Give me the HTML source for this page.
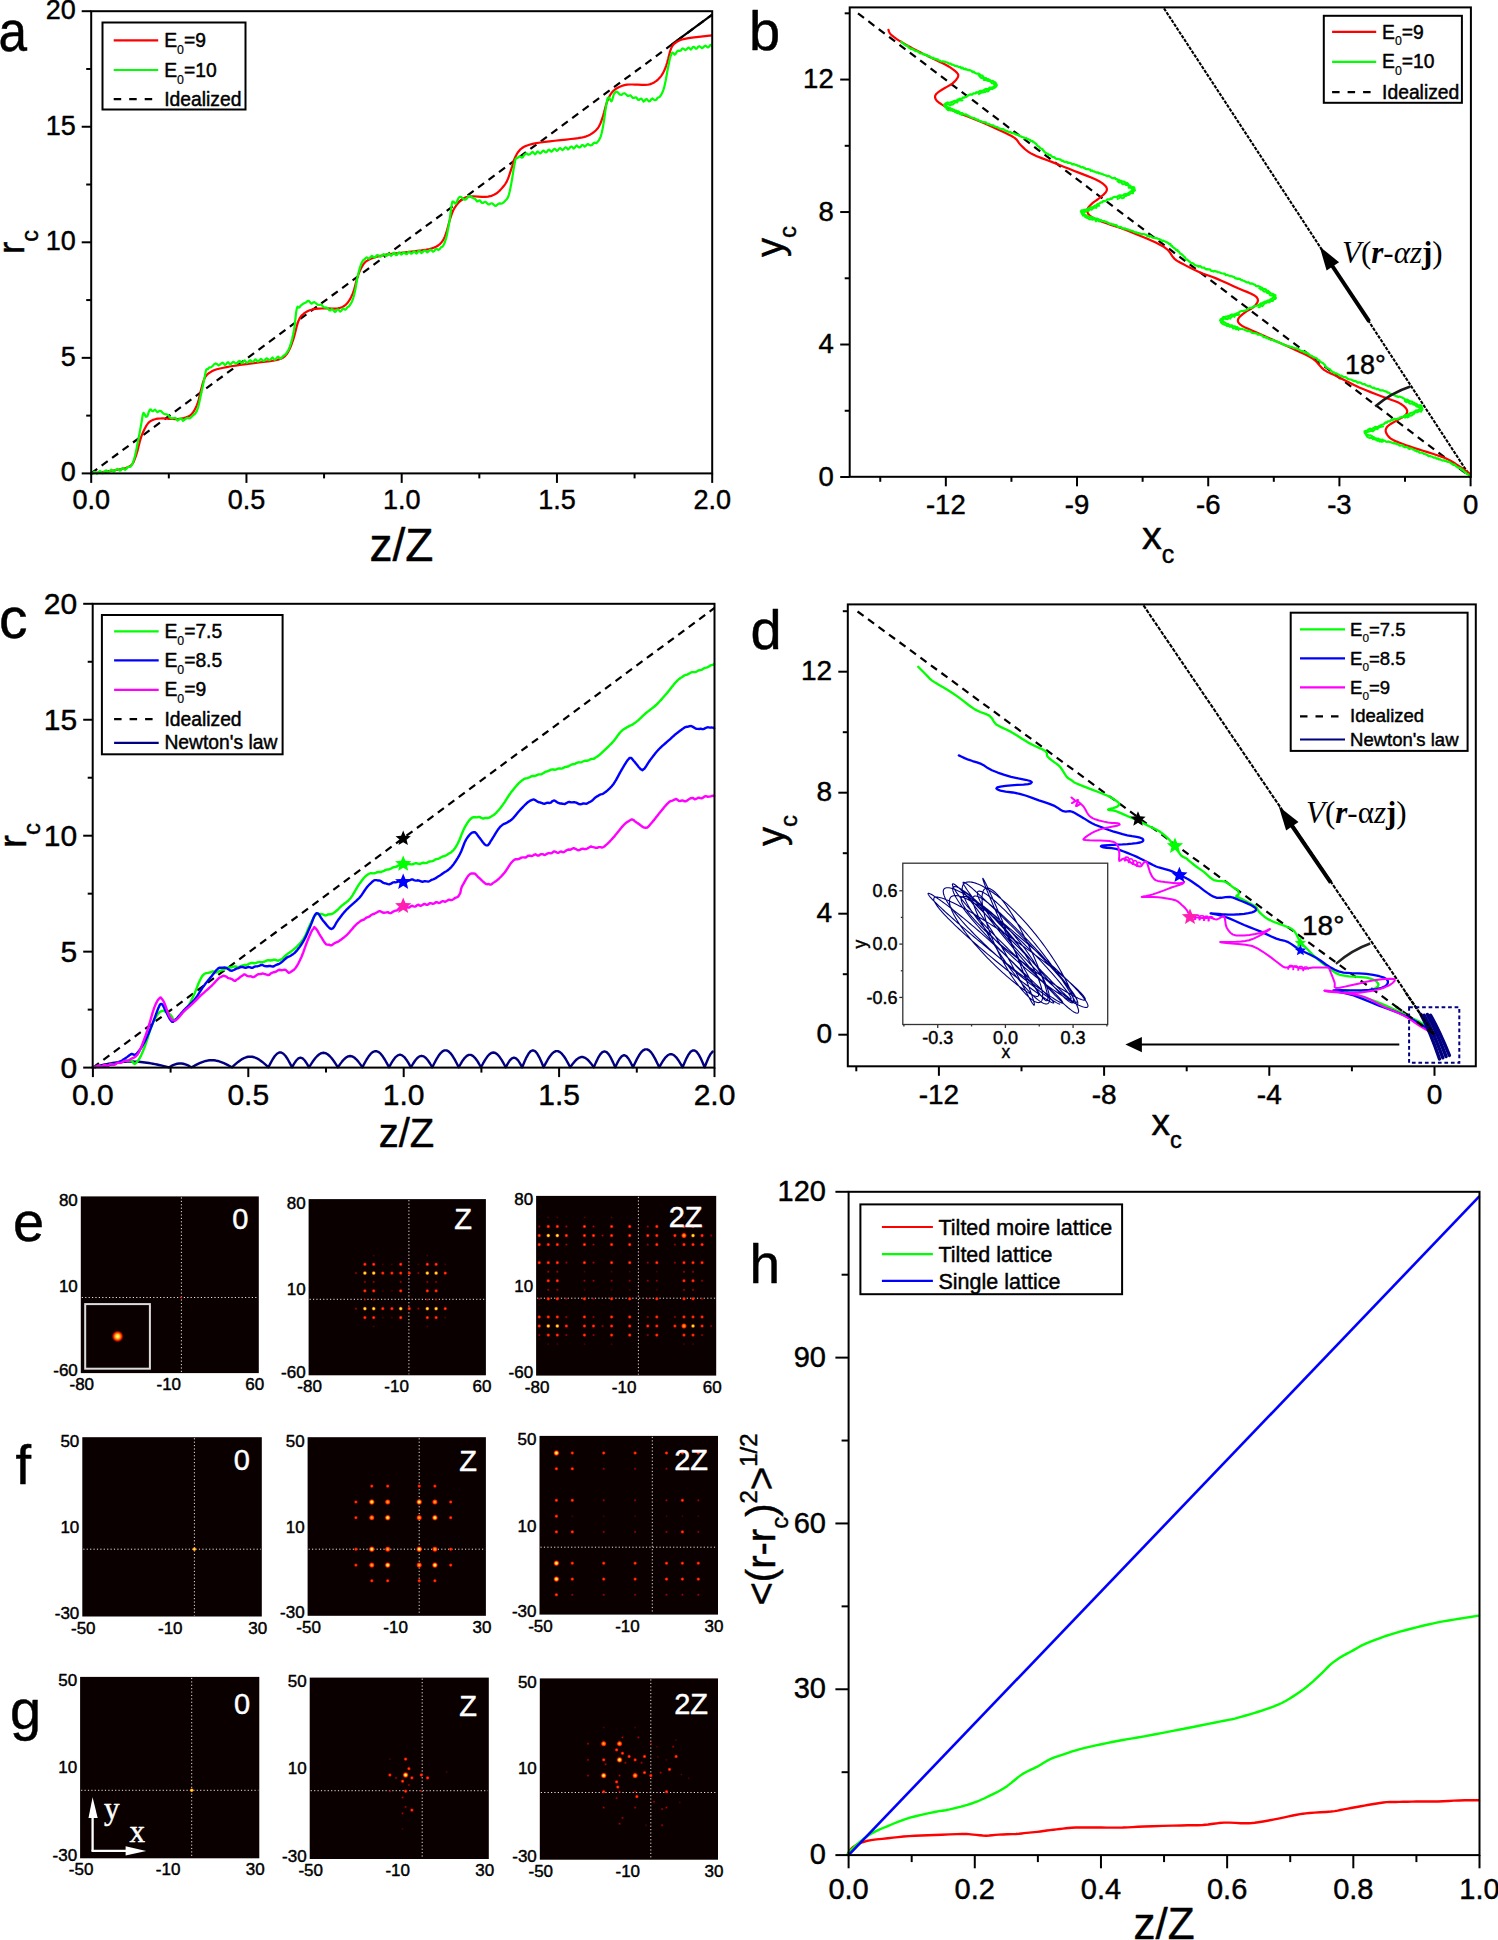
<!DOCTYPE html><html><head><meta charset="utf-8"><style>html,body{margin:0;padding:0;background:#fff;width:1498px;height:1940px;overflow:hidden}</style></head><body><svg width="1498" height="1940" viewBox="0 0 1498 1940" style="display:block">
<style>text{stroke:#000;stroke-width:0.45px;stroke-linejoin:round}text.w{stroke:#fff}tspan.s{stroke-width:0.2px}text.n{stroke:none}</style>
<rect width="1498" height="1940" fill="#fff"/>
<line x1="91.2" y1="473.4" x2="712.2" y2="14.67" stroke="#000" stroke-width="2.2" stroke-dasharray="7.5,5.5"/>
<line x1="671.84" y1="44.48" x2="712.2" y2="14.67" stroke="#000" stroke-width="2.2" />
<polyline points="91.07,473.33 94.77,472.91 100.08,472.32 105.97,471.59 111.37,470.77 116.33,469.97 121.32,469.14 125.87,468.05 129.53,466.5 131.98,464.48 133.54,462.09 134.69,459.23 135.94,455.81 137.33,451.45 138.61,446.33 139.9,441.14 141.28,436.58 142.81,432.73 144.42,429.24 146.06,426.21 147.69,423.76 149.24,422.02 150.76,420.89 152.35,420.13 154.1,419.49 155.99,418.95 157.98,418.65 160.16,418.49 162.65,418.42 165.6,418.51 168.93,418.78 172.32,419.02 175.47,419.06 178.39,418.86 181.21,418.51 183.83,418.01 186.15,417.35 188.08,416.61 189.69,415.77 191.14,414.66 192.56,413.08 194.02,410.91 195.44,408.27 196.75,405.36 197.91,402.39 198.83,399.34 199.58,396.12 200.28,392.83 201.11,389.57 202,386.22 202.91,382.76 203.99,379.51 205.38,376.75 207.12,374.62 209.12,372.95 211.39,371.57 213.93,370.34 216.84,369.29 220.07,368.47 223.45,367.79 226.75,367.14 229.76,366.54 232.63,366.04 235.77,365.55 239.57,365 244.41,364.35 249.99,363.64 255.7,362.92 260.94,362.22 265.71,361.63 270.29,361.1 274.46,360.49 278.03,359.66 280.82,358.72 282.98,357.69 284.8,356.32 286.58,354.32 288.36,351.57 289.99,348.24 291.51,344.48 292.99,340.43 294.4,335.72 295.73,330.41 297.02,325.3 298.33,321.2 299.59,318.43 300.8,316.52 302.11,315.09 303.68,313.72 305.49,312.35 307.48,311.18 309.71,310.21 312.22,309.44 315.13,308.93 318.37,308.64 321.74,308.49 325.04,308.38 328.35,308.4 331.72,308.58 334.96,308.65 337.86,308.38 340.35,307.76 342.54,306.91 344.52,305.72 346.41,304.1 348.21,301.98 349.88,299.43 351.42,296.54 352.82,293.42 354.04,289.88 355.09,285.94 356.08,282 357.09,278.46 358.11,275.41 359.1,272.65 360.15,270.12 361.37,267.78 362.57,265.63 363.77,263.7 365.37,261.94 367.78,260.3 370.85,258.8 374.44,257.45 378.98,256.19 384.87,254.96 393.19,253.71 403.39,252.49 413.45,251.35 421.37,250.34 426.36,249.58 429.59,249 431.91,248.4 434.19,247.56 436.51,246.48 438.46,245.25 440.15,243.84 441.67,242.22 442.96,240.46 444,238.55 444.95,236.34 445.94,233.68 447.01,230.29 448.08,226.33 449.15,222.31 450.21,218.72 451.21,215.7 452.15,212.98 453.19,210.45 454.49,208.03 456.11,205.62 457.96,203.29 459.95,201.2 461.97,199.49 463.88,198.22 465.77,197.31 467.9,196.69 470.51,196.28 473.95,196.24 477.99,196.54 482.03,196.87 485.47,196.92 488.11,196.65 490.28,196.2 492.18,195.58 494.02,194.79 495.77,193.84 497.36,192.73 498.87,191.42 500.43,189.87 502.08,188.07 503.77,186.03 505.39,183.77 506.84,181.32 508.06,178.64 509.11,175.72 510.09,172.66 511.11,169.57 512.13,166.34 513.11,162.96 514.17,159.68 515.38,156.75 516.74,154.21 518.19,151.94 519.84,149.94 521.79,148.21 524.02,146.8 526.47,145.69 529.26,144.78 532.48,143.93 536.2,143.17 540.36,142.53 544.85,141.95 549.57,141.37 554.81,140.75 560.52,140.15 566.1,139.57 570.94,139.02 574.85,138.55 578.15,138.15 581.06,137.7 583.76,137.09 586.25,136.33 588.43,135.45 590.42,134.43 592.31,133.25 594.11,131.93 595.78,130.47 597.32,128.8 598.72,126.84 599.94,124.57 600.99,122.03 601.97,119.23 602.99,116.15 604.01,112.61 604.99,108.68 606.05,104.74 607.26,101.2 608.62,98.1 610.07,95.25 611.72,92.71 613.68,90.51 616.05,88.69 618.75,87.21 621.59,86.05 624.36,85.17 626.98,84.66 629.57,84.5 632.22,84.52 635.04,84.53 638.2,84.62 641.59,84.84 644.91,84.96 647.86,84.74 650.35,84.15 652.54,83.3 654.52,82.21 656.41,80.9 658.21,79.36 659.88,77.59 661.42,75.6 662.82,73.42 664.04,71.07 665.09,68.54 666.08,65.78 667.09,62.74 668.11,59.1 669.1,54.99 670.15,51.02 671.37,47.78 672.72,45.5 674.17,43.84 675.82,42.54 677.78,41.37 679.85,40.33 682.05,39.54 684.79,38.86 688.46,38.16 693.99,37.37 700.88,36.57 707.44,35.87 711.97,35.38" fill="none" stroke="#ff0000" stroke-width="2.2" stroke-linejoin="round" stroke-linecap="round" />
<polyline points="91.07,473.33 92.31,473.92 93.55,472.26 94.79,471.78 95.86,472.82 96.93,473.58 98.01,472.98 99.08,471.83 100.15,470.98 101.33,471.98 102.51,473.35 103.69,472.51 104.86,471.11 106.04,470.36 107.11,471.43 108.17,472.18 109.24,471.83 110.3,470.39 111.37,469.64 112.56,470.72 113.75,471.66 114.95,470.77 116.14,469.53 117.32,468.86 118.5,469.7 119.67,470.55 120.85,470.33 121.91,468.59 122.97,468.09 124.03,469.05 125.09,469.78 126.21,469.05 127.34,467.32 128.46,466.87 129.55,466.9 130.65,466.68 131.93,464.83 132.38,463.85 132.82,462.88 133.31,461.48 133.8,460.09 134.1,459.08 134.39,458.07 134.68,457.06 134.97,456.05 135.19,455.06 135.41,454.06 135.63,453.06 135.85,452.07 136.07,451.07 136.28,450.01 136.49,448.96 136.69,447.9 136.9,446.84 137.11,445.79 137.3,444.8 137.5,443.81 137.69,442.83 137.88,441.84 138.08,440.85 138.3,439.71 138.53,438.57 138.75,437.42 138.98,436.28 139.19,435.15 139.4,434.03 139.6,432.9 139.81,431.77 140.01,430.71 140.2,429.65 140.39,428.59 140.58,427.53 140.81,426.28 141.05,425.02 141.28,423.76 141.48,422.6 141.67,421.45 141.87,420.29 142.03,419.22 142.19,418.15 142.35,417.08 142.59,415.81 142.83,414.55 143.42,412.82 144.14,413.37 144.95,415.01 145.8,416.76 146.62,416.66 147.4,416.11 147.78,414.96 148.16,413.81 148.56,412.61 148.95,411.42 149.83,409.68 150.82,409.47 151.9,410.9 153.01,411.17 154.1,410.22 155.15,409.69 156.17,410.88 157.23,412.14 158.38,411.64 159.64,410.75 160.98,411.01 162.36,412.56 163.72,413.8 165.03,414.19 166.32,414.32 167.65,414.77 169.06,416.22 170.54,417.94 172.06,418.34 173.69,418 175.47,417.83 176.49,419.19 177.51,420.58 178.63,419.98 179.74,418.88 180.86,418.4 181.98,419.38 183,420.83 184.02,420.19 185.77,418.65 187.36,417.84 188.87,418.31 190.43,418.05 192.08,416.54 192.92,415.28 193.77,414.76 194.58,414.27 195.39,413.39 196.11,412.17 196.84,410.94 197.25,409.75 197.67,408.56 198.08,407.37 198.35,406.26 198.63,405.15 198.9,404.04 199.17,402.93 199.42,401.75 199.67,400.57 199.92,399.4 200.17,398.22 200.4,397.13 200.64,396.03 200.88,394.94 201.11,393.85 201.34,392.84 201.56,391.84 201.79,390.84 202.01,389.83 202.22,388.85 202.43,387.87 202.64,386.88 202.85,385.9 203.1,384.67 203.36,383.44 203.62,382.2 203.85,381.1 204.08,379.99 204.32,378.89 204.51,377.9 204.71,376.9 204.9,375.91 205.14,374.56 205.38,373.21 205.63,372.08 205.87,370.95 206.45,369.27 207.15,369.14 207.92,369.19 208.76,367.83 209.66,367.42 210.55,367.45 211.46,366.89 212.54,366.14 213.93,364.36 215.57,363.44 217.4,364.33 218.52,365.44 219.64,364.88 221.06,363.54 222.48,362.58 223.67,363.56 224.86,365.07 226.05,364.47 227.09,362.97 228.14,362.14 229.18,363.47 230.22,364.53 231.37,363.62 232.51,362.31 233.65,361.79 234.8,362.78 235.99,363.76 237.19,363.08 238.38,361.53 239.57,360.91 240.6,361.91 241.63,363.24 242.66,362.54 243.69,361.24 244.71,360.31 245.82,361.81 246.93,362.78 248.04,362.34 249.15,360.76 250.26,360.2 251.36,361.11 252.47,361.9 253.58,361.7 254.69,359.85 255.8,359.36 256.83,360.6 257.86,361.59 258.88,360.98 259.91,359.69 260.94,358.97 262.15,359.88 263.35,360.87 264.56,360.59 265.76,358.83 266.93,358.41 268.09,359.23 269.26,360.19 270.42,359.78 271.47,358.35 272.52,357.47 273.56,358.79 274.61,359.84 275.75,359.15 276.89,357.6 278.03,356.63 279.22,357.77 280.41,358.67 281.97,357.45 283.17,356.06 284.44,355.05 285.16,354.63 285.88,353.87 286.56,352.94 287.25,352.02 287.9,350.87 288.55,349.72 288.96,348.76 289.37,347.8 289.79,346.84 290.18,345.65 290.57,344.46 290.96,343.27 291.24,342.22 291.52,341.18 291.8,340.14 292.08,339.09 292.34,337.95 292.6,336.8 292.86,335.66 293.12,334.52 293.36,333.32 293.59,332.13 293.83,330.94 294.06,329.74 294.22,328.65 294.37,327.55 294.53,326.45 294.68,325.35 294.84,324.25 294.95,323.23 295.06,322.21 295.16,321.19 295.27,320.17 295.38,319.15 295.49,318.12 295.61,316.99 295.74,315.86 295.87,314.73 295.99,313.6 296.12,312.47 296.3,311.44 296.48,310.42 296.66,309.4 296.84,308.38 297.24,307.46 297.65,306.53 298.49,307.68 299.42,307.5 300.47,305.8 301.61,305.01 302.83,303.93 304.21,303.24 305.81,302.58 307.77,300.84 308.9,300.96 310.02,302.18 311.16,303.57 312.3,303.35 313.33,302.23 314.36,302.1 316.06,303.47 317.56,304.67 319.07,305.02 320.77,304.51 321.76,304.81 322.76,306.25 323.83,307.32 324.91,307.69 326.02,307.4 327.13,307.9 328.22,308.88 329.32,310.18 330.38,310.49 331.45,309.2 332.52,309.25 333.59,310.46 334.66,311.83 335.73,311.56 336.79,309.79 337.86,309.44 338.97,310.18 340.08,311.57 341.21,310.79 342.34,309.36 343.42,308.46 344.5,309.38 345.45,309.75 346.41,308.65 347.22,307.44 348.02,306.85 348.72,306.46 349.42,305.71 350.03,304.84 350.64,303.97 351.2,302.97 351.75,301.97 352.23,300.86 352.7,299.75 353.1,298.52 353.49,297.29 353.85,295.9 354.21,294.5 354.46,293.43 354.71,292.36 354.96,291.28 355.22,289.97 355.47,288.67 355.73,287.36 355.92,286.24 356.11,285.11 356.3,283.99 356.49,282.87 356.69,281.73 356.89,280.59 357.09,279.45 357.29,278.31 357.51,277.28 357.72,276.25 357.94,275.22 358.16,274.19 358.49,272.94 358.81,271.7 359.13,270.46 359.48,269.27 359.82,268.09 360.17,266.91 360.53,265.87 360.9,264.83 361.27,263.8 361.85,262.58 362.44,261.37 363.42,259.91 364.31,259.71 365.59,258.18 366.68,257.35 367.78,258.04 368.78,258.69 369.77,258.23 370.77,256.68 371.97,255.9 373.18,256.76 374.38,257.54 375.52,257.16 376.67,255.31 377.81,255.08 378.96,255.74 380.14,256.78 381.32,256.12 382.51,254.73 383.69,254.13 384.87,254.99 385.9,256.03 386.93,255.6 387.95,254.11 388.98,253.33 390.01,254.58 391.03,255.77 392.06,254.98 393.09,253.29 394.09,252.75 395.09,254.11 396.1,255.21 397.1,254.82 398.1,253.2 399.11,252.36 400.11,253.45 401.11,254.61 402.12,254.03 403.12,252.73 404.12,252.27 405.13,253.42 406.13,254.21 407.13,253.99 408.14,252.14 409.14,251.66 410.14,252.94 411.15,253.74 412.15,253.21 413.15,252.02 414.18,251.21 415.21,252.33 416.23,253.53 417.26,253.03 418.29,251.14 419.31,250.76 420.34,251.9 421.37,253.01 422.55,252.29 423.72,250.91 424.9,250.52 426.08,251.29 427.26,252.4 428.39,251.61 429.53,250.12 430.66,249.74 431.79,250.5 432.99,251.73 434.19,251.11 435.39,249.23 436.42,248.94 437.44,249.33 438.46,250.01 439.66,249.06 440.87,247.47 441.67,246.89 442.47,246.68 443.07,245.78 443.67,244.9 444.27,243.56 444.87,242.22 445.18,241.25 445.49,240.28 445.8,239.31 446.12,238.34 446.39,237.13 446.66,235.93 446.94,234.72 447.21,233.51 447.41,232.46 447.61,231.4 447.8,230.35 448,229.29 448.2,228.24 448.39,227.19 448.58,226.14 448.77,225.09 448.96,224.04 449.15,222.99 449.32,221.84 449.5,220.69 449.67,219.55 449.85,218.4 450.02,217.25 450.15,216.2 450.29,215.16 450.42,214.11 450.55,213.06 450.68,212.02 450.81,210.97 450.97,209.85 451.12,208.73 451.27,207.61 451.42,206.49 451.57,205.36 451.83,204.12 452.09,202.87 452.35,201.62 453.13,201.57 453.89,201.82 454.68,203.31 455.56,203.73 456.55,202.32 457.09,201.14 457.63,199.95 458.18,198.79 458.74,197.63 459.83,196.92 460.85,196.74 461.83,197.6 462.88,198.53 464.1,199.61 465.55,199.57 467.17,198.08 468.02,196.88 468.86,195.93 470.51,196.45 472.07,197.6 473.58,198.35 474.38,198.5 475.17,198.95 476.05,199.93 476.92,201.33 477.89,201.48 478.86,200.52 479.89,200.38 480.93,201.88 482.03,202.84 483.13,203 484.3,201.97 485.47,201.85 486.78,202.96 488.09,204.37 489.52,204.34 490.95,203.44 492.34,203.46 493.73,204.68 494.94,205.79 496.15,205.81 498.08,203.98 499.69,203.37 501.14,203.62 502.56,203.18 504.02,202.15 505.44,200.52 506.75,199.29 507.33,198.32 507.91,197.35 508.38,196.09 508.86,194.82 509.12,193.82 509.38,192.81 509.64,191.81 509.88,190.66 510.12,189.51 510.36,188.36 510.61,187.08 510.86,185.81 511.11,184.53 511.32,183.37 511.52,182.21 511.73,181.06 511.94,179.9 512.11,178.83 512.27,177.77 512.44,176.71 512.61,175.64 512.78,174.58 512.94,173.55 513.1,172.52 513.27,171.49 513.43,170.46 513.59,169.43 513.77,168.4 513.95,167.36 514.13,166.33 514.32,165.3 514.58,163.86 514.85,162.43 515.05,161.39 515.25,160.36 515.72,158.89 516.45,158.17 517.59,157.88 518.99,156.71 520.46,156.56 521.79,157.69 522.74,157.31 523.46,156.11 524.42,154.75 526.07,153.3 527.27,153.99 528.47,154.68 529.94,154.18 531.41,152.71 532.57,151.97 533.73,152.92 534.88,154.33 535.88,153.66 536.89,151.94 537.89,151.38 538.89,152.49 540.07,153.48 541.26,152.7 542.44,151.02 543.63,150.52 544.71,151.75 545.79,152.41 546.88,151.97 547.96,150.29 549.04,149.71 550.17,150.64 551.31,151.7 552.44,150.99 553.58,149.37 554.71,148.8 555.82,149.79 556.93,150.89 558.04,150.09 559.15,148.52 560.26,148.12 561.36,149.07 562.47,150.17 563.58,149.27 564.69,147.88 565.8,147.28 566.93,148.07 568.07,149.48 569.2,148.53 570.34,146.91 571.47,146.49 572.56,147.31 573.64,148.49 574.72,147.77 575.8,146.11 576.88,145.5 578.07,146.74 579.25,147.45 580.44,147.08 581.62,145.36 582.62,145 583.61,145.66 584.61,146.59 585.61,146.02 586.75,144.71 587.89,144.02 589.04,144.82 590.5,145.48 591.97,145 593.2,143.5 594.44,142.67 595.4,142.89 596.36,143.1 597.72,141.75 598.78,140.35 599.28,139.47 599.79,138.59 600.26,137.47 600.74,136.36 601.13,135.05 601.52,133.74 601.76,132.7 602,131.66 602.24,130.61 602.49,129.35 602.74,128.1 602.99,126.84 603.16,125.84 603.32,124.85 603.49,123.86 603.65,122.86 603.82,121.87 603.99,120.69 604.15,119.5 604.32,118.32 604.49,117.14 604.66,115.95 604.82,114.79 604.98,113.63 605.15,112.46 605.31,111.3 605.47,110.14 605.65,108.97 605.83,107.8 606.02,106.64 606.2,105.47 606.39,104.36 606.59,103.24 606.78,102.13 607.02,100.86 607.26,99.59 607.75,97.86 608.33,97.91 609.06,97.39 609.87,99.06 610.71,100.73 611.54,101.25 612.29,99.74 612.65,98.43 613.01,97.12 613.4,95.77 613.79,94.41 614.27,93.53 614.74,92.99 615.9,91.54 617.21,91.83 618.62,93.36 620.09,94.72 621.56,94.83 623.09,93.53 624.72,93.22 626.5,94.73 627.49,95.88 628.48,95.97 629.56,95.53 630.64,95.32 631.75,96.79 632.86,97.95 633.95,98 635.04,97.48 636.06,97.31 637.08,98.5 638.06,99.8 639.05,99.99 640.1,98.99 641.15,98.52 642.37,99.85 643.59,101.57 644.62,100.78 645.64,99.42 646.67,98.87 647.85,100.29 649.02,101.4 650.2,100.96 651.34,99.23 652.49,98.5 653.63,99.55 655.02,100.23 656.41,99.76 657.37,98 658.32,97.51 659.68,96.94 660.74,95.45 661.25,94.59 661.75,93.72 662.23,92.75 662.7,91.79 663.1,90.72 663.49,89.64 663.85,88.39 664.21,87.13 664.46,86.12 664.71,85.11 664.96,84.1 665.22,82.82 665.49,81.54 665.76,80.25 665.96,79.13 666.16,78.01 666.36,76.88 666.56,75.76 666.76,74.61 666.96,73.46 667.16,72.31 667.36,71.16 667.56,70.12 667.76,69.08 667.96,68.05 668.16,67.01 668.42,65.75 668.68,64.49 668.94,63.23 669.19,62.02 669.45,60.81 669.7,59.6 669.96,58.55 670.23,57.51 670.49,56.47 670.93,55.33 671.37,54.19 672.36,52.57 673.44,53.17 674.55,54.71 675.64,53.8 676.46,52.35 677.11,51.47 678.09,50.7 679.91,50.79 680.89,50.56 681.87,49.03 682.85,48.41 684.1,49.11 685.35,50.19 686.59,49.41 687.63,48.16 688.66,47.55 689.7,48.28 690.73,49.63 691.77,48.7 692.8,47.1 693.84,46.85 694.87,47.68 696,48.83 697.13,48.32 698.26,46.46 699.4,46.23 700.64,47.05 701.87,48.18 703.11,47.56 704.35,46.18 705.48,45.62 706.6,46.47 707.72,47.46 708.84,47 709.88,45.49 710.93,44.78 711.97,46.07" fill="none" stroke="#00ff00" stroke-width="2.2" stroke-linejoin="round" stroke-linecap="round" />
<rect x="91.2" y="11.2" width="621" height="462.2" fill="none" stroke="#000" stroke-width="2" />
<line x1="91.2" y1="473.4" x2="91.2" y2="482.9" stroke="#000" stroke-width="2" />
<line x1="246.45" y1="473.4" x2="246.45" y2="482.9" stroke="#000" stroke-width="2" />
<line x1="401.7" y1="473.4" x2="401.7" y2="482.9" stroke="#000" stroke-width="2" />
<line x1="556.95" y1="473.4" x2="556.95" y2="482.9" stroke="#000" stroke-width="2" />
<line x1="712.2" y1="473.4" x2="712.2" y2="482.9" stroke="#000" stroke-width="2" />
<line x1="168.82" y1="473.4" x2="168.82" y2="478.4" stroke="#000" stroke-width="2" />
<line x1="324.07" y1="473.4" x2="324.07" y2="478.4" stroke="#000" stroke-width="2" />
<line x1="479.32" y1="473.4" x2="479.32" y2="478.4" stroke="#000" stroke-width="2" />
<line x1="634.58" y1="473.4" x2="634.58" y2="478.4" stroke="#000" stroke-width="2" />
<line x1="81.7" y1="473.4" x2="91.2" y2="473.4" stroke="#000" stroke-width="2" />
<line x1="81.7" y1="357.85" x2="91.2" y2="357.85" stroke="#000" stroke-width="2" />
<line x1="81.7" y1="242.3" x2="91.2" y2="242.3" stroke="#000" stroke-width="2" />
<line x1="81.7" y1="126.75" x2="91.2" y2="126.75" stroke="#000" stroke-width="2" />
<line x1="81.7" y1="11.2" x2="91.2" y2="11.2" stroke="#000" stroke-width="2" />
<line x1="86.2" y1="415.62" x2="91.2" y2="415.62" stroke="#000" stroke-width="2" />
<line x1="86.2" y1="300.07" x2="91.2" y2="300.07" stroke="#000" stroke-width="2" />
<line x1="86.2" y1="184.52" x2="91.2" y2="184.52" stroke="#000" stroke-width="2" />
<line x1="86.2" y1="68.97" x2="91.2" y2="68.97" stroke="#000" stroke-width="2" />
<text x="91.2" y="509" font-size="27" font-family="Liberation Sans" text-anchor="middle" fill="#000" >0.0</text>
<text x="246.45" y="509" font-size="27" font-family="Liberation Sans" text-anchor="middle" fill="#000" >0.5</text>
<text x="401.7" y="509" font-size="27" font-family="Liberation Sans" text-anchor="middle" fill="#000" >1.0</text>
<text x="556.95" y="509" font-size="27" font-family="Liberation Sans" text-anchor="middle" fill="#000" >1.5</text>
<text x="712.2" y="509" font-size="27" font-family="Liberation Sans" text-anchor="middle" fill="#000" >2.0</text>
<text x="75.7" y="481.3" font-size="27" font-family="Liberation Sans" text-anchor="end" fill="#000" >0</text>
<text x="75.7" y="365.75" font-size="27" font-family="Liberation Sans" text-anchor="end" fill="#000" >5</text>
<text x="75.7" y="250.2" font-size="27" font-family="Liberation Sans" text-anchor="end" fill="#000" >10</text>
<text x="75.7" y="134.65" font-size="27" font-family="Liberation Sans" text-anchor="end" fill="#000" >15</text>
<text x="75.7" y="19.1" font-size="27" font-family="Liberation Sans" text-anchor="end" fill="#000" >20</text>
<text transform="translate(-1.5,50.5) scale(0.9,1)" font-size="57" font-family="Liberation Sans">a</text>
<text x="401.5" y="560.8" font-size="46" font-family="Liberation Sans" text-anchor="middle" fill="#000" >z/Z</text>
<text transform="translate(24,254) rotate(-90)" font-size="37" font-family="Liberation Sans">r<tspan font-size="23.5" dy="14">c</tspan></text>
<rect x="102.5" y="22.5" width="143" height="87" fill="#fff" stroke="#000" stroke-width="2" />
<line x1="113.7" y1="40.4" x2="158.2" y2="40.4" stroke="#ff0000" stroke-width="2.2" />
<text x="164.2" y="47" font-size="19.3" font-family="Liberation Sans">E<tspan class="s" font-size="12.35" dy="6.95">0</tspan><tspan dy="-6.95">=9</tspan></text>
<line x1="113.7" y1="70" x2="158.2" y2="70" stroke="#00ff00" stroke-width="2.2" />
<text x="164.2" y="76.6" font-size="19.3" font-family="Liberation Sans">E<tspan class="s" font-size="12.35" dy="6.95">0</tspan><tspan dy="-6.95">=10</tspan></text>
<line x1="113.7" y1="99.1" x2="158.2" y2="99.1" stroke="#000" stroke-width="2.2" stroke-dasharray="7.5,8"/>
<text x="164.2" y="105.8" font-size="19.3" font-family="Liberation Sans">Idealized</text>
<line x1="858" y1="13.4" x2="1470.6" y2="477" stroke="#000" stroke-width="2.2" stroke-dasharray="7.5,5.5"/>
<line x1="1164" y1="8.4" x2="1470.6" y2="477" stroke="#000" stroke-width="2.1" stroke-dasharray="3.4,1.2"/>
<polyline points="888.46,29.91 888.7,30.63 889,31.65 889.56,32.87 890.6,34.19 892.13,35.59 894.07,37.13 896.41,38.8 899.15,40.6 902.28,42.53 905.82,44.6 909.76,46.81 914.1,49.15 919.19,51.77 924.92,54.62 930.58,57.41 935.47,59.83 939.38,61.73 942.68,63.3 945.59,64.74 948.29,66.24 950.9,67.89 953.3,69.58 955.33,71.2 956.84,72.65 957.78,73.82 958.24,74.79 958.26,75.75 957.91,76.92 957.15,78.38 955.97,79.99 954.43,81.68 952.56,83.33 950.17,84.96 947.29,86.61 944.38,88.22 941.88,89.74 939.8,91.15 937.94,92.48 936.45,93.78 935.47,95.09 935.06,96.42 935.14,97.76 935.65,99.09 936.54,100.43 937.83,101.74 939.54,103.03 941.62,104.36 944.02,105.77 946.65,107.25 949.56,108.77 952.91,110.4 956.84,112.18 961.58,114.14 966.99,116.25 972.66,118.46 978.21,120.73 983.7,123.11 989.29,125.6 994.68,128.06 999.57,130.34 1003.96,132.36 1007.99,134.21 1011.54,136 1014.53,137.82 1016.63,139.67 1018,141.49 1019.24,143.35 1020.94,145.3 1023.06,147.36 1025.35,149.51 1028.1,151.68 1031.62,153.85 1036.21,155.98 1041.64,158.12 1047.4,160.26 1052.99,162.39 1058.33,164.53 1063.68,166.67 1069.02,168.8 1074.36,170.94 1079.98,173.13 1085.78,175.35 1091.21,177.5 1095.73,179.49 1099.16,181.27 1101.8,182.89 1103.81,184.42 1105.34,185.9 1106.39,187.28 1106.88,188.57 1106.87,189.85 1106.41,191.24 1105.38,192.77 1103.81,194.38 1101.93,196.02 1100,197.65 1097.91,199.25 1095.59,200.85 1093.34,202.46 1091.45,204.06 1089.88,205.66 1088.51,207.26 1087.55,208.87 1087.18,210.47 1087.4,212.07 1088.11,213.68 1089.43,215.28 1091.45,216.88 1094.29,218.46 1097.86,220.02 1101.97,221.61 1106.41,223.29 1110.97,224.89 1115.81,226.45 1121.3,228.3 1127.78,230.77 1136.22,234.19 1146.15,238.31 1155.75,242.58 1163.22,246.44 1167.74,249.87 1170.39,253.13 1172.21,256.07 1174.23,258.55 1176.44,260.34 1178.37,261.58 1180.43,262.69 1183.05,264.06 1186.39,265.86 1190.21,267.85 1194.3,269.87 1198.47,271.77 1202.62,273.43 1206.87,274.94 1211.33,276.52 1216.09,278.38 1221.45,280.71 1227.25,283.34 1232.98,285.97 1238.13,288.3 1242.7,290.21 1246.94,291.88 1250.62,293.41 1253.55,294.91 1255.63,296.33 1256.99,297.66 1257.73,298.99 1257.95,300.41 1257.57,302.01 1256.58,303.72 1255.16,305.42 1253.55,307.02 1251.6,308.45 1249.28,309.78 1246.89,311.1 1244.73,312.53 1242.72,314.13 1240.74,315.84 1239.11,317.54 1238.13,319.14 1237.85,320.6 1238.13,321.96 1238.95,323.3 1240.33,324.65 1242.2,325.92 1244.6,327.13 1247.61,328.47 1251.34,330.16 1256.08,332.33 1261.67,334.84 1267.61,337.49 1273.38,340.07 1278.99,342.57 1284.67,345.1 1290.21,347.58 1295.41,349.98 1300.28,352.21 1304.91,354.32 1309.19,356.46 1313.03,358.8 1316.2,361.5 1318.81,364.44 1321.29,367.32 1324.05,369.81 1326.99,371.67 1329.97,373.12 1333.29,374.56 1337.27,376.42 1342.15,378.92 1347.73,381.79 1353.58,384.74 1359.3,387.44 1364.91,389.85 1370.59,392.12 1376.13,394.25 1381.33,396.25 1386.28,398.06 1391.04,399.69 1395.35,401.26 1398.95,402.86 1401.78,404.54 1403.98,406.23 1405.59,407.89 1406.66,409.47 1407.19,410.92 1407.15,412.29 1406.59,413.63 1405.56,414.98 1403.9,416.35 1401.64,417.73 1399.13,419.11 1396.75,420.48 1394.39,421.86 1391.93,423.24 1389.68,424.62 1387.94,425.99 1386.77,427.34 1386.01,428.68 1385.67,430.05 1385.73,431.5 1386.27,433.13 1387.25,434.87 1388.57,436.59 1390.14,438.11 1391.88,439.34 1393.86,440.38 1396.18,441.39 1398.95,442.52 1402.29,443.82 1406.11,445.2 1410.21,446.62 1414.38,448.02 1418.63,449.37 1423.05,450.71 1427.54,452.08 1432,453.53 1436.36,454.95 1440.68,456.35 1445.06,458 1449.63,460.14 1454.89,463.29 1460.64,467.16 1465.84,470.83 1469.45,473.36" fill="none" stroke="#ff0000" stroke-width="2.2" stroke-linejoin="round" stroke-linecap="round" />
<polyline points="901.28,41.67 902.18,42.65 903.19,43.46 904.09,44.33 905.21,44.88 906.09,45.78 907.56,45.59 908.2,46.61 908.81,47.66 909.91,48.02 910.8,48.84 912.26,48.68 913.09,49.6 914.23,49.97 915.03,50.69 915.97,51.15 917.17,51.02 918.02,51.66 918.94,52.15 919.75,53.24 920.9,53.52 922.23,53.34 923.05,54.42 924.4,54.18 925.15,55.03 926.29,54.88 927.28,55.11 927.89,56.37 929.09,56.04 930.04,56.41 930.85,57.61 932,57.91 933.33,57.72 934.18,58.82 935.46,58.8 936.47,59.33 937.72,59.23 938.51,60.38 939.67,60.51 940.64,61.19 941.74,61.49 943.02,61.24 944.07,61.68 945.21,61.85 946.28,62.2 947.38,62.48 948.36,63.09 949.32,63.77 950.6,63.51 951.43,64.58 952.62,64.6 953.7,64.93 954.59,65.83 955.78,65.85 956.9,66.05 957.97,66.6 959.02,67.22 960.38,66.93 961.18,68.27 962.65,67.66 963.37,68.75 964.31,69.17 965.57,68.63 966.27,69.76 967.4,69.65 968.29,70.19 969.59,69.98 970.66,70.4 971.7,70.91 972.51,72.09 973.88,71.69 974.77,72.69 975.81,73.3 976.92,73.74 978.27,73.56 979.29,74.09 980.22,74.77 981.09,75.51 982.51,75.6 983.12,76.88 983.9,77.55 984.69,78.25 986.1,78.06 986.54,79.5 988.11,79.1 989.2,79.82 990.38,80.47 991.56,81.17 992.86,80.92 993.71,81.86 995.26,82.3 995.87,83.28 995.47,84.5 994.65,85.77 993.42,86.92 991.79,87.71 990.59,87.52 989.51,87.56 988.63,88.8 987.51,89.29 985.81,88.77 984.6,89.71 983.54,90.24 982.49,90.81 981.24,90.83 980.19,90.93 979.36,91.65 978.4,92.02 977.57,92.74 976.25,92.2 975.57,93.47 974.4,93.35 973.27,93.35 972.29,94.54 970.82,94.38 969.48,94.62 968.49,95.41 967.3,95.7 966.47,96.85 965.27,96.97 964.33,97.72 962.96,97.47 962.16,98.48 961.05,98.77 959.78,98.66 958.8,99.23 957.7,99.52 956.85,100.48 955.61,100.82 954.29,100.95 953.14,101.59 952.18,102.06 951.14,102.2 950.2,102.74 949.13,102.76 947.81,102.46 946.7,102.83 945.66,103.53 944.02,104.7 944.58,105.57 945.63,105.76 946.52,106.41 947.28,107.28 948.22,107.71 949.38,107.54 950.29,108.4 951.37,108.82 952.48,109.17 953.7,109.69 954.86,110.33 956.25,110.48 957.16,111.3 958.41,111.35 959.39,112.03 960.32,112.78 961.28,113.1 962.37,113.1 963,114.16 964.05,114.26 965,114.59 966.17,114.4 966.86,115.33 967.91,115.42 968.66,116.24 969.67,116.42 970.68,117.24 971.9,117.53 972.99,118.14 974.33,118.14 975.16,118.81 976.07,119.27 976.98,119.73 978.12,119.61 978.87,120.48 979.84,120.88 980.88,121.06 981.74,121.73 982.73,122.08 983.87,122.01 984.87,122.41 986.02,122.42 986.75,123.5 987.71,123.99 988.9,123.91 989.85,124.54 990.88,124.98 991.91,125.4 993.18,125.25 993.97,126.28 995.12,126.5 996.16,127.02 997.33,127.2 998.32,127.84 999.33,128.42 1000.47,128.71 1001.52,129.23 1002.89,128.96 1003.92,129.53 1004.89,130.26 1005.88,130.9 1007.14,130.89 1008.02,131.8 1009.12,132.18 1010.44,132.01 1011.39,132.88 1012.6,133.05 1013.79,133.3 1014.87,133.81 1015.92,134.43 1016.93,134.64 1017.89,135.01 1018.91,135.2 1019.7,136 1020.69,136.27 1021.56,136.87 1022.66,137.27 1023.88,137.34 1024.7,138.45 1026.15,137.95 1027.07,138.79 1028.05,139.1 1028.91,139.65 1029.97,139.79 1030.55,140.93 1031.69,140.9 1032.75,141.13 1033.27,142.21 1034.43,142.27 1035.02,143.23 1036.02,143.78 1036.71,144.71 1037.3,145.74 1038.14,146.33 1039.2,146.73 1039.66,147.77 1040.59,148.32 1041.59,148.78 1042.56,149.27 1043.05,150.3 1043.88,150.92 1044.41,151.91 1045.53,152.85 1046.91,153.47 1047.94,153.85 1048.46,154.95 1049.86,154.74 1050.91,155.44 1051.82,156.5 1052.94,157.17 1054.29,157.15 1055.23,158.12 1056.27,158.85 1057.63,158.79 1058.69,159.22 1059.85,159.38 1060.91,159.83 1061.75,160.91 1063.05,160.67 1063.81,161.58 1064.79,161.85 1065.85,161.83 1066.93,161.79 1067.64,162.85 1068.77,162.66 1069.91,162.95 1071.07,163.22 1071.95,164.29 1073.24,164.15 1074.44,164.31 1075.41,164.87 1076.57,164.87 1077.43,165.75 1078.53,165.93 1079.63,166.13 1080.47,167 1081.47,167.4 1082.78,166.92 1083.61,167.81 1084.72,167.9 1085.54,168.96 1086.66,169.17 1087.91,168.98 1088.96,169.38 1090.06,169.63 1090.72,170.83 1091.94,170.45 1092.79,171.11 1093.8,171.31 1094.71,171.82 1095.69,172.12 1096.64,172.6 1097.86,172.29 1098.63,173.3 1099.79,173.16 1100.71,173.74 1101.78,173.88 1102.79,174.18 1103.69,174.75 1104.69,175.01 1105.71,175.23 1106.55,175.96 1107.58,176.13 1108.76,175.88 1109.66,176.43 1110.57,176.97 1111.45,177.81 1112.51,178.14 1113.69,178.15 1114.93,177.96 1115.71,179.11 1116.89,179.11 1117.88,179.62 1118.95,180.18 1120.1,180.51 1121.27,180.77 1122.23,181.63 1123.55,181.51 1124.61,182.01 1125.44,182.97 1126.84,182.83 1128.32,184.06 1128.71,185.37 1130.15,185.48 1131.26,186.86 1132.79,187.1 1133.97,187.27 1134.42,188.09 1133.2,189 1132.37,189.59 1132.17,190.94 1130.94,191.4 1129.9,192.07 1128.86,192.75 1127.86,193.54 1126.78,194.18 1125.48,194.19 1124.15,194.3 1123.09,195.44 1121.64,195.62 1120.07,195.34 1119.05,195.67 1118.07,196.11 1117.25,197.08 1115.85,196.74 1114.6,196.86 1113.43,197.22 1112.57,197.86 1111.84,198.87 1110.59,198.37 1109.85,199.34 1108.71,199.25 1107.62,199.29 1106.73,199.89 1105.97,200.84 1104.68,201.16 1103.2,201.01 1102.29,202.28 1100.93,202.35 1099.87,203.08 1098.85,203.86 1097.5,203.98 1096.68,205.13 1095.53,205.64 1094.34,205.94 1093.44,206.79 1092.39,207.36 1091.18,207.32 1090.15,207.63 1089.16,207.95 1088.06,209.21 1086.55,209.41 1085.24,209.9 1083.81,209.96 1082.8,210.41 1081.52,210.32 1080.9,211.58 1081.53,212.2 1082.52,213.79 1083.88,213.82 1084.71,214.85 1085.97,215.27 1087,216.23 1088.36,216.34 1089.54,216.88 1091,216.94 1092.24,217.67 1093.45,217.7 1094.4,218.56 1095.59,218.66 1096.82,218.62 1097.89,219.09 1098.94,219.59 1099.92,220.33 1101.07,220.08 1101.83,220.97 1102.8,221.24 1103.96,220.98 1104.7,221.92 1105.86,221.65 1106.82,222.03 1107.61,222.85 1108.71,222.83 1109.44,223.83 1110.55,223.76 1111.57,223.93 1112.37,224.77 1113.71,224.34 1114.53,225.44 1115.84,225.11 1116.87,225.58 1117.65,226.79 1118.81,226.88 1120.04,226.77 1121.06,226.99 1121.74,228.21 1122.82,228.22 1123.75,228.71 1124.97,228.33 1125.78,229.17 1126.85,229.22 1127.87,229.42 1128.81,229.83 1129.71,230.43 1130.77,230.46 1131.74,230.8 1132.81,230.85 1133.56,231.88 1134.61,232 1135.54,232.47 1136.64,232.38 1137.49,233.11 1138.57,233.05 1139.53,233.42 1140.51,233.69 1141.44,234.16 1142.53,234.09 1143.6,234.07 1144.6,234.29 1145.52,234.76 1146.56,234.88 1147.32,236.1 1148.49,235.99 1149.43,236.6 1150.72,236.12 1151.6,236.94 1152.5,237.7 1153.63,237.74 1154.73,237.86 1155.75,238.22 1156.96,238.22 1158.01,238.66 1159.07,239.05 1160.06,239.65 1161.12,240.05 1162.01,240.94 1163.36,240.58 1164.31,241.14 1165.27,241.63 1166.3,241.97 1167.21,242.55 1168.23,242.97 1169.14,243.89 1170.46,244.17 1170.94,245.66 1172.12,245.87 1172.53,247.04 1173.52,247.52 1174.46,248.3 1175.53,248.93 1176.11,250.11 1177.53,250.16 1177.94,251.34 1179.03,251.77 1179.56,252.81 1180.32,253.66 1181.56,254.04 1182.34,254.89 1183.28,255.57 1183.94,256.53 1184.88,257.21 1185.45,258.26 1185.85,259.53 1187.15,259.7 1188.05,260.34 1188.81,261.15 1189.79,261.66 1190.42,262.59 1191.31,263.09 1192.5,263.07 1193.33,263.64 1194.33,264.61 1195.41,265.41 1196.76,265.66 1197.82,265.8 1198.58,266.72 1199.92,266.08 1200.87,266.49 1201.7,267.62 1202.92,267.61 1204.15,267.62 1205.06,268.52 1205.92,269.31 1207.09,269.14 1208.15,269.29 1209.25,269.34 1210.26,269.64 1211.11,270.84 1212.35,270.73 1213.32,271.52 1214.71,270.91 1215.76,271.43 1216.97,271.56 1218.02,272.25 1219.27,272.23 1220.37,272.76 1221.48,273.25 1222.64,273.49 1223.86,273.57 1224.99,273.9 1225.83,275.23 1227.22,274.74 1228.24,275.46 1229.41,275.73 1230.5,276.24 1231.78,276.15 1232.84,276.76 1233.87,276.88 1234.68,277.66 1235.5,278.38 1236.58,278.38 1237.45,278.97 1238.64,278.64 1239.83,278.83 1240.75,279.77 1241.88,280.11 1242.96,280.59 1244.14,280.79 1245.06,281.42 1246.03,281.9 1246.97,282.46 1248.21,282.22 1249.16,282.74 1250.14,283.57 1251.52,283.4 1252.69,283.73 1253.75,284.38 1254.88,284.58 1255.63,285.71 1256.64,286.19 1257.9,286.11 1258.9,286.33 1259.84,286.69 1260.68,287.26 1261.67,287.51 1262.54,288.35 1263.5,288.98 1264.69,289.15 1265.96,289.63 1266.77,290.89 1268.01,290.88 1268.75,291.61 1270.02,292.72 1271.24,293.68 1272.84,294.04 1274.23,294.82 1275.43,295.19 1275.31,295.93 1274.76,296.91 1273,297.71 1272.13,298.52 1271.05,299.01 1270.04,299.76 1269,300.47 1267.6,300.65 1266.46,301.36 1264.95,301.6 1263.65,302.38 1262.68,302.78 1261.88,303.59 1260.69,303.4 1259.9,304.21 1259.05,304.83 1258.13,305.26 1256.71,305.71 1255.3,306.16 1253.75,306.29 1252.53,307.24 1251.25,308.02 1249.58,307.86 1248.29,308.62 1247.13,309.71 1245.8,310.22 1244.44,310.68 1243.06,310.98 1241.56,310.99 1240.16,311.45 1238.94,312.34 1238.07,313.12 1236.97,313.31 1235.97,313.78 1234.96,314.14 1234.06,314.81 1232.85,314.54 1231.75,314.62 1230.6,315.08 1229.61,316.1 1228.29,316 1227.22,316.73 1225.99,316.53 1225.03,317.16 1223.8,317 1222.78,317.52 1221.91,318.85 1220.67,319.25 1220.13,320.59 1222.17,321.38 1223.42,321.88 1224.66,322.41 1225.75,323.28 1226.91,323.98 1228.24,324.12 1229.19,325.1 1230.62,325.25 1232.09,325.28 1232.76,326.37 1233.88,326.33 1234.97,326.31 1235.73,327.66 1237.19,327.08 1238.1,328.03 1239.09,328.24 1239.92,328.96 1241.04,328.76 1242.05,328.88 1243.1,329.25 1244.2,329.49 1245.16,330.18 1246.29,330.28 1247.33,331.04 1248.65,330.86 1249.77,331.32 1250.96,331.56 1251.68,332.66 1252.71,332.83 1253.68,333.17 1254.73,333.26 1255.79,333.36 1256.93,333.49 1257.7,334.6 1258.87,334.65 1260.09,334.58 1261.08,335.12 1262.22,335.5 1263.07,336.59 1264.11,337.23 1265.51,336.97 1266.37,338.03 1267.51,337.94 1268.31,338.7 1269.18,339.27 1270.23,339.42 1271.1,339.99 1272.22,339.94 1273.3,339.94 1274.04,340.82 1274.94,341.26 1276.04,341.22 1276.89,341.79 1277.85,342.09 1278.9,342.12 1279.74,342.75 1280.66,343.15 1281.57,343.59 1282.43,344.16 1283.48,344.17 1284.24,345.1 1285.26,345.25 1286.18,345.68 1287.22,345.76 1288.19,346.06 1289.2,346.24 1290.22,346.89 1291.48,346.81 1292.51,347.43 1293.59,347.89 1294.76,348.11 1295.86,348.24 1296.95,348.41 1297.96,348.8 1298.86,349.46 1299.78,350.07 1300.81,350.72 1301.93,351.15 1303.21,351.22 1304.04,352.32 1305.34,352.13 1306.12,353.04 1307.42,352.87 1308.09,354.02 1309.03,354.42 1309.79,355.18 1310.73,355.6 1311.74,355.87 1312.78,356.68 1313.97,357.25 1315.17,357.8 1316.46,358.16 1317.3,359.16 1318.09,360.22 1319.47,360.42 1319.89,361.81 1321.12,362.21 1322.1,362.84 1323.25,363.27 1323.83,364.34 1324.81,364.85 1325.31,365.95 1325.97,366.84 1326.98,367.73 1328.22,368.36 1329.22,368.95 1330.24,369.48 1330.85,370.75 1331.95,371.41 1332.89,372.15 1334.1,372.41 1334.87,373.5 1336.3,373.34 1337.36,373.93 1338.49,374.4 1339.43,375.26 1340.39,375.98 1341.77,375.67 1342.64,376.58 1343.66,377.15 1344.95,377.04 1346.01,377.25 1346.8,378.15 1347.7,378.8 1348.67,379.23 1349.73,379.45 1350.84,379.51 1351.89,379.91 1352.89,380.4 1353.8,381.18 1355.08,380.95 1356.13,381.32 1357.05,382.04 1357.92,382.77 1359.2,382.31 1360.25,382.51 1361.21,382.95 1362.04,383.77 1363.02,384.16 1364.16,384.08 1365.11,384.41 1365.92,385.16 1366.86,385.54 1367.8,385.91 1368.74,386.28 1369.94,385.91 1370.74,386.68 1371.57,387.37 1372.6,387.86 1373.9,387.56 1374.78,388.48 1375.93,388.63 1376.9,389.29 1378.22,388.93 1379.12,389.78 1380.16,390.3 1381.38,390.31 1382.61,390.29 1383.67,390.77 1384.77,391.11 1385.88,391.42 1386.92,391.87 1387.81,392.73 1389.05,392.58 1389.87,393.64 1390.93,394 1392.02,394.5 1393.15,394.9 1394.31,395.23 1395.35,395.86 1396.33,396.28 1397.47,396.32 1398.34,397.05 1399.68,396.55 1400.64,396.92 1401.61,397.26 1402.52,397.78 1403.41,398.32 1404.33,398.79 1405.18,399.39 1406.11,399.83 1407.33,399.53 1408.39,400.35 1409.52,400.97 1410.78,401.29 1411.95,401.48 1412.81,402.41 1413.97,402.64 1415.17,403.55 1416.58,403.96 1417.49,404.91 1418.62,405.37 1420.85,405.26 1421.61,406.61 1421.85,407.19 1421.36,408.43 1420.52,409.16 1419.41,409.35 1418.27,410.04 1416.89,410.23 1415.5,410.65 1414.43,411.79 1413.5,412.32 1412.43,412.56 1411.37,412.8 1410.22,413.18 1409.19,413.87 1408.2,414.63 1407,415.07 1405.62,415.02 1404.58,415.83 1403.62,416.76 1402.33,416.82 1401.26,417.45 1399.96,417.4 1399.04,418.41 1397.83,418.6 1396.72,419.15 1395.44,419.11 1394.11,418.94 1393.15,419.76 1392.08,420.28 1390.78,420.06 1390.09,421.29 1388.99,421.38 1387.81,421.27 1386.97,422.62 1385.42,422.4 1384.65,423.33 1383.86,424.19 1382.74,424.51 1381.63,424.85 1380.42,425.52 1379.12,425.98 1378.07,426.9 1376.79,427.17 1375.3,426.82 1374.39,427.73 1373.28,428.06 1372.31,428.82 1371.15,428.98 1369.91,428.63 1369.03,429.27 1368.1,429.81 1367.33,430.62 1366.02,430.94 1364.56,431.32 1364.67,432.65 1365.78,433.86 1366.68,434.7 1367.86,434.97 1369.06,435.5 1370.51,435.44 1371.79,435.95 1372.76,437.23 1373.91,437.2 1374.75,438.02 1375.78,438.31 1376.93,438.77 1378.29,438.57 1379.27,439.58 1380.37,439.64 1381.35,440.1 1382.62,439.63 1383.44,440.61 1384.75,440.59 1385.78,441.52 1386.97,441.9 1388.4,441.43 1389.42,441.96 1390.55,442.11 1391.57,442.63 1392.7,442.74 1393.67,443.45 1394.81,443.16 1395.76,443.5 1396.64,444.08 1397.73,443.97 1398.61,444.58 1399.41,445.4 1400.41,445.71 1401.65,445.31 1402.71,445.45 1403.44,446.62 1404.4,447.08 1405.53,447.03 1406.77,446.93 1407.8,447.42 1408.61,448.51 1409.67,448.91 1411.07,448.35 1412.09,448.89 1412.97,449.52 1414,449.72 1414.79,450.59 1415.91,450.57 1416.73,451.35 1417.94,451.08 1418.77,451.83 1419.57,452.67 1420.65,452.77 1421.86,452.51 1422.83,452.91 1423.59,453.83 1424.67,453.93 1425.65,454.3 1426.67,454.81 1427.7,455.32 1428.62,456.12 1429.97,455.77 1430.91,456.51 1432.09,456.59 1432.98,457.22 1433.91,457.75 1435.11,457.46 1435.99,458.15 1436.91,458.72 1438.14,458.33 1438.84,459.42 1439.91,459.35 1440.84,459.74 1441.76,460.15 1442.65,460.63 1443.86,460.16 1444.78,460.99 1446.02,460.87 1446.98,461.59 1448.07,461.91 1449.28,461.95 1450.17,462.66 1451.09,463.23 1451.99,463.86 1452.86,464.56 1454.1,464.42 1454.95,465.13 1455.78,465.86 1456.6,466.63 1457.52,467.2 1458.42,467.78 1459.72,467.79 1460.69,468.31 1461.08,469.64 1462.51,469.52 1463.15,470.49 1463.89,471.48 1464.96,472.05 1465.98,472.67 1466.55,473.87 1467.85,474.02 1468.55,474.92 1469.45,475.56" fill="none" stroke="#00ff00" stroke-width="2.2" stroke-linejoin="round" stroke-linecap="round" />
<polyline points="978.67,75.46 979.62,76.1 980.28,77.1 981.27,78.01 982.57,78.01 983.7,78.65 983.83,79.99 985.12,80.03 986.68,79.7 987.24,80.83 988.51,81.02 989.88,81.25 990.96,82.06 991.93,83.24 993.12,83.24 993.91,84.11 996.03,83.65 996.97,85.12 996.23,86.57 994.99,87.62 993.51,88.38 992.09,89.14 991.03,88.73 989.84,89.34 988.89,90.53 987.91,91.52 986.26,90.97 985.26,92 983.91,92.09 982.84,92.54 981.64,92.61 980.66,92.99 979.82,93.65 978.8,93.92" fill="none" stroke="#00ff00" stroke-width="2" stroke-linejoin="round" stroke-linecap="round" />
<polyline points="962.56,100.38 961.44,100.53 960.07,100.02 958.95,100.54 957.76,100.91 957.37,102.56 955.88,102.01 954.73,102.96 953.68,103.77 952.77,104.58 951.53,104.09 950.75,105.17 949.49,105.02 948.21,104.18 946.9,104.34 945.83,105.1 945.62,106.56 945.11,106.72 945.19,107.14 946,107.73 946.55,108.71 947.39,109.56 948.53,110.3 949.73,109.57 950.57,110.49 951.88,110.41 952.98,110.79 954.3,111.16 955.24,112.28 956.58,112.54 957.52,113.31 958.87,113.08 959.86,113.83 960.92,114.34 961.68,115" fill="none" stroke="#00ff00" stroke-width="2" stroke-linejoin="round" stroke-linecap="round" />
<polyline points="1117.29,181.01 1118.19,181.71 1119.16,182.55 1120.59,182.07 1121.56,182.89 1122.44,184.13 1123.85,184.05 1125.31,183.52 1125.76,185.1 1127.17,184.91 1128.72,185.96 1128.65,187.85 1130.53,187.42 1131.71,188.68 1133.08,189.7 1134.26,189.35 1135.11,190.12 1133.78,191.15 1132.77,191.49 1133.13,193.28 1131.26,193.14 1130.1,193.65 1129.32,194.74 1127.94,194.99 1127,195.42 1125.87,196 1124.41,195.94 1123.78,197.88 1122.02,198.23 1120.46,196.47 1119.57,197.89 1118.75,198.37 1117.65,198.98" fill="none" stroke="#00ff00" stroke-width="2" stroke-linejoin="round" stroke-linecap="round" />
<polyline points="1099.25,205.76 1097.79,205.7 1096.75,206.64 1096.04,207.88 1094.62,207.62 1093.47,208.19 1092.64,208.63 1091.64,209.72 1090.48,209.29 1089.44,209.7 1088.46,211.11 1086.77,210.58 1085.63,211.75 1084.23,211.95 1083.09,211.61 1081.8,212.03 1081.62,213.48 1082.18,213.92 1082.93,215.69 1084.6,215.08 1085.01,216.89 1086.18,217.49 1087.45,218.02 1088.62,218.78 1089.79,219.45 1091.37,218.92 1092.55,219.85 1094.08,219.03 1095.09,219.81 1095.97,221.33 1097.28,220.18 1098.48,220.57 1099.34,221.49" fill="none" stroke="#00ff00" stroke-width="2" stroke-linejoin="round" stroke-linecap="round" />
<polyline points="1259.3,288.23 1260.14,288.78 1260.87,289.63 1262.25,289.1 1262.79,290.44 1263.68,291.47 1264.93,291.68 1266.68,291.15 1267.04,293 1268.34,292.96 1269.15,293.52 1269.94,295.19 1271.62,295.62 1273.27,295.86 1274.34,297.37 1275.68,297.25 1276.01,297.94 1275.35,299.05 1273.4,299.62 1272.93,301.02 1271.36,300.76 1270.22,301.36 1269.44,302.48 1267.82,302.02 1266.63,302.61 1265.32,303.42 1263.91,304.03 1263.43,305.18 1262.49,306.17 1260.86,304.57 1260.53,306.37 1259.69,307.13 1258.53,307.16" fill="none" stroke="#00ff00" stroke-width="2" stroke-linejoin="round" stroke-linecap="round" />
<polyline points="1239.34,314.24 1238.41,314.9 1237.21,314.69 1236.13,315.09 1235.07,315.5 1234.5,316.92 1233.31,315.72 1232.18,316.63 1231.18,317.23 1230.25,318.6 1228.68,317.88 1227.74,319.17 1226.45,318.78 1225.39,318.88 1224.13,318.47 1222.89,319.13 1222.73,321.26 1221.56,321.65 1220.91,322.38 1221.52,322.96 1222.37,323.78 1223.63,324.22 1224.7,324.91 1226.07,325.3 1227.24,326.09 1228.78,325.72 1229.72,326.73 1231.05,326.68 1232.47,327.23 1233.08,328.42 1234.28,328.34 1235.47,328.07 1236.17,329.45 1237.65,328.58 1238.5,329.93" fill="none" stroke="#00ff00" stroke-width="2" stroke-linejoin="round" stroke-linecap="round" />
<polyline points="1404.73,400.69 1405.48,401.47 1406.47,402.24 1407.8,401.09 1408.65,402.45 1409.69,403.46 1411.05,403.83 1412.6,402.94 1413.09,404.52 1414.29,404.71 1415.56,405.45 1416.6,406.5 1417.87,406.84 1419.03,407.18 1420.17,407.92 1421.13,407.34 1422.29,408.36 1422.56,409.13 1421.77,410.34 1421.23,411.71 1419.75,411.09 1418.55,411.59 1417.32,412.25 1415.6,412.08 1414.39,413.17 1413.87,414.14 1412.77,414.17 1411.94,415.29 1410.93,415.72 1409.15,415.15 1408.76,416.84 1407.47,417.42 1405.83,416.32 1404.98,417.73" fill="none" stroke="#00ff00" stroke-width="2" stroke-linejoin="round" stroke-linecap="round" />
<polyline points="1383.14,426.41 1381.98,426.63 1380.6,426.92 1379.2,427.33 1378.19,428.25 1377.19,429.28 1375.53,428.03 1374.85,429.74 1373.82,430.24 1372.97,431.32 1371.55,430.86 1370.39,431.08 1369.62,431.47 1368.39,431.57 1367.52,432.13 1366.32,432.45 1365.48,433.63 1365.71,434.25 1366.46,435.48 1367.04,436.67 1368.09,437.39 1369.38,437.88 1370.8,438.02 1372.1,437.96 1373.05,439.32 1374.43,438.8 1375.3,439.67 1376.33,439.77 1377.33,440.73 1378.63,440.63 1379.61,441.59 1380.81,441.37 1381.75,441.87 1383.02,441.53" fill="none" stroke="#00ff00" stroke-width="2" stroke-linejoin="round" stroke-linecap="round" />
<line x1="1369.2" y1="321.3" x2="1328" y2="259.5" stroke="#000" stroke-width="4" />
<path d="M1319.6,246.4 L1339.1,262.27 L1326.6,270.55 Z" fill="#000" stroke="none" stroke-width="1" />
<path d="M1375.2,406.4 Q1390.8,392.9 1410.4,386.4" fill="none" stroke="#1a1a1a" stroke-width="2.6" />
<text x="1345" y="374.2" font-size="27" font-family="Liberation Sans" text-anchor="start" fill="#000" >18°</text>
<text class="n" x="1342" y="263" font-size="31" font-family="Liberation Serif"><tspan font-style="italic">V</tspan>(<tspan font-style="italic" font-weight="bold">r</tspan>-<tspan font-style="italic">αz</tspan><tspan font-weight="bold">j</tspan>)</text>
<rect x="849.7" y="7.4" width="621.2" height="469.4" fill="none" stroke="#000" stroke-width="2" />
<line x1="945.84" y1="476.8" x2="945.84" y2="486.3" stroke="#000" stroke-width="2" />
<line x1="1077.03" y1="476.8" x2="1077.03" y2="486.3" stroke="#000" stroke-width="2" />
<line x1="1208.22" y1="476.8" x2="1208.22" y2="486.3" stroke="#000" stroke-width="2" />
<line x1="1339.41" y1="476.8" x2="1339.41" y2="486.3" stroke="#000" stroke-width="2" />
<line x1="1470.6" y1="476.8" x2="1470.6" y2="486.3" stroke="#000" stroke-width="2" />
<line x1="880.25" y1="476.8" x2="880.25" y2="481.8" stroke="#000" stroke-width="2" />
<line x1="1011.43" y1="476.8" x2="1011.43" y2="481.8" stroke="#000" stroke-width="2" />
<line x1="1142.62" y1="476.8" x2="1142.62" y2="481.8" stroke="#000" stroke-width="2" />
<line x1="1273.81" y1="476.8" x2="1273.81" y2="481.8" stroke="#000" stroke-width="2" />
<line x1="1405" y1="476.8" x2="1405" y2="481.8" stroke="#000" stroke-width="2" />
<line x1="840.2" y1="477" x2="849.7" y2="477" stroke="#000" stroke-width="2" />
<line x1="840.2" y1="344.52" x2="849.7" y2="344.52" stroke="#000" stroke-width="2" />
<line x1="840.2" y1="212.04" x2="849.7" y2="212.04" stroke="#000" stroke-width="2" />
<line x1="840.2" y1="79.56" x2="849.7" y2="79.56" stroke="#000" stroke-width="2" />
<line x1="844.7" y1="410.76" x2="849.7" y2="410.76" stroke="#000" stroke-width="2" />
<line x1="844.7" y1="278.28" x2="849.7" y2="278.28" stroke="#000" stroke-width="2" />
<line x1="844.7" y1="145.8" x2="849.7" y2="145.8" stroke="#000" stroke-width="2" />
<line x1="844.7" y1="13.32" x2="849.7" y2="13.32" stroke="#000" stroke-width="2" />
<text x="945.84" y="513.5" font-size="27.5" font-family="Liberation Sans" text-anchor="middle" fill="#000" >-12</text>
<text x="1077.03" y="513.5" font-size="27.5" font-family="Liberation Sans" text-anchor="middle" fill="#000" >-9</text>
<text x="1208.22" y="513.5" font-size="27.5" font-family="Liberation Sans" text-anchor="middle" fill="#000" >-6</text>
<text x="1339.41" y="513.5" font-size="27.5" font-family="Liberation Sans" text-anchor="middle" fill="#000" >-3</text>
<text x="1470.6" y="513.5" font-size="27.5" font-family="Liberation Sans" text-anchor="middle" fill="#000" >0</text>
<text x="833.7" y="485.6" font-size="27.5" font-family="Liberation Sans" text-anchor="end" fill="#000" >0</text>
<text x="833.7" y="353.12" font-size="27.5" font-family="Liberation Sans" text-anchor="end" fill="#000" >4</text>
<text x="833.7" y="220.64" font-size="27.5" font-family="Liberation Sans" text-anchor="end" fill="#000" >8</text>
<text x="833.7" y="88.16" font-size="27.5" font-family="Liberation Sans" text-anchor="end" fill="#000" >12</text>
<text x="749" y="50" font-size="56" font-family="Liberation Sans" text-anchor="start" fill="#000" >b</text>
<text transform="translate(783,257) rotate(-90)" font-size="38" font-family="Liberation Sans">y<tspan font-size="24" dy="13.3">c</tspan></text>
<text x="1142" y="548.9" font-size="39.5" font-family="Liberation Sans">x<tspan font-size="25" dy="14">c</tspan></text>
<rect x="1323.8" y="15.8" width="138.1" height="87" fill="#fff" stroke="#000" stroke-width="2" />
<line x1="1332.1" y1="31.9" x2="1376.2" y2="31.9" stroke="#ff0000" stroke-width="2.2" />
<text x="1382.1" y="38.5" font-size="19.3" font-family="Liberation Sans">E<tspan class="s" font-size="12.35" dy="6.95">0</tspan><tspan dy="-6.95">=9</tspan></text>
<line x1="1332.1" y1="61.8" x2="1376.2" y2="61.8" stroke="#00ff00" stroke-width="2.2" />
<text x="1382.1" y="68.4" font-size="19.3" font-family="Liberation Sans">E<tspan class="s" font-size="12.35" dy="6.95">0</tspan><tspan dy="-6.95">=10</tspan></text>
<line x1="1332.1" y1="92.1" x2="1376.2" y2="92.1" stroke="#000" stroke-width="2.2" stroke-dasharray="7.5,8"/>
<text x="1382.1" y="98.8" font-size="19.3" font-family="Liberation Sans">Idealized</text>
<line x1="92.9" y1="1067.6" x2="714.5" y2="607.97" stroke="#000" stroke-width="2.2" stroke-dasharray="7.5,5.5"/>
<polyline points="92.7,1067.3 94.71,1066.82 96.72,1066.35 98.72,1065.88 100.73,1065.42 102.74,1064.97 104.75,1064.54 106.76,1064.13 108.76,1063.74 110.77,1063.37 112.78,1063.03 114.79,1062.72 116.79,1062.44 118.8,1062.2 120.81,1061.99 122.82,1061.81 124.83,1061.68 126.83,1061.58 128.84,1061.52 130.85,1061.5 132.86,1061.52 134.87,1061.58 136.87,1061.68 138.88,1061.81 140.89,1061.99 142.9,1062.2 144.91,1062.44 146.91,1062.72 148.92,1063.03 150.93,1063.37 152.94,1063.74 154.94,1064.13 156.95,1064.54 158.96,1064.97 160.97,1065.42 162.98,1065.88 164.98,1066.35 166.99,1066.82 169,1067.3 169,1067.3 171.05,1066.2 173.09,1065.19 175.14,1064.35 177.18,1063.75 179.23,1063.44 181.27,1063.44 183.32,1063.75 185.36,1064.35 187.41,1065.19 189.45,1066.2 191.5,1067.3 191.5,1067.3 193.53,1066.19 195.55,1065.11 197.57,1064.08 199.6,1063.13 201.62,1062.28 203.65,1061.56 205.68,1060.97 207.7,1060.55 209.72,1060.29 211.75,1060.2 213.78,1060.29 215.8,1060.55 217.82,1060.97 219.85,1061.56 221.88,1062.28 223.9,1063.13 225.93,1064.08 227.95,1065.11 229.97,1066.19 232,1067.3 232,1067.3 234.02,1065.44 236.04,1063.64 238.07,1061.95 240.09,1060.42 242.11,1059.1 244.13,1058.03 246.16,1057.25 248.18,1056.76 250.2,1056.6 252.22,1056.76 254.24,1057.25 256.27,1058.03 258.29,1059.1 260.31,1060.42 262.33,1061.95 264.36,1063.64 266.38,1065.44 268.4,1067.3 268.4,1067.3 270.55,1063.1 272.69,1059.24 274.84,1056.04 276.98,1053.75 279.13,1052.55 281.27,1052.55 283.42,1053.75 285.56,1056.04 287.71,1059.24 289.85,1063.1 292,1067.3 292,1067.3 294.12,1063.63 296.25,1060.51 298.38,1058.43 300.5,1057.7 302.62,1058.43 304.75,1060.51 306.88,1063.63 309,1067.3 309,1067.3 311.06,1064.07 313.13,1061.01 315.19,1058.26 317.26,1055.96 319.32,1054.24 321.39,1053.16 323.45,1052.8 325.51,1053.16 327.58,1054.24 329.64,1055.96 331.71,1058.26 333.77,1061.01 335.84,1064.07 337.9,1067.3 337.9,1067.3 339.94,1064.38 341.98,1061.65 344.02,1059.31 346.07,1057.51 348.11,1056.39 350.15,1056 352.19,1056.39 354.23,1057.51 356.27,1059.31 358.32,1061.65 360.36,1064.38 362.4,1067.3 362.4,1067.3 364.45,1063.42 366.49,1059.77 368.54,1056.56 370.58,1053.97 372.63,1052.15 374.68,1051.22 376.72,1051.22 378.77,1052.15 380.82,1053.97 382.86,1056.56 384.91,1059.77 386.95,1063.42 389,1067.3 389,1067.3 391.19,1063.41 393.38,1059.89 395.57,1057.11 397.76,1055.32 399.95,1054.7 402.14,1055.32 404.33,1057.11 406.52,1059.89 408.71,1063.41 410.9,1067.3 410.9,1067.3 413.04,1063.75 415.18,1060.54 417.32,1058 419.46,1056.36 421.6,1055.8 423.74,1056.36 425.88,1058 428.02,1060.54 430.16,1063.75 432.3,1067.3 432.3,1067.3 434.33,1063.23 436.36,1059.4 438.39,1056.03 440.42,1053.31 442.45,1051.4 444.48,1050.42 446.52,1050.42 448.55,1051.4 450.58,1053.31 452.61,1056.03 454.64,1059.4 456.67,1063.23 458.7,1067.3 458.7,1067.3 460.73,1063.75 462.75,1060.49 464.78,1057.78 466.81,1055.84 468.84,1054.83 470.86,1054.83 472.89,1055.84 474.92,1057.78 476.95,1060.49 478.97,1063.75 481,1067.3 481,1067.3 483.06,1063.47 485.12,1059.9 487.18,1056.83 489.23,1054.48 491.29,1053 493.35,1052.5 495.41,1053 497.47,1054.48 499.52,1056.83 501.58,1059.9 503.64,1063.47 505.7,1067.3 505.7,1067.3 507.76,1063.59 509.82,1060.44 511.89,1058.34 513.95,1057.6 516.01,1058.34 518.08,1060.44 520.14,1063.59 522.2,1067.3 522.2,1067.3 524.34,1062.05 526.48,1057.31 528.62,1053.55 530.76,1051.13 532.9,1050.3 535.04,1051.13 537.18,1053.55 539.32,1057.31 541.46,1062.05 543.6,1067.3 543.6,1067.3 545.65,1063.4 547.69,1059.73 549.74,1056.49 551.78,1053.89 553.83,1052.06 555.88,1051.12 557.92,1051.12 559.97,1052.06 562.02,1053.89 564.06,1056.49 566.11,1059.73 568.15,1063.4 570.2,1067.3 570.2,1067.3 572.35,1064.37 574.49,1061.68 576.64,1059.44 578.78,1057.84 580.93,1057.01 583.07,1057.01 585.22,1057.84 587.36,1059.44 589.51,1061.68 591.65,1064.37 593.8,1067.3 593.8,1067.3 595.94,1062.39 598.08,1057.95 600.22,1054.44 602.36,1052.18 604.5,1051.4 606.64,1052.18 608.78,1054.44 610.92,1057.95 613.06,1062.39 615.2,1067.3 615.2,1067.3 617.43,1062.67 619.65,1058.74 621.88,1056.12 624.1,1055.2 626.33,1056.12 628.55,1058.74 630.77,1062.67 633,1067.3 633,1067.3 635.02,1062.97 637.03,1058.89 639.05,1055.3 641.06,1052.4 643.08,1050.38 645.09,1049.33 647.11,1049.33 649.12,1050.38 651.14,1052.4 653.15,1055.3 655.17,1058.89 657.18,1062.97 659.2,1067.3 659.2,1067.3 661.33,1063.58 663.45,1060.16 665.58,1057.32 667.71,1055.29 669.84,1054.23 671.96,1054.23 674.09,1055.29 676.22,1057.32 678.35,1060.16 680.47,1063.58 682.6,1067.3 682.6,1067.3 684.6,1062.51 686.6,1058.11 688.6,1054.45 690.6,1051.84 692.6,1050.47 694.6,1050.47 696.6,1051.84 698.6,1054.45 700.6,1058.11 702.6,1062.51 704.6,1067.3 704.6,1067.3 706.6,1062.2 708.6,1057.6 710.6,1053.95 712.6,1051.61" fill="none" stroke="#000080" stroke-width="2.4" stroke-linejoin="round" stroke-linecap="round" />
<polyline points="94.27,1066.79 95.35,1066.99 96.42,1066.58 97.5,1065.99 98.66,1065.94 99.82,1066.16 100.99,1066.35 102.15,1066.3 103.15,1065.73 104.15,1065.3 105.15,1065.12 106.15,1065.37 107.14,1065.66 108.2,1065.55 109.26,1064.93 110.31,1064.43 111.37,1064.35 112.42,1064.46 113.48,1064.45 114.54,1064.14 115.89,1063.49 117.24,1062.69 118.46,1062.36 119.68,1062.1 120.87,1062.02 122.05,1061.7 123.24,1061.17 124.44,1060.66 125.58,1060.34 126.73,1060.53 127.77,1060.81 128.81,1060.7 130.6,1060.39 131.94,1061.11 132.94,1062.32 133.83,1063.35 134.87,1063.92 136.13,1062.81 137.48,1061.39 138.16,1060.42 138.85,1059.46 139.53,1058.32 140.21,1057.18 140.87,1055.88 141.52,1054.58 141.96,1053.57 142.39,1052.57 142.82,1051.57 143.26,1050.44 143.7,1049.3 144.14,1048.17 144.5,1047.21 144.85,1046.26 145.2,1045.31 145.56,1044.36 145.94,1043.23 146.32,1042.09 146.7,1040.96 147.08,1039.83 147.41,1038.8 147.73,1037.77 148.05,1036.74 148.37,1035.71 148.69,1034.68 149.02,1033.65 149.35,1032.63 149.68,1031.61 150.01,1030.58 150.34,1029.56 150.75,1028.45 151.15,1027.34 151.56,1026.24 151.97,1025.13 152.37,1024.21 152.78,1023.28 153.19,1022.36 153.59,1021.44 154.14,1020.35 154.69,1019.27 155.24,1018.18 155.77,1017.28 156.31,1016.37 156.85,1015.46 157.61,1014.42 158.38,1013.38 159.76,1012.06 161.05,1011.36 162.33,1010.84 163.72,1010.82 165.3,1011.61 166.99,1012.53 168.65,1013.46 170.13,1014.44 171.32,1015.86 171.83,1016.72 172.33,1017.58 173.31,1019.08 174.4,1020.17 175.59,1019.55 176.81,1018.58 178.16,1017.18 178.95,1016.35 179.74,1015.51 180.72,1014.54 181.71,1013.56 182.45,1012.79 183.2,1012.01 183.95,1011.24 184.71,1010.38 185.47,1009.51 186.23,1008.65 186.92,1007.73 187.6,1006.82 188.29,1005.9 188.89,1004.89 189.49,1003.88 190.09,1002.87 190.65,1001.76 191.21,1000.66 191.76,999.55 192.27,998.44 192.79,997.32 193.3,996.21 193.77,995.16 194.23,994.12 194.7,993.08 195.11,992.11 195.51,991.15 195.92,990.18 196.45,988.79 196.97,987.4 197.46,986.09 197.96,984.79 198.47,983.59 198.97,982.39 199.48,981.29 199.99,980.19 200.49,979.17 200.98,978.16 201.5,977.27 202.03,976.38 203.25,974.91 204.65,973.75 206.19,973.13 207.86,972.84 209.66,972.48 211.59,971.88 212.63,971.49 213.66,971.56 214.77,971.98 215.87,972.49 217.04,972.17 218.21,971.64 219.47,971.08 220.73,970.62 222.07,970.19 223.41,969.8 224.33,969.35 225.25,968.79 226.17,968.19 227.53,967.7 228.89,967.46 230.22,967.51 231.56,967.33 232.9,966.83 234.23,966.46 235.57,966.34 236.9,966.73 238.24,966.86 239.57,966.66 240.91,966.11 242.24,965.53 243.58,965.15 244.91,965.04 246.25,964.94 247.59,964.56 248.92,963.87 250.26,963.27 251.59,963 252.93,963.06 254.26,963.26 255.6,963.13 256.93,962.6 258.27,962.15 259.6,962.01 260.94,962.09 262.3,962.22 263.66,961.94 265.04,961.31 266.42,960.6 267.76,960.29 269.1,960.31 270.36,960.46 271.62,960.29 272.79,959.97 273.96,959.6 275.06,959.73 276.16,960.15 277.2,960.65 278.23,960.72 280.17,959.91 281.87,958.95 282.62,958.35 283.38,957.69 284.13,956.92 284.88,956.15 285.73,955.38 286.58,954.62 287.57,953.85 288.57,953.17 289.64,952.49 290.72,951.72 291.83,950.87 292.94,950.05 294.03,949.13 295.13,948.21 295.86,947.51 296.59,946.82 297.32,946.13 298.06,945.37 298.8,944.62 299.54,943.86 300.25,943.03 300.97,942.2 301.69,941.37 302.35,940.44 303.01,939.52 303.68,938.59 304.26,937.51 304.84,936.43 305.43,935.34 305.96,934.13 306.49,932.92 307.01,931.71 307.52,930.49 308.03,929.27 308.53,928.05 309.05,926.93 309.57,925.82 310.09,924.7 310.6,923.64 311.12,922.59 311.64,921.53 312.14,920.49 312.65,919.46 313.16,918.42 313.69,917.54 314.21,916.67 314.74,915.79 315.62,914.9 316.5,913.91 317.49,913.78 318.48,913.97 319.56,914.02 320.64,914.01 321.75,914.11 322.86,914.4 323.95,914.98 325.04,915.44 326.11,915.38 327.18,914.94 328.25,914.39 329.32,914.22 330.38,914.24 331.45,914.17 332.52,913.65 333.59,912.93 334.66,912.15 335.73,911.45 336.79,910.5 337.86,909.54 338.93,908.5 340,907.46 341.07,906.47 342.14,905.47 343.21,904.61 344.27,903.76 345.34,902.96 346.41,902.13 347.48,901.22 348.55,900.31 349.26,899.54 349.97,898.76 350.68,897.99 351.4,896.95 352.11,895.91 352.82,894.87 353.35,893.95 353.89,893.03 354.42,892.1 354.96,891.18 355.49,890.24 356.03,889.3 356.56,888.36 357.09,887.42 357.81,886.32 358.52,885.21 359.23,884.1 359.93,883.14 360.62,882.18 361.32,881.22 362,880.34 362.69,879.45 363.37,878.56 364.08,877.8 364.78,877.03 365.49,876.27 366.63,875.39 367.78,874.48 369.04,873.76 370.3,873.24 371.64,873.29 372.99,873.33 374.36,873.28 375.74,872.79 377.1,872.2 378.46,871.99 379.82,871.96 381.18,871.93 382.56,871.43 383.94,870.82 385.28,870.12 386.62,869.65 387.88,869.54 389.15,869.41 390.31,868.96 391.48,868.25 392.58,867.68 393.69,867.22 394.72,867.05 395.76,866.78 396.72,866.49 397.69,865.88 399.39,865.24 400.89,864.88 402.39,865.02 404.1,865.22 406.02,865.06 407.04,864.56 408.06,863.97 409.18,863.82 410.3,864.21 411.56,864.41 412.82,864.31 414.28,863.72 415.74,863.22 416.82,863.28 417.9,863.59 418.97,863.88 420.1,863.95 421.22,863.42 422.34,862.99 423.44,862.73 424.54,863.04 425.64,863.08 426.71,862.91 427.78,862.29 428.85,861.73 429.91,861.43 430.98,861.41 432.05,861.24 433.12,860.82 434.19,860.24 435.26,859.59 436.32,859.16 437.39,858.94 438.46,858.71 439.58,858.26 440.7,857.59 441.82,856.93 442.97,856.46 444.12,856.1 445.27,855.78 446.36,855.18 447.44,854.49 448.53,853.79 449.45,853.25 450.36,852.72 451.28,852.15 452.31,851.22 453.34,850.3 454.11,849.35 454.89,848.4 455.56,847.31 456.24,846.23 456.72,845.35 457.21,844.47 457.69,843.59 458.23,842.45 458.76,841.31 459.29,840.18 459.7,839.18 460.1,838.18 460.5,837.18 460.9,836.18 461.3,835.17 461.7,834.16 462.1,833.15 462.5,832.15 463.03,830.98 463.57,829.8 464.1,828.63 464.64,827.65 465.17,826.66 465.71,825.68 466.24,824.79 466.77,823.91 467.31,823.02 468.11,821.9 468.91,820.77 469.71,819.89 470.51,819.02 472.07,817.73 473.58,817.25 475.17,817.32 476.92,817.4 477.92,817.08 478.91,816.8 479.99,817.11 481.06,817.78 482.17,818.27 483.28,818.61 484.38,818.23 485.47,817.96 486.54,817.84 487.61,817.97 488.68,817.83 489.74,817.46 490.81,816.69 491.88,816.07 492.95,815.39 494.02,814.74 495.09,813.79 496.15,812.84 496.87,812.06 497.58,811.29 498.29,810.51 499,809.64 499.72,808.77 500.43,807.9 501.14,806.97 501.85,806.05 502.56,805.13 503.26,804.13 503.96,803.12 504.65,802.12 505.34,801.03 506.02,799.94 506.7,798.85 507.41,797.74 508.12,796.63 508.82,795.51 509.59,794.44 510.35,793.38 511.11,792.31 511.74,791.51 512.37,790.71 513,789.92 513.63,789.12 514.3,788.31 514.98,787.51 515.65,786.7 516.32,785.9 517.01,785.16 517.7,784.42 518.39,783.68 519.07,782.94 519.98,782.15 520.89,781.35 521.79,780.59 522.7,780.01 523.61,779.36 524.52,778.75 525.89,778.38 527.27,778.06 528.61,777.63 529.96,777.06 531.22,776.41 532.48,776.01 533.62,775.96 534.77,775.96 535.83,775.67 536.89,775.22 537.91,774.61 538.94,774.39 539.98,774.42 541.03,774.41 542.04,773.88 543.06,773.28 544.05,772.63 545.03,772.07 546.08,771.69 547.14,771.38 548.35,771 549.57,770.33 551.02,769.7 552.48,769.39 553.56,769.49 554.64,769.73 555.72,769.6 556.84,769.18 557.96,768.59 559.09,768.51 560.19,768.54 561.29,768.64 562.39,768.42 563.46,767.84 564.53,767.24 565.6,766.91 566.67,766.69 567.74,766.52 568.8,766.09 569.87,765.45 570.94,764.77 572.01,764.4 573.08,764.18 574.15,764.13 575.21,763.78 576.32,763.1 577.42,762.57 578.52,762.3 579.64,762.36 580.77,762.33 581.89,762.04 582.97,761.48 584.05,761.02 585.13,760.68 586.1,760.78 587.07,760.75 588.03,760.54 589.25,759.96 590.47,759.24 591.52,759.01 592.57,758.92 593.56,758.8 594.54,758.35 595.56,757.58 596.58,756.98 597.65,756.24 598.72,755.51 599.79,754.58 600.85,753.65 601.92,752.63 602.99,751.62 604.06,750.6 605.13,749.57 606.2,748.57 607.26,747.56 608.33,746.53 609.4,745.5 610.11,744.78 610.83,744.06 611.54,743.34 612.25,742.57 612.96,741.8 613.68,741.03 614.35,740.16 615.03,739.3 615.71,738.43 616.37,737.49 617.03,736.55 617.68,735.62 618.38,734.69 619.08,733.76 619.78,732.84 620.6,732.01 621.41,731.17 622.22,730.34 623.21,729.6 624.19,728.97 625.18,728.4 626.28,727.84 627.39,727.11 628.5,726.42 629.63,725.83 630.76,725.41 631.89,724.95 632.94,724.28 633.99,723.53 635.04,722.81 635.98,722.1 636.92,721.34 637.86,720.58 638.75,719.76 639.63,718.94 640.52,718.12 641.38,717.29 642.24,716.46 643.11,715.63 643.98,714.83 644.85,714.04 645.73,713.25 646.62,712.54 647.51,711.82 648.4,711.13 649.29,710.47 650.18,709.78 651.07,709.09 651.96,708.4 652.85,707.73 653.74,707.04 654.63,706.26 655.52,705.48 656.41,704.7 657.3,703.8 658.19,702.91 659.08,702.01 659.97,701.04 660.86,700.07 661.75,699.09 662.42,698.33 663.09,697.56 663.76,696.8 664.42,696.04 665.09,695.26 665.76,694.49 666.43,693.72 667.09,692.95 667.76,692.13 668.43,691.31 669.1,690.49 669.76,689.67 670.43,688.8 671.1,687.94 671.77,687.07 672.44,686.2 673.1,685.38 673.77,684.56 674.44,683.73 675.11,682.91 676,681.98 676.89,681.05 677.78,680.13 678.67,679.42 679.56,678.71 680.45,678 681.34,677.55 682.23,676.99 683.12,676.34 684.01,675.68 684.9,675.22 685.79,674.96 687.13,674.55 688.46,673.92 689.75,673.25 691.03,672.44 692.28,672.13 693.54,672.17 694.86,672.13 696.17,671.79 697.16,671.2 698.15,670.54 699.15,670.23 700.09,670.1 701.04,669.97 701.99,669.6 702.93,669.03 704.02,668.34 705.11,667.86 706.2,667.6 707.29,667.3 708.3,666.86 709.3,666.18 710.31,665.61 711.31,665.11 712.24,664.96 713.17,664.72 714.1,664.1" fill="none" stroke="#00ff00" stroke-width="2.4" stroke-linejoin="round" stroke-linecap="round" />
<polyline points="94.27,1066.79 95.35,1067.14 96.42,1066.51 97.5,1066.12 98.66,1065.89 99.82,1066.18 100.99,1066.58 102.15,1066.32 103.15,1065.9 104.15,1065.38 105.15,1065.26 106.15,1065.51 107.14,1065.7 108.2,1065.6 109.26,1064.96 110.31,1064.46 111.37,1064.28 112.42,1064.34 113.47,1064.35 114.51,1064.09 115.85,1063.28 117.18,1062.55 118.39,1062.02 119.61,1061.69 120.83,1061.14 122.05,1060.52 122.93,1059.84 123.8,1059.21 124.68,1058.68 125.56,1058.12 126.44,1057.52 127.33,1056.89 128.53,1055.98 129.74,1055.03 130.7,1054.4 131.67,1053.92 132.89,1054.23 133.6,1054.38 134.15,1054.96 134.87,1054.82 135.81,1054.46 136.81,1053.64 137.9,1052.41 138.52,1051.59 139.15,1050.77 139.87,1049.71 140.6,1048.65 141.14,1047.8 141.68,1046.95 142.22,1046.1 142.78,1045.13 143.34,1044.17 143.9,1043.21 144.45,1042.17 145,1041.13 145.56,1040.09 146.09,1038.96 146.62,1037.83 147.16,1036.7 147.56,1035.77 147.96,1034.85 148.36,1033.93 148.76,1033.01 149.16,1032.04 149.56,1031.06 149.96,1030.09 150.36,1029.12 150.76,1028.12 151.16,1027.12 151.57,1026.13 151.97,1025.13 152.39,1024.02 152.8,1022.92 153.22,1021.81 153.64,1020.7 153.99,1019.75 154.33,1018.79 154.68,1017.83 155.03,1016.87 155.37,1015.91 155.78,1014.8 156.19,1013.68 156.59,1012.57 157,1011.46 157.46,1010.32 157.92,1009.17 158.38,1008.03 158.88,1006.91 159.38,1005.79 160.11,1004.36 160.78,1003.87 161.58,1003.85 162.55,1004.75 163.07,1005.69 163.58,1006.63 164.14,1007.79 164.69,1008.94 165.27,1010.09 165.85,1011.24 166.5,1012.49 167.14,1013.74 167.6,1014.69 168.06,1015.64 168.53,1016.58 169.22,1017.87 169.91,1019.15 170.55,1020 171.2,1020.85 172.24,1021.82 173.13,1021.74 174.13,1020.91 175.47,1019.79 176.36,1018.9 177.26,1018.01 177.95,1017.2 178.65,1016.39 179.34,1015.58 180.11,1014.67 180.87,1013.76 181.63,1012.85 182.43,1011.96 183.22,1011.06 184.02,1010.17 184.87,1009.32 185.73,1008.47 186.59,1007.63 187.51,1006.76 188.44,1005.89 189.36,1005.03 190.28,1004.13 191.21,1003.23 192.13,1002.33 192.99,1001.38 193.84,1000.44 194.7,999.49 195.46,998.45 196.23,997.42 196.99,996.38 197.69,995.28 198.4,994.18 199.11,993.08 199.79,991.98 200.48,990.87 201.16,989.77 201.86,988.74 202.55,987.7 203.25,986.67 203.98,985.7 204.71,984.74 205.43,983.77 206.17,982.84 206.91,981.92 207.65,980.99 208.37,980.12 209.09,979.25 209.81,978.38 210.47,977.58 211.13,976.78 211.79,975.98 212.67,974.86 213.55,973.74 214.34,972.69 215.13,971.64 215.89,970.75 216.65,969.85 217.43,969.18 218.21,968.43 219.78,967.69 221.34,967.68 222.94,967.75 224.62,967.48 226.41,967.87 227.35,968.53 228.29,969.15 229.24,969.82 230.2,970.49 232.09,970.71 233.84,969.99 235.5,969.11 236.41,968.71 237.33,968.39 238.45,968.08 239.57,967.5 241.04,966.99 242.5,966.9 243.64,967.32 244.78,967.72 245.92,967.77 247.07,967.41 248.21,967.06 249.36,967.15 250.37,967.44 251.38,967.8 252.39,967.85 253.59,967.17 254.78,966.67 255.79,966.34 256.8,966.34 257.78,966.21 258.75,965.93 259.85,965.53 260.94,964.89 262.23,964.93 263.51,965.51 264.9,966 266.28,966.22 267.67,966.19 269.05,965.99 270.34,965.97 271.62,966.32 272.79,966.52 273.96,966.22 275.06,965.58 276.16,964.93 277.2,964.53 278.23,964.24 279.2,963.82 280.17,963.27 281.02,962.58 281.87,961.97 282.62,961.3 283.38,960.63 284.13,959.92 284.88,959.21 285.73,958.51 286.58,957.75 287.57,957.12 288.57,956.66 289.64,956.28 290.72,955.72 291.83,954.89 292.94,954.21 294.03,953.37 295.13,952.48 295.86,951.67 296.59,950.85 297.32,950.04 298.06,949.07 298.8,948.1 299.54,947.14 300.25,946.08 300.97,945.02 301.69,943.97 302.35,942.89 303.01,941.81 303.68,940.73 304.26,939.62 304.84,938.51 305.43,937.4 305.96,936.24 306.49,935.08 307.01,933.92 307.52,932.73 308.03,931.55 308.53,930.36 309.05,929.19 309.57,928.01 310.09,926.84 310.49,925.84 310.89,924.85 311.29,923.86 311.69,922.86 312.09,921.79 312.49,920.71 312.89,919.63 313.29,918.56 313.82,917.34 314.36,916.13 314.89,914.92 315.69,913.93 316.5,913.27 318.05,913.41 318.81,914.29 319.57,915.29 320.1,916.18 320.62,917.08 321.15,917.98 321.74,918.8 322.32,919.61 322.91,920.43 323.58,921.25 324.26,922.07 324.94,922.89 325.69,923.83 326.43,924.76 327.18,925.7 327.93,926.47 328.67,927.24 329.42,928.07 330.43,928.71 331.45,929.01 333.16,928.09 333.91,927 334.66,925.9 335.16,924.97 335.66,924.04 336.16,923.11 336.73,922.22 337.3,921.32 337.86,920.43 338.49,919.6 339.12,918.76 339.75,917.93 340.41,917.05 341.07,916.17 341.74,915.29 342.47,914.37 343.19,913.46 343.92,912.54 344.75,911.61 345.58,910.68 346.41,909.74 347.16,909.03 347.91,908.31 348.66,907.6 349.42,906.88 350.27,906.14 351.12,905.41 351.97,904.67 352.82,903.93 353.67,903.19 354.52,902.44 355.37,901.7 356.23,900.95 356.98,900.21 357.73,899.47 358.48,898.73 359.23,897.99 360.04,896.97 360.86,895.95 361.67,894.93 362.37,893.88 363.07,892.83 363.77,891.78 364.43,890.79 365.08,889.8 365.74,888.8 366.42,887.95 367.1,887.09 367.78,886.24 368.47,885.5 369.17,884.75 369.86,884.01 370.89,883.02 371.92,882.03 372.98,881.23 374.04,880.4 375.18,880.14 376.32,880.17 377.61,880.43 378.9,880.34 379.82,880.59 380.74,881.04 381.67,881.68 382.59,882.34 383.51,882.85 384.44,883.24 385.72,883.4 387.01,883.78 388.15,884.1 389.3,884.38 390.36,883.98 391.42,883.38 392.44,882.72 393.47,882.36 394.51,882.24 395.56,882.33 396.62,882.13 397.69,881.64 398.75,881.12 399.82,881.01 400.89,881.22 401.95,881.52 403.03,881.43 404.1,880.87 405.14,880.41 406.17,880.23 407.18,880.4 408.19,880.57 409.27,880.48 410.35,880.01 411.58,879.46 412.82,879.44 413.83,880.08 414.83,880.44 415.84,880.66 416.97,880.51 418.11,880.3 419.24,880.56 420.37,881.03 421.51,881.66 422.64,881.77 423.64,881.44 424.64,881.08 425.64,881.26 426.86,881.42 428.08,881.6 429.13,881.32 430.18,880.7 431.17,880.07 432.15,879.65 433.17,879.35 434.19,878.97 435.26,878.45 436.32,877.71 437.39,876.98 438.46,876.31 439.53,875.7 440.6,875.03 441.67,874.31 442.74,873.49 443.8,872.73 444.87,872.04 445.94,871.47 447.01,870.83 448.08,870.01 449.15,869.17 450.21,868.13 451.28,867.09 452.01,866.19 452.74,865.29 453.47,864.39 454.21,863.33 454.95,862.28 455.69,861.22 456.23,860.36 456.77,859.5 457.3,858.64 457.84,857.78 458.34,856.9 458.84,856.03 459.33,855.15 459.83,854.27 460.26,853.33 460.69,852.39 461.12,851.45 461.56,850.51 461.94,849.5 462.33,848.49 462.71,847.47 463.1,846.46 463.48,845.49 463.86,844.52 464.23,843.55 464.61,842.58 465.15,841.49 465.7,840.4 466.24,839.32 466.85,838.42 467.47,837.52 468.08,836.62 468.74,835.85 469.39,835.08 470.05,834.31 471.01,833.47 471.97,832.65 473.72,832.23 475.15,832.31 476.39,833.51 477.01,834.41 477.62,835.32 478.34,836.25 479.06,837.18 479.94,838.31 480.83,839.44 481.49,840.36 482.14,841.27 482.8,842.19 483.46,842.98 484.11,843.77 484.77,844.57 485.65,845.06 486.54,845.37 487.95,845.33 489.14,843.86 489.76,842.79 490.37,841.72 491.12,840.52 491.88,839.32 492.5,838.35 493.12,837.38 493.74,836.41 494.26,835.54 494.78,834.66 495.3,833.78 495.82,832.91 496.38,832.03 496.94,831.15 497.5,830.28 498.07,829.4 498.85,828.43 499.64,827.46 500.43,826.5 501.28,825.86 502.14,825.17 503,824.44 503.92,823.92 504.85,823.57 505.77,823.25 506.69,822.81 507.62,822.2 508.54,821.64 509.4,821.13 510.25,820.63 511.11,820.09 511.87,819.35 512.64,818.62 513.4,817.88 514.1,817.06 514.81,816.23 515.52,815.41 516.2,814.57 516.89,813.72 517.57,812.87 518.27,812.07 518.96,811.27 519.66,810.47 520.4,809.68 521.13,808.9 521.87,808.11 522.62,807.32 523.38,806.52 524.13,805.73 524.85,805.01 525.57,804.3 526.29,803.58 527.25,802.75 528.21,801.92 529.72,800.89 530.94,800.32 532.14,799.79 533.55,799.44 535.24,800.09 536.16,800.75 537.09,801.38 538.06,801.95 539.03,802.29 540.03,802.42 541.03,802.74 542.11,803.17 543.19,803.67 544.34,803.8 545.5,803.35 546.61,802.85 547.71,802.78 549.57,802.94 550.84,802.61 551.71,801.72 552.58,801.05 553.85,800.49 555.68,801.19 556.77,801.94 557.85,802.62 559,803.2 560.16,803.51 561.27,803.51 562.39,803.7 563.44,803.92 564.48,804.13 565.51,803.63 566.53,803.06 567.59,802.45 568.65,802.01 569.8,802.07 570.94,802.29 572.23,802.39 573.51,802.2 574.9,802.29 576.28,802.7 577.67,803.37 579.05,804.08 580.34,804.25 581.62,804.11 582.79,803.5 583.96,803.51 585.06,803.62 586.16,803.75 587.2,803.39 588.23,802.79 589.2,802.16 590.17,801.78 591.02,801.35 591.87,800.79 592.62,800.09 593.38,799.39 594.13,798.65 594.88,797.92 595.73,797.25 596.58,796.65 597.57,796.18 598.57,795.53 599.64,794.87 600.72,794.45 601.83,794.16 602.94,793.8 604.03,793.09 605.13,792.31 606.2,791.46 607.26,790.62 608.33,789.66 609.4,788.7 610.11,787.95 610.83,787.2 611.54,786.45 612.25,785.55 612.96,784.66 613.68,783.76 614.22,782.91 614.76,782.07 615.3,781.22 615.84,780.37 616.38,779.38 616.93,778.39 617.47,777.4 618.02,776.42 618.55,775.41 619.09,774.4 619.62,773.4 620.16,772.39 620.68,771.5 621.19,770.6 621.71,769.7 622.22,768.8 622.89,767.7 623.55,766.59 624.22,765.48 624.87,764.41 625.51,763.33 626.16,762.26 626.78,761.39 627.39,760.51 628.01,759.64 628.85,758.88 629.7,757.87 631.14,757.83 632.37,759.12 632.99,759.94 633.61,760.75 634.32,761.57 635.04,762.39 635.9,763.42 636.76,764.44 637.39,765.29 638.02,766.15 638.65,767 639.63,768.06 640.6,769.1 641.56,769.55 642.52,770.28 643.44,769.35 644.37,768.69 644.98,767.86 645.58,767.03 646.19,766.2 646.81,765.18 647.43,764.16 648.06,763.14 648.7,762.18 649.35,761.22 650,760.26 650.67,759.38 651.34,758.51 652.01,757.64 652.7,756.73 653.39,755.82 654.07,754.91 654.79,754.01 655.51,753.1 656.23,752.19 657.01,751.32 657.78,750.45 658.55,749.57 659.4,748.73 660.26,747.89 661.12,747.04 662.04,746.22 662.97,745.39 663.89,744.56 664.81,743.77 665.74,742.98 666.66,742.19 667.52,741.44 668.37,740.7 669.23,739.96 669.98,739.28 670.72,738.59 671.47,737.91 672.49,736.96 673.5,736.02 674.52,735.12 675.54,734.22 676.66,733.36 677.78,732.48 678.62,731.82 679.46,731.19 680.3,730.58 681.19,729.95 682.09,729.29 682.99,728.62 683.9,727.95 684.82,727.38 685.74,726.99 687.1,726.8 688.46,726.48 689.8,726.13 691.13,725.99 692.47,726.67 693.8,727.42 695.14,728.19 696.47,728.92 697.81,728.92 699.15,728.95 700.56,728.7 701.97,729.03 702.94,729.18 703.91,728.9 704.89,728.37 706.25,727.72 707.61,727.29 708.72,727.36 709.83,727.6 711.45,727.56 712.63,727.59 713.48,727.77 714.1,728.21" fill="none" stroke="#0000ff" stroke-width="2.4" stroke-linejoin="round" stroke-linecap="round" />
<polyline points="94.27,1066.79 95.33,1067.24 96.39,1066.46 97.45,1065.94 98.59,1065.58 99.73,1066.18 100.88,1066.76 102.02,1066.4 103.01,1065.82 104.01,1065.13 105,1064.85 106,1065.41 106.99,1065.95 108.09,1065.7 109.18,1065.05 110.27,1064.17 111.37,1064.05 112.57,1064.32 113.77,1064.69 114.97,1064.53 116.09,1063.68 117.2,1062.97 118.31,1062.63 119.34,1062.89 120.36,1062.93 121.38,1062.68 122.79,1061.9 124.19,1061.06 125.43,1060.63 126.68,1060.64 127.77,1060.77 128.86,1060.39 129.86,1059.63 130.85,1059.03 131.79,1058.51 132.74,1058.28 134.44,1057.42 135.94,1056.24 136.69,1055.44 137.44,1054.64 138.01,1053.71 138.58,1052.77 139.15,1051.84 139.65,1050.71 140.16,1049.58 140.67,1048.46 141.18,1047.33 141.55,1046.37 141.93,1045.41 142.3,1044.44 142.67,1043.48 143.05,1042.52 143.42,1041.55 143.79,1040.51 144.16,1039.47 144.54,1038.43 144.91,1037.39 145.28,1036.35 145.66,1035.31 146,1034.33 146.33,1033.34 146.67,1032.36 147.01,1031.37 147.35,1030.39 147.69,1029.4 148.05,1028.26 148.4,1027.12 148.76,1025.99 149.11,1024.85 149.47,1023.71 149.74,1022.74 150.01,1021.78 150.28,1020.81 150.56,1019.85 150.83,1018.88 151.1,1017.92 151.4,1016.84 151.71,1015.76 152.01,1014.68 152.32,1013.6 152.63,1012.52 152.99,1011.4 153.36,1010.28 153.73,1009.16 154.1,1008.03 154.58,1006.86 155.06,1005.68 155.54,1004.5 155.99,1003.57 156.45,1002.63 156.91,1001.69 157.56,1000.67 158.21,999.65 159.44,998.29 160.56,997.41 161.58,998.55 162.6,999.77 163.16,1000.7 163.72,1001.62 164.15,1002.6 164.57,1003.57 165,1004.55 165.35,1005.52 165.7,1006.49 166.04,1007.46 166.39,1008.43 166.74,1009.42 167.08,1010.41 167.43,1011.4 167.77,1012.39 168.2,1013.43 168.63,1014.47 169.06,1015.51 169.63,1016.57 170.2,1017.62 171.26,1019.19 172.29,1020.25 173.33,1020.42 174.35,1020.27 175.34,1020.63 176.39,1019.8 177.61,1018.72 178.31,1017.97 179.01,1017.22 179.78,1016.27 180.54,1015.31 181.38,1014.27 182.21,1013.23 183.12,1012.24 184.02,1011.24 185.01,1010.32 186,1009.39 187.08,1008.48 188.16,1007.57 189.27,1006.64 190.38,1005.71 191.47,1004.73 192.56,1003.76 193.61,1002.74 194.65,1001.72 195.68,1000.67 196.7,999.62 197.41,998.9 198.12,998.17 198.82,997.45 199.59,996.7 200.35,995.96 201.11,995.21 201.97,994.43 202.82,993.64 203.68,992.86 204.61,992.04 205.53,991.22 206.45,990.41 207.38,989.59 208.3,988.77 209.22,987.95 210.08,987.17 210.94,986.38 211.79,985.6 212.57,984.79 213.35,983.99 214.13,983.19 214.87,982.37 215.6,981.54 216.34,980.72 217.37,979.64 218.41,978.56 219.37,977.83 220.34,977.28 222.04,976.38 223.55,975.71 225.05,976.22 226.75,976.96 227.75,977.82 228.74,978.12 229.82,978.39 230.89,978.75 232,979.21 233.11,979.9 234.21,980.76 235.3,980.81 236.37,979.8 237.44,979.19 238.5,978.49 239.57,977.65 240.64,976.79 241.71,976.09 242.78,975.38 243.85,974.47 244.91,974.42 245.98,975.09 247.05,975.89 248.12,976.15 249.19,976.33 250.26,976.32 251.32,976.38 252.39,977.02 253.49,977.1 254.58,976.72 255.69,975.86 256.8,975.01 257.88,974.42 258.95,974.08 259.95,974.15 260.94,974.06 262.64,973.44 264.15,973.87 265.65,974.25 267.35,975 268.34,974.95 269.34,974.75 270.41,973.82 271.49,973.09 272.6,972.54 273.71,972.22 274.8,972.01 275.9,971.64 277.02,970.9 278.13,970.22 279.29,969.79 280.44,969.97 281.52,970.29 282.61,970.16 284.44,969.69 285.76,969.94 286.71,970.97 287.6,971.85 288.72,972.81 290.17,972.29 291.79,971.2 292.63,970.55 293.48,970.13 294.3,969.32 295.13,968.5 295.93,967.38 296.73,966.26 297.26,965.33 297.8,964.4 298.33,963.47 298.87,962.4 299.4,961.33 299.94,960.26 300.47,959.09 301,957.92 301.54,956.75 301.94,955.75 302.34,954.74 302.74,953.73 303.14,952.73 303.54,951.6 303.94,950.47 304.34,949.34 304.74,948.21 305.14,947.07 305.54,945.94 305.95,944.81 306.35,943.68 306.75,942.68 307.15,941.67 307.55,940.66 307.95,939.66 308.35,938.71 308.75,937.76 309.15,936.82 309.55,935.87 309.95,934.95 310.35,934.02 310.75,933.1 311.15,932.18 311.69,931.22 312.22,930.25 312.76,929.29 313.56,928.6 314.36,927.11 315.96,928.62 316.76,929.76 317.56,930.91 318.1,931.89 318.63,932.86 319.17,933.84 319.7,934.71 320.24,935.58 320.77,936.45 321.55,937.65 322.32,938.84 323.08,940.12 323.84,941.39 324.63,942.5 325.43,943.61 326.3,944.31 327.18,944.63 329.12,944.68 330.15,945.23 331.19,945.32 332.29,944.87 333.39,944.03 334.56,943.13 335.73,942.65 336.99,942.15 338.25,941.65 339.14,940.99 340.04,940.28 340.93,939.65 341.85,938.98 342.77,938.35 343.69,937.69 344.6,936.91 345.5,936.15 346.41,935.38 347.3,934.46 348.19,933.54 349.08,932.62 349.75,931.83 350.42,931.03 351.08,930.24 351.75,929.44 352.42,928.66 353.09,927.87 353.76,927.08 354.42,926.3 355.31,925.41 356.2,924.52 357.09,923.63 357.98,923 358.87,922.34 359.76,921.61 360.66,920.92 361.55,920.42 362.44,920.04 363.33,919.84 364.22,919.36 365.11,918.6 366,917.88 366.89,917.45 367.78,917.24 368.67,916.87 369.56,916.35 370.45,915.68 371.34,914.94 372.23,914.44 373.12,914.09 374.46,913.72 375.79,913 377.13,912.25 378.46,911.41 379.82,911.22 381.18,911.68 382.56,912.49 383.94,912.74 385.28,912.57 386.62,912.36 387.88,912.15 389.15,912.86 390.31,913.23 391.48,912.83 392.58,912.04 393.69,911.3 394.72,910.83 395.76,910.6 396.72,910.48 397.69,909.94 398.44,909.28 398.35,908.88 399.53,908.11 400.68,908.35 401.82,908.71 402.96,908.37 404.1,907.71 405.13,907.01 406.16,906.63 407.18,907.1 408.21,907.64 409.24,907.45 410.26,906.79 411.29,905.87 412.32,905.8 413.34,906.31 414.37,906.61 415.39,906.51 416.41,905.88 417.43,904.95 418.44,904.78 419.46,905.42 420.48,905.78 421.5,905.53 422.52,904.99 423.54,904.13 424.55,903.94 425.57,904.42 426.59,904.78 427.61,904.73 428.63,904.12 429.65,903.31 430.67,903.28 431.7,903.43 432.72,903.85 433.74,903.67 434.77,903.06 435.79,902.25 436.81,902.2 437.84,902.55 438.86,902.95 439.88,902.85 440.9,902.12 441.93,901.44 442.95,901.12 444,901.43 445.04,901.78 446.09,901.4 447.14,900.64 448.18,899.95 449.23,899.62 450.28,899.99 451.33,900.17 452.37,899.79 453.42,899.22 454.43,898.37 455.44,897.76 456.45,897.39 457.46,897.01 458.47,896.2 459.11,895.09 459.74,893.98 460.37,892.87 460.56,891.74 460.75,890.61 460.93,889.48 461.28,888.43 461.62,887.38 461.97,886.32 462.56,885.32 463.15,884.32 463.74,883.31 464.29,882.32 464.83,881.33 465.37,880.34 465.88,879.46 466.39,878.57 466.9,877.69 467.64,876.67 468.38,875.64 469.79,874.26 471.11,873.43 472.41,873.52 473.72,873.45 474.98,873.67 476.19,874.84 477.5,876.28 478.28,877.03 479.06,877.78 480.02,878.68 480.97,879.58 481.69,880.29 482.41,881.01 483.13,881.72 484.26,882.65 485.39,883.73 486.5,884.1 487.61,884.2 488.68,883.88 489.74,884.6 490.81,884.6 491.88,884.01 492.95,883.12 494.02,882.38 495.09,881.63 496.15,880.99 497.22,880.12 498.29,879.27 499.36,878.24 500.43,877.22 501.14,876.45 501.85,875.68 502.56,874.91 503.28,874.09 503.99,873.26 504.7,872.44 505.4,871.46 506.09,870.49 506.79,869.52 507.47,868.42 508.16,867.32 508.84,866.23 509.55,865.18 510.25,864.14 510.96,863.1 511.72,862.29 512.49,861.49 513.25,860.63 514.53,859.71 515.82,859.25 517.2,859.3 518.59,859.08 519.98,858.36 521.36,857.59 522.65,857.34 523.93,857.4 525.03,857.51 526.12,857.24 527.1,856.46 528.07,855.74 529.08,855.57 530.09,855.71 531.29,856.12 532.48,855.88 533.48,855.17 534.48,854.66 535.48,854.31 536.62,855.06 537.75,855.53 538.89,855.49 540.02,854.63 541.16,854.1 542.29,854.08 543.3,854.4 544.3,854.97 545.3,854.86 546.52,854.01 547.74,853.34 548.79,853.05 549.84,853.1 550.82,853.31 551.81,853.08 552.83,852.33 553.85,851.57 554.91,851.48 555.98,852.05 557.05,852.65 558.12,852.82 559.19,852.34 560.26,851.7 561.32,851.48 562.39,852.13 563.44,852.24 564.48,851.83 565.51,850.94 566.53,850.22 567.59,849.74 568.65,849.54 569.8,849.79 570.94,849.53 572.2,848.76 573.46,848.19 574.8,848.53 576.15,849.11 577.53,850.11 578.9,850.26 580.26,849.65 581.62,848.87 583.01,848.66 584.4,849.11 585.81,849.02 587.23,848.57 588.59,847.73 589.94,846.9 591.12,846.51 592.31,846.88 594.21,847.35 595.78,847.83 597.22,847.78 598.72,847.12 600.27,847.14 601.79,847.47 603.38,847.06 604.25,846.44 605.13,845.74 606.1,844.93 607.06,844.14 608.1,843.13 609.13,842.12 609.87,841.34 610.6,840.55 611.34,839.77 612.12,838.9 612.9,838.04 613.68,837.18 614.32,836.4 614.97,835.63 615.62,834.85 616.27,834.07 616.97,833.18 617.68,832.29 618.38,831.4 619.08,830.5 619.78,829.64 620.47,828.78 621.17,827.92 621.86,827.06 622.7,826.16 623.53,825.26 624.36,824.36 625.41,823.42 626.45,822.49 627.38,821.9 628.3,821.4 630.04,820.3 631.84,819.4 633.73,820.14 634.69,821.16 635.64,821.85 636.58,822.47 637.52,823.12 638.42,823.65 639.32,824.28 640.16,824.98 640.99,825.59 641.79,826.25 642.59,826.93 644.15,827.57 645.73,827.76 647.28,827.53 648.04,826.82 648.8,826.12 649.59,825.2 650.38,824.28 651.26,823.25 652.14,822.22 652.8,821.43 653.46,820.65 654.12,819.86 654.84,818.94 655.56,818.02 656.28,817.11 657.02,816.15 657.76,815.2 658.5,814.24 659.23,813.34 659.95,812.44 660.68,811.54 661.41,810.65 662.14,809.77 662.87,808.88 663.61,807.99 664.35,807.09 665.09,806.2 665.81,805.39 666.53,804.58 667.24,803.78 668.24,802.85 669.23,801.92 670.08,801.37 670.93,801.01 672.44,800.53 673.94,799.98 675.64,798.97 676.66,799.22 677.68,799.91 678.8,800.84 679.91,801.08 681.03,800.76 682.15,800.45 683.17,800.69 684.19,801.18 685.89,801.29 687.39,800.38 688.9,799.32 690.6,798.21 692.58,797.85 693.66,798.42 694.74,799.21 695.85,799.05 696.96,798.46 698.05,797.69 699.15,797.69 700.24,798.15 701.33,798.32 702.44,797.99 703.55,797.23 704.63,796.34 705.71,796.17 706.7,796.45 707.69,796.8 709.6,796.67 711.43,796.13 713,795.59 714.1,796.15" fill="none" stroke="#ff00ff" stroke-width="2.4" stroke-linejoin="round" stroke-linecap="round" />
<path d="M403.2,830.6 L405.32,835.69 L410.81,836.13 L406.62,839.71 L407.9,845.07 L403.2,842.2 L398.5,845.07 L399.78,839.71 L395.59,836.13 L401.08,835.69Z" fill="#000" stroke="none" stroke-width="1" />
<path d="M403.2,855.4 L405.45,860.81 L411.28,861.27 L406.84,865.08 L408.2,870.78 L403.2,867.73 L398.2,870.78 L399.56,865.08 L395.12,861.27 L400.95,860.81Z" fill="#00ff00" stroke="none" stroke-width="1" />
<path d="M403.2,873.5 L405.45,878.91 L411.28,879.37 L406.84,883.18 L408.2,888.88 L403.2,885.83 L398.2,888.88 L399.56,883.18 L395.12,879.37 L400.95,878.91Z" fill="#0000ff" stroke="none" stroke-width="1" />
<path d="M403.2,897.5 L405.45,902.91 L411.28,903.37 L406.84,907.18 L408.2,912.88 L403.2,909.83 L398.2,912.88 L399.56,907.18 L395.12,903.37 L400.95,902.91Z" fill="#ff1fb0" stroke="none" stroke-width="1" />
<rect x="92.7" y="603.8" width="621.8" height="463.8" fill="none" stroke="#000" stroke-width="2" />
<line x1="92.9" y1="1067.6" x2="92.9" y2="1077.1" stroke="#000" stroke-width="2" />
<line x1="248.3" y1="1067.6" x2="248.3" y2="1077.1" stroke="#000" stroke-width="2" />
<line x1="403.7" y1="1067.6" x2="403.7" y2="1077.1" stroke="#000" stroke-width="2" />
<line x1="559.1" y1="1067.6" x2="559.1" y2="1077.1" stroke="#000" stroke-width="2" />
<line x1="714.5" y1="1067.6" x2="714.5" y2="1077.1" stroke="#000" stroke-width="2" />
<line x1="170.6" y1="1067.6" x2="170.6" y2="1072.6" stroke="#000" stroke-width="2" />
<line x1="326" y1="1067.6" x2="326" y2="1072.6" stroke="#000" stroke-width="2" />
<line x1="481.4" y1="1067.6" x2="481.4" y2="1072.6" stroke="#000" stroke-width="2" />
<line x1="636.8" y1="1067.6" x2="636.8" y2="1072.6" stroke="#000" stroke-width="2" />
<line x1="83.2" y1="1067.6" x2="92.7" y2="1067.6" stroke="#000" stroke-width="2" />
<line x1="83.2" y1="951.65" x2="92.7" y2="951.65" stroke="#000" stroke-width="2" />
<line x1="83.2" y1="835.7" x2="92.7" y2="835.7" stroke="#000" stroke-width="2" />
<line x1="83.2" y1="719.75" x2="92.7" y2="719.75" stroke="#000" stroke-width="2" />
<line x1="83.2" y1="603.8" x2="92.7" y2="603.8" stroke="#000" stroke-width="2" />
<line x1="87.7" y1="1009.62" x2="92.7" y2="1009.62" stroke="#000" stroke-width="2" />
<line x1="87.7" y1="893.67" x2="92.7" y2="893.67" stroke="#000" stroke-width="2" />
<line x1="87.7" y1="777.72" x2="92.7" y2="777.72" stroke="#000" stroke-width="2" />
<line x1="87.7" y1="661.77" x2="92.7" y2="661.77" stroke="#000" stroke-width="2" />
<text x="92.9" y="1105.4" font-size="30" font-family="Liberation Sans" text-anchor="middle" fill="#000" >0.0</text>
<text x="248.3" y="1105.4" font-size="30" font-family="Liberation Sans" text-anchor="middle" fill="#000" >0.5</text>
<text x="403.7" y="1105.4" font-size="30" font-family="Liberation Sans" text-anchor="middle" fill="#000" >1.0</text>
<text x="559.1" y="1105.4" font-size="30" font-family="Liberation Sans" text-anchor="middle" fill="#000" >1.5</text>
<text x="714.5" y="1105.4" font-size="30" font-family="Liberation Sans" text-anchor="middle" fill="#000" >2.0</text>
<text x="77.2" y="1077.6" font-size="30" font-family="Liberation Sans" text-anchor="end" fill="#000" >0</text>
<text x="77.2" y="961.65" font-size="30" font-family="Liberation Sans" text-anchor="end" fill="#000" >5</text>
<text x="77.2" y="845.7" font-size="30" font-family="Liberation Sans" text-anchor="end" fill="#000" >10</text>
<text x="77.2" y="729.75" font-size="30" font-family="Liberation Sans" text-anchor="end" fill="#000" >15</text>
<text x="77.2" y="613.8" font-size="30" font-family="Liberation Sans" text-anchor="end" fill="#000" >20</text>
<text x="-1" y="637.5" font-size="57" font-family="Liberation Sans" text-anchor="start" fill="#000" >c</text>
<text x="406.5" y="1146.8" font-size="40" font-family="Liberation Sans" text-anchor="middle" fill="#000" >z/Z</text>
<text transform="translate(25.7,848) rotate(-90)" font-size="39" font-family="Liberation Sans">r<tspan font-size="24" dy="14">c</tspan></text>
<rect x="101.9" y="615" width="180.7" height="139.3" fill="#fff" stroke="#000" stroke-width="2" />
<line x1="114.1" y1="631.4" x2="158.7" y2="631.4" stroke="#00ff00" stroke-width="2.2" />
<text x="164.4" y="637.7" font-size="19.3" font-family="Liberation Sans">E<tspan class="s" font-size="12.35" dy="6.95">0</tspan><tspan dy="-6.95">=7.5</tspan></text>
<line x1="114.1" y1="660.4" x2="158.7" y2="660.4" stroke="#0000ff" stroke-width="2.2" />
<text x="164.4" y="666.9" font-size="19.3" font-family="Liberation Sans">E<tspan class="s" font-size="12.35" dy="6.95">0</tspan><tspan dy="-6.95">=8.5</tspan></text>
<line x1="114.1" y1="689.8" x2="158.7" y2="689.8" stroke="#ff00ff" stroke-width="2.2" />
<text x="164.4" y="696.2" font-size="19.3" font-family="Liberation Sans">E<tspan class="s" font-size="12.35" dy="6.95">0</tspan><tspan dy="-6.95">=9</tspan></text>
<line x1="114.1" y1="719.2" x2="158.7" y2="719.2" stroke="#000" stroke-width="2.2" stroke-dasharray="7.5,8"/>
<text x="164.4" y="726.2" font-size="19.3" font-family="Liberation Sans">Idealized</text>
<line x1="114.1" y1="742.9" x2="158.7" y2="742.9" stroke="#000080" stroke-width="2.2" />
<text x="164.4" y="749.2" font-size="19.3" font-family="Liberation Sans">Newton's law</text>
<line x1="857.54" y1="611.5" x2="1434.5" y2="1034.7" stroke="#000" stroke-width="2.2" stroke-dasharray="7.5,5.5"/>
<line x1="1143.5" y1="605.4" x2="1434.5" y2="1034.7" stroke="#000" stroke-width="2.1" stroke-dasharray="4,1.2"/>
<polyline points="918.2,666.7 920.15,668.69 922.93,671.5 925.6,674.2 927.68,676.41 929.66,678.51 932.1,680.6 935.17,682.61 938.69,684.63 942.7,687 947.3,689.84 952.38,693.04 957.7,696.6 963.33,700.86 969.19,705.48 974.8,709.4 980.24,711.96 985.44,713.82 989.7,715.9 992.18,718.62 993.72,721.57 996.2,724.4 1000.46,726.86 1005.66,729.2 1011.1,731.9 1016.64,735.31 1022.42,739.08 1028.2,742.6 1034.46,745.71 1040.71,748.58 1045.3,751.1 1046.95,753.13 1046.94,754.82 1047.4,756.5 1049.21,758.27 1051.5,760.04 1053.8,761.8 1055.96,763.4 1058.14,765.01 1060.3,767.1 1062.51,770.25 1064.71,773.89 1066.7,776.8 1068.33,778.35 1069.75,779.17 1071.2,780 1072.36,780.95 1073.56,781.9 1076,783.2 1080.5,785.1 1086.24,787.35 1092,789.6 1097.66,791.79 1103.33,793.99 1108.1,796 1111.54,797.78 1114.09,799.38 1116.1,800.8 1117.76,801.99 1118.89,802.99 1119.3,804 1118.89,805.1 1117.76,806.19 1116.1,807.2 1113.2,808.09 1109.76,808.89 1108.1,809.6 1109.46,810.07 1112.6,810.46 1116.1,811.2 1119.66,812.59 1123.57,814.33 1127.3,816 1130.56,817.36 1133.64,818.65 1136.9,820.1 1140.51,821.86 1144.31,823.78 1148.1,825.7 1151.89,827.48 1155.69,829.26 1159.3,831.3 1162.8,833.85 1166.11,836.66 1168.9,839.3 1170.85,841.55 1172.27,843.63 1173.7,845.7 1175.39,847.92 1177.09,850.14 1178.6,852.1 1179.73,853.67 1180.68,854.97 1181.8,856.1 1183.4,857.05 1185.18,857.82 1186.6,858.5 1187.13,858.91 1187.31,859.24 1188.2,860.1 1190.39,861.91 1193.3,864.25 1196.2,866.5 1198.81,868.34 1201.41,870.09 1204.2,872.1 1207.22,874.83 1210.42,877.82 1213.8,880.1 1217.53,880.96 1221.44,881.11 1225,881.7 1228.02,883.36 1230.69,885.46 1233,887.3 1234.99,888.51 1236.61,889.46 1237.8,890.5 1238.48,891.86 1238.72,893.31 1238.6,894.5 1237.77,895.18 1236.59,895.59 1236.2,896.1 1236.91,896.66 1238.41,897.33 1241,898.6 1245.53,900.98 1251.14,903.97 1255.5,906.6 1257.17,908.32 1257.58,909.68 1258.7,911.4 1261.19,913.89 1264.39,916.73 1268.3,919.4 1273.4,921.71 1279.2,923.84 1284.3,925.8 1288.09,927.27 1291.17,928.56 1293.9,930.6 1296.35,934.2 1298.45,938.56 1300.4,942.2 1302.02,944.2 1303.48,945.47 1305.5,947.3 1308.4,950.29 1311.86,953.84 1315.6,957.4 1319.64,960.89 1323.97,964.39 1328.3,967.6 1332.06,970.51 1335.83,973.14 1341,975.2 1349.09,976.36 1358.6,976.96 1366.4,977.7 1371.23,978.82 1374.35,980.09 1376.5,981.5 1377.96,983.15 1378.45,984.95 1377.8,986.6 1375.82,988.01 1372.71,989.28 1368.9,990.4 1364.11,991.47 1358.63,992.39 1353.7,992.9 1348.7,992.5 1344.26,991.68 1343.5,991.7 1348.59,993.1 1357.36,995.33 1366.4,998 1374.84,1001.11 1383.55,1004.66 1391.7,1008.2 1399.21,1011.76 1406.17,1015.31 1412,1018.3 1416.07,1020.14 1419.02,1021.43 1422.2,1023.4 1426.6,1027.13 1431.23,1031.54 1434.5,1034.7" fill="none" stroke="#00ff00" stroke-width="2.3" stroke-linejoin="round" stroke-linecap="round" />
<polyline points="958.8,755.4 961.17,756.52 964.61,758.11 968.4,759.7 972.51,761.03 976.97,762.34 981.2,763.9 984.61,765.87 987.78,768.08 991.9,770.3 997.67,772.54 1004.39,774.8 1011.1,776.8 1018.29,778.41 1025.48,779.76 1030.3,781 1031.73,782.22 1030.8,783.33 1028.2,784.2 1023.49,784.69 1017.12,784.94 1011.1,785.3 1005.6,785.89 1000.45,786.58 997.2,787.4 996.4,788.39 997.51,789.49 1000.4,790.6 1005.64,791.54 1012.68,792.49 1019.7,793.8 1026.27,795.77 1032.82,798.1 1038.9,800.3 1044.39,802.14 1049.4,803.86 1053.8,805.6 1057.45,807.65 1060.49,809.74 1063.2,811.2 1065.61,811.56 1067.7,811.29 1069.6,811.2 1071.14,811.47 1072.5,811.91 1074.4,812.8 1077.3,814.4 1080.74,816.44 1084,818.4 1086.72,820.12 1089.27,821.76 1092,823.3 1095.05,824.7 1098.29,826 1101.7,827.3 1105.2,828.63 1108.87,829.97 1112.9,831.3 1117.52,832.69 1122.5,834.09 1127.3,835.3 1132.04,836.22 1136.6,836.96 1140.1,837.7 1142.11,838.5 1143.06,839.3 1143.3,840.1 1143.06,840.93 1142.11,841.76 1140.1,842.5 1136.6,843.12 1132.04,843.66 1127.3,844.1 1122.5,844.43 1117.52,844.66 1112.9,844.9 1108.46,845.14 1104.37,845.37 1101.7,845.7 1100.87,846.17 1101.46,846.74 1103.3,847.3 1106.8,847.74 1111.54,848.19 1116.1,848.9 1120.01,850.06 1123.74,851.48 1127.3,852.9 1130.62,854.2 1133.76,855.51 1136.9,856.9 1140.1,858.44 1143.3,860.07 1146.5,861.7 1149.76,863.39 1153.02,865.08 1156.1,866.5 1158.89,867.48 1161.49,868.19 1164.1,868.9 1166.82,869.67 1169.54,870.44 1172.1,871.3 1174.26,872.25 1176.26,873.29 1178.6,874.5 1181.57,875.92 1184.89,877.52 1188.2,879.3 1191.4,881.29 1194.6,883.45 1197.8,885.7 1201,888.13 1204.2,890.64 1207.4,892.9 1210.48,894.92 1213.56,896.68 1217,897.8 1221.15,897.77 1225.65,897.1 1229.8,896.9 1233.24,897.66 1236.32,898.89 1239.4,900.2 1242.71,901.48 1246.03,902.84 1249,904.2 1251.67,905.56 1254,906.93 1255.5,908.2 1256.1,909.36 1255.88,910.42 1254.6,911.4 1252.04,912.32 1248.43,913.15 1244.2,913.8 1239.34,914.26 1233.86,914.55 1228.2,914.6 1221.44,914.2 1214.51,913.56 1210.6,913.3 1211.79,913.71 1215.99,914.49 1220.2,915.4 1223.22,916.27 1226.24,917.26 1229.8,918.6 1234.18,920.5 1239.1,922.75 1244.2,925 1249.44,927.1 1254.88,929.21 1260.3,931.4 1265.82,933.89 1271.33,936.47 1276.3,938.6 1280.34,939.79 1283.85,940.53 1287.5,941.8 1291.46,944.13 1295.56,946.99 1300,949.8 1304.99,952.27 1310.31,954.69 1315.6,957.4 1320.79,960.8 1325.93,964.49 1330.8,967.6 1334.84,969.79 1338.6,971.4 1343.5,972.6 1350.57,973.21 1358.77,973.42 1366.4,973.9 1373.2,974.93 1379.42,976.24 1384.1,977.7 1386.77,979.3 1387.9,981.05 1387.9,982.8 1387.07,984.6 1385.11,986.39 1381.6,987.9 1376.15,989.02 1369.15,989.85 1361.3,990.4 1350.78,990.4 1339.41,990.11 1333.4,990.4 1336.41,991.54 1344.78,993.24 1353.7,995.5 1361.95,998.59 1370.75,1002.23 1379,1005.6 1386.14,1008.22 1392.72,1010.57 1399.3,1013.2 1406.27,1016.37 1413.23,1019.82 1419.6,1023.4 1425.52,1027.5 1430.84,1031.73 1434.5,1034.7" fill="none" stroke="#0000ff" stroke-width="2.3" stroke-linejoin="round" stroke-linecap="round" />
<polyline points="1071.5,797.5 1072.65,798.46 1074.19,799.81 1075,801 1074.15,801.96 1072.57,802.76 1072,803 1073.63,802.04 1076.26,800.52 1078,800 1077.7,801.63 1076.52,804.26 1076,806 1077.07,805.91 1078.8,804.93 1080,804 1079.88,803.2 1079.23,802.44 1079.2,802.4 1080.39,803.41 1082.19,805.13 1084,807.2 1085.54,809.77 1087.08,812.7 1088.8,815.2 1090.57,816.89 1092.53,818.14 1095.2,819.3 1099.14,820.52 1103.8,821.64 1108.1,822.5 1111.84,822.91 1115.21,823.06 1117.7,823.3 1119.12,823.77 1119.66,824.34 1119.3,824.9 1117.94,825.4 1115.69,825.91 1112.9,826.5 1109.47,827.18 1105.5,827.95 1101.7,828.9 1098.29,830.06 1095.05,831.39 1092,832.9 1088.85,834.8 1085.89,836.87 1084,838.5 1083.34,839.37 1083.76,839.8 1085.6,840.1 1089.54,840.33 1094.91,840.43 1100.1,840.6 1104.79,840.81 1109.29,841.1 1112.9,841.7 1115.21,842.67 1116.63,843.96 1117.7,845.7 1118.53,848.1 1119,850.94 1119.3,853.7 1119.24,856.51 1119,859.24 1119.3,860.9 1120.43,860.54 1122.09,859.12 1124.1,858.5 1126.53,859.63 1129.31,861.55 1132.1,863.3 1134.94,864.72 1137.79,865.97 1140.1,866.5 1141.52,865.85 1142.41,864.49 1143.3,863.3 1144.37,862.23 1145.43,861.34 1146.5,861.7 1147.57,864.19 1148.63,867.92 1149.7,871.3 1150.71,873.79 1151.71,875.92 1152.9,877.7 1154.14,879.06 1155.57,880.07 1157.7,880.9 1160.96,881.58 1164.92,882.09 1168.9,882.5 1172.93,882.91 1176.97,883.24 1180.2,883.3 1182.31,882.8 1183.61,882.03 1184.2,881.7 1184.14,882.17 1183.38,883.09 1181.8,884.1 1179.22,885.05 1175.83,886.09 1172.1,887.3 1167.94,888.84 1163.44,890.56 1159.3,892.1 1155.8,893.34 1152.66,894.41 1149.7,895.3 1146.32,896.01 1143.12,896.54 1141.7,896.9 1143,896.99 1146.09,896.89 1149.7,896.9 1153.61,897.08 1158.06,897.36 1162.5,897.8 1167,898.4 1171.5,899.17 1175.3,900.2 1178,901.62 1179.99,903.31 1181.8,905 1183.56,906.54 1185.12,908.08 1186.6,909.8 1187.87,912 1189.06,914.39 1190.6,916.2 1192.79,917.04 1195.34,917.31 1197.8,917.5 1199.99,917.79 1202.1,917.99 1204.2,918.1 1206.33,918 1208.47,917.79 1210.6,917.8 1212.73,918.37 1214.87,919.15 1217,919.4 1219.31,918.45 1221.62,916.97 1223.4,916.2 1224.29,916.61 1224.64,917.74 1225,919.4 1225.36,921.74 1225.71,924.61 1226.6,927.4 1228.2,930.1 1230.33,932.7 1233,934.6 1236.2,935.46 1239.93,935.61 1244.2,935.4 1249.44,934.9 1255.23,934.04 1260.3,933 1264.46,931.55 1267.89,929.92 1269.9,929 1269.96,929.24 1268.6,930.19 1266.7,931.4 1264.45,932.85 1261.67,934.57 1258.7,936.2 1255.71,937.68 1252.53,939.07 1249,940.2 1245.08,940.96 1240.82,941.45 1236.2,941.8 1230.08,941.96 1223.6,941.97 1220.2,942.1 1221.73,942.44 1226.34,942.91 1231.9,943.5 1238.22,944.01 1245.49,944.65 1252.2,946 1257.83,948.54 1262.89,951.79 1267.4,954.9 1271.27,957.62 1274.58,960.2 1277.6,962.5 1280.33,964.62 1282.76,966.47 1285.2,967.6 1287.64,967.5 1290.08,966.69 1292.8,966.3 1295.98,966.99 1299.43,968.1 1302.9,968.8 1306.3,968.63 1309.7,968.05 1313.1,967.6 1316.66,967.51 1320.21,967.56 1323.2,967.6 1325.37,967.41 1326.98,967.23 1328.3,967.6 1329.27,968.7 1329.96,970.36 1330.8,972.6 1332.1,975.8 1333.55,979.59 1334.7,982.8 1334.78,985.16 1334.56,986.96 1335.9,987.9 1339.64,987.69 1344.94,986.63 1351.1,985.3 1358.26,983.67 1366.27,981.78 1374,980.3 1381.9,979.31 1389.51,978.73 1394.3,979 1394.86,980.58 1392.59,983.01 1389.2,985.3 1385.07,987.19 1379.82,988.94 1374,990.4 1367.8,991.56 1361.03,992.44 1353.7,992.9 1344.76,992.78 1335.26,992.24 1328.3,991.7 1325.02,991.13 1324.29,990.56 1325.8,990.4 1330.11,990.9 1336.66,991.83 1343.5,992.9 1350.07,993.83 1356.94,994.91 1363.8,996.7 1370.57,999.67 1377.33,1003.36 1384.1,1006.9 1391.06,1009.92 1398.01,1012.79 1404.4,1015.8 1409.86,1019.13 1414.74,1022.59 1419.6,1025.9 1425.14,1029.26 1430.65,1032.47 1434.5,1034.7" fill="none" stroke="#ff00ff" stroke-width="2.0" stroke-linejoin="round" stroke-linecap="round" />
<polyline points="1125.5,858 1125.42,860.46 1124.58,860.75 1124.5,858.88 1125.92,857 1128.08,857.29 1129.5,859.75 1129.42,862.21 1128.58,862.5 1128.5,860.62 1129.92,858.75 1132.08,859.04 1133.5,861.5 1133.42,863.96 1132.58,864.25 1132.5,862.38 1133.92,860.5 1136.08,860.79 1137.5,863.25 1137.42,865.71 1136.58,866 1136.5,864.12 1137.92,862.25 1140.08,862.54 1141.5,865" fill="none" stroke="#ff00ff" stroke-width="1.5" stroke-linejoin="round" stroke-linecap="round" />
<polyline points="1195.5,917 1195.5,919.25 1194.75,919.33 1194.75,917.25 1196.25,915.17 1198.5,915.25 1200,917.5 1200,919.75 1199.25,919.83 1199.25,917.75 1200.75,915.67 1203,915.75 1204.5,918 1204.5,920.25 1203.75,920.33 1203.75,918.25 1205.25,916.17 1207.5,916.25 1209,918.5 1209,920.75 1208.25,920.83 1208.25,918.75 1209.75,916.67 1212,916.75 1213.5,919" fill="none" stroke="#ff00ff" stroke-width="1.5" stroke-linejoin="round" stroke-linecap="round" />
<polyline points="1288.32,967 1288.49,968.99 1288.01,969.07 1288.18,967.25 1289.67,965.43 1291.83,965.51 1293.32,967.5 1293.49,969.49 1293.01,969.57 1293.18,967.75 1294.67,965.93 1296.83,966.01 1298.32,968 1298.49,969.99 1298.01,970.07 1298.18,968.25 1299.67,966.43 1301.83,966.51 1303.32,968.5 1303.49,970.49 1303.01,970.57 1303.18,968.75 1304.67,966.93 1306.83,967.01 1308.32,969" fill="none" stroke="#ff00ff" stroke-width="1.5" stroke-linejoin="round" stroke-linecap="round" />
<path d="M1138,811.2 L1140.12,816.29 L1145.61,816.73 L1141.42,820.31 L1142.7,825.67 L1138,822.8 L1133.3,825.67 L1134.58,820.31 L1130.39,816.73 L1135.88,816.29Z" fill="#000" stroke="none" stroke-width="1" />
<path d="M1175,837.5 L1177.25,842.91 L1183.08,843.37 L1178.64,847.18 L1180,852.88 L1175,849.83 L1170,852.88 L1171.36,847.18 L1166.92,843.37 L1172.75,842.91Z" fill="#00ff00" stroke="none" stroke-width="1" />
<path d="M1179.4,866.7 L1181.65,872.11 L1187.48,872.57 L1183.04,876.38 L1184.4,882.08 L1179.4,879.03 L1174.4,882.08 L1175.76,876.38 L1171.32,872.57 L1177.15,872.11Z" fill="#0000ff" stroke="none" stroke-width="1" />
<path d="M1190,908.5 L1192.25,913.91 L1198.08,914.37 L1193.64,918.18 L1195,923.88 L1190,920.83 L1185,923.88 L1186.36,918.18 L1181.92,914.37 L1187.75,913.91Z" fill="#ff1fb0" stroke="none" stroke-width="1" />
<path d="M1300.4,937 L1301.99,940.82 L1306.11,941.15 L1302.97,943.83 L1303.93,947.85 L1300.4,945.7 L1296.87,947.85 L1297.83,943.83 L1294.69,941.15 L1298.81,940.82Z" fill="#00ff00" stroke="none" stroke-width="1" />
<path d="M1300.4,944.5 L1301.99,948.32 L1306.11,948.65 L1302.97,951.33 L1303.93,955.35 L1300.4,953.2 L1296.87,955.35 L1297.83,951.33 L1294.69,948.65 L1298.81,948.32Z" fill="#0000ff" stroke="none" stroke-width="1" />
<path d="M1421,1014.5 Q1430,1031 1439.5,1059" fill="none" stroke="#000080" stroke-width="3.4" stroke-linecap="round"/>
<path d="M1424.2,1015.3 Q1433.2,1031 1442.8,1057.8" fill="none" stroke="#000080" stroke-width="3.4" stroke-linecap="round"/>
<path d="M1427.4,1014.5 Q1436.4,1031 1446.1,1056.6" fill="none" stroke="#000080" stroke-width="3.4" stroke-linecap="round"/>
<path d="M1430.6,1015.3 Q1439.6,1031 1449.4,1055.4" fill="none" stroke="#000080" stroke-width="3.4" stroke-linecap="round"/>
<line x1="1405.5" y1="992.5" x2="1434.5" y2="1034.7" stroke="#000" stroke-width="2.1" stroke-dasharray="4,1.2"/>
<line x1="1396" y1="1006.5" x2="1434.5" y2="1034.7" stroke="#000" stroke-width="2.2" stroke-dasharray="7.5,5.5"/>
<rect x="1409.1" y="1007.2" width="50.2" height="55.6" fill="none" stroke="#000080" stroke-width="2" stroke-dasharray="3.7,2.8"/>
<line x1="1399.3" y1="1044.6" x2="1138" y2="1044.6" stroke="#000" stroke-width="2" />
<path d="M1125.4,1044.6 L1141.9,1037 L1141.9,1052.2 Z" fill="#000" stroke="none" stroke-width="1" />
<line x1="1330.8" y1="882.6" x2="1286" y2="817" stroke="#000" stroke-width="4" />
<path d="M1278.8,806.5 L1298.53,822.08 L1286.15,830.55 Z" fill="#000" stroke="none" stroke-width="1" />
<path d="M1335.9,963.8 Q1352,950 1370.2,943.5" fill="none" stroke="#222" stroke-width="2.4" />
<text x="1302" y="934.6" font-size="28" font-family="Liberation Sans" text-anchor="start" fill="#000" >18°</text>
<text class="n" x="1306" y="823" font-size="31" font-family="Liberation Serif"><tspan font-style="italic">V</tspan>(<tspan font-style="italic" font-weight="bold">r</tspan>-α<tspan font-style="italic">z</tspan><tspan font-weight="bold">j</tspan>)</text>
<rect x="902.8" y="863.2" width="204.9" height="161.3" fill="#fff" stroke="#333" stroke-width="1.3" />
<polyline points="1076.8,1004.28 1077.21,1004.16 1077.51,1003.94 1077.72,1003.63 1077.83,1003.23 1077.83,1002.73 1077.73,1002.13 1077.54,1001.45 1077.24,1000.67 1076.84,999.8 1076.34,998.85 1075.75,997.81 1075.06,996.68 1074.27,995.47 1073.39,994.17 1072.42,992.8 1071.36,991.35 1070.21,989.82 1068.97,988.22 1067.65,986.55 1066.25,984.81 1064.77,983.01 1063.22,981.15 1061.59,979.22 1059.89,977.24 1058.12,975.21 1056.3,973.12 1054.41,970.99 1052.46,968.82 1050.46,966.6 1048.41,964.35 1046.31,962.07 1044.17,959.75 1041.99,957.41 1039.78,955.05 1037.53,952.67 1035.26,950.27 1032.97,947.87 1030.65,945.45 1028.32,943.03 1025.98,940.62 1023.63,938.2 1021.28,935.8 1018.93,933.4 1016.59,931.02 1014.25,928.66 1011.93,926.33 1009.62,924.02 1007.33,921.74 1005.07,919.49 1002.84,917.28 1000.63,915.11 998.46,912.98 996.33,910.91 994.24,908.88 992.2,906.91 990.21,904.99 988.26,903.13 986.38,901.34 984.55,899.61 982.78,897.95 981.07,896.36 979.43,894.85 977.85,893.41 976.35,892.05 974.92,890.77 973.56,889.58 972.28,888.46 971.08,887.44 969.96,886.5 968.92,885.65 967.96,884.89 967.09,884.23 966.3,883.66 965.6,883.18 964.98,882.8 964.46,882.51 964.01,882.32 963.66,882.23 963.4,882.23 963.22,882.33 963.13,882.53 963.14,882.82 963.22,883.21 963.4,883.7 963.66,884.28 964.01,884.96 964.44,885.73 964.96,886.59 965.56,887.55 966.24,888.59 967.01,889.72 967.85,890.94 968.77,892.25 969.76,893.63 970.83,895.1 971.97,896.65 973.18,898.27 974.46,899.97 975.81,901.74 977.22,903.58 978.69,905.49 980.21,907.46 981.8,909.49 983.44,911.58 985.13,913.72 986.87,915.91 988.66,918.15 990.49,920.44 992.36,922.77 994.27,925.13 996.22,927.53 998.2,929.96 1000.21,932.42 1002.24,934.9 1004.3,937.4 1006.38,939.91 1008.47,942.44 1010.59,944.98 1012.71,947.52 1014.84,950.06 1016.98,952.6 1019.13,955.13 1021.27,957.65 1023.41,960.15 1025.55,962.64 1027.67,965.1 1029.79,967.54 1031.89,969.95 1033.98,972.32 1036.04,974.66 1038.09,976.96 1040.11,979.21 1042.1,981.42 1044.06,983.57 1045.99,985.67 1047.88,987.72 1049.74,989.7 1051.55,991.62 1053.33,993.48 1055.06,995.26 1056.74,996.98 1058.37,998.61 1059.96,1000.18 1061.49,1001.66 1062.96,1003.06 1064.38,1004.38 1065.74,1005.61 1067.04,1006.76 1068.28,1007.81 1069.45,1008.77 1070.56,1009.65 1071.6,1010.43 1072.58,1011.11 1073.48,1011.7 1074.32,1012.19 1075.08,1012.58 1075.77,1012.87 1076.39,1013.07 1076.93,1013.17 1077.4,1013.16 1077.79,1013.06 1078.1,1012.86 1078.34,1012.56 1078.5,1012.16 1078.58,1011.67 1078.59,1011.07 1078.51,1010.38 1078.36,1009.6 1078.13,1008.72 1077.83,1007.75 1077.44,1006.69 1076.98,1005.54 1076.45,1004.3 1075.84,1002.98 1075.15,1001.58 1074.4,1000.1 1073.57,998.53 1072.67,996.9 1071.7,995.19 1070.66,993.41 1069.56,991.57 1068.39,989.66 1067.16,987.69 1065.87,985.67 1064.52,983.59 1063.12,981.46 1061.66,979.29 1060.14,977.07 1058.58,974.81 1056.97,972.52 1055.31,970.19 1053.62,967.84 1051.88,965.46 1050.1,963.07 1048.29,960.65 1046.45,958.23 1044.58,955.8 1042.68,953.36 1040.77,950.92 1038.83,948.48 1036.87,946.05 1034.9,943.64 1032.92,941.23 1030.93,938.85 1028.94,936.49 1026.94,934.16 1024.95,931.85 1022.96,929.58 1020.98,927.35 1019.01,925.16 1017.05,923.01 1015.11,920.91 1013.19,918.86 1011.29,916.86 1009.42,914.92 1007.58,913.04 1005.77,911.22 1003.99,909.47 1002.26,907.78 1000.56,906.17 998.9,904.63 997.29,903.16 995.73,901.77 994.21,900.45 992.75,899.22 991.35,898.07 990,897.01 988.71,896.02 987.48,895.13 986.32,894.32 985.21,893.6 984.18,892.97 983.21,892.43 982.32,891.98 981.49,891.62 980.74,891.36 980.06,891.18 979.46,891.09 978.93,891.1 978.47,891.19 978.1,891.38 977.8,891.65 977.58,892.01 977.44,892.46 977.37,893 977.39,893.62 977.48,894.33 977.65,895.11 977.9,895.98 978.23,896.93 978.63,897.96 979.12,899.06 979.67,900.24 980.3,901.48 981.01,902.8 981.79,904.19 982.64,905.64 983.56,907.15 984.55,908.72 985.6,910.35 986.72,912.03 987.91,913.77 989.15,915.55 990.46,917.38 991.82,919.25 993.24,921.17 994.71,923.12 996.24,925.1 997.81,927.12 999.43,929.16 1001.09,931.23 1002.79,933.32 1004.53,935.43 1006.31,937.55 1008.11,939.69 1009.95,941.83 1011.82,943.98 1013.71,946.13 1015.62,948.28 1017.55,950.43 1019.49,952.57 1021.45,954.69 1023.41,956.81 1025.38,958.91 1027.36,960.98 1029.33,963.04 1031.3,965.07 1033.26,967.07 1035.22,969.04 1037.16,970.97 1039.08,972.87 1040.99,974.73 1042.88,976.55 1044.74,978.32 1046.57,980.04 1048.38,981.72 1050.15,983.34 1051.88,984.91 1053.58,986.42 1055.23,987.87 1056.85,989.26 1058.41,990.59 1059.93,991.85 1061.4,993.05 1062.81,994.18 1064.17,995.24 1065.47,996.24 1066.71,997.15 1067.89,998 1069.01,998.77 1070.06,999.47 1071.05,1000.08 1071.97,1000.63 1072.82,1001.09 1073.6,1001.47 1074.31,1001.78 1074.94,1002.01 1075.5,1002.15 1075.99,1002.22 1076.4,1002.21 1076.73,1002.11 1076.98,1001.93 1077.15,1001.68 1077.24,1001.34 1077.24,1000.92 1077.16,1000.42 1077,999.84 1076.76,999.18 1076.44,998.45 1076.03,997.64 1075.55,996.76 1074.99,995.8 1074.35,994.77 1073.63,993.67 1072.84,992.5 1071.98,991.26 1071.04,989.96 1070.04,988.59 1068.96,987.17 1067.82,985.68 1066.62,984.14 1065.35,982.54 1064.02,980.9 1062.64,979.2 1061.2,977.46 1059.7,975.67 1058.16,973.84 1056.57,971.98 1054.93,970.07 1053.25,968.14 1051.53,966.18 1049.77,964.19 1047.98,962.17 1046.15,960.14 1044.3,958.09 1042.42,956.02 1040.52,953.95 1038.6,951.86 1036.66,949.77 1034.71,947.69 1032.75,945.6 1030.78,943.52 1028.8,941.44 1026.82,939.38 1024.85,937.33 1022.87,935.31 1020.91,933.3 1018.95,931.32 1017,929.36 1015.07,927.44 1013.16,925.54 1011.27,923.69 1009.4,921.87 1007.55,920.1 1005.73,918.37 1003.94,916.69 1002.19,915.06 1000.47,913.48 998.79,911.95 997.14,910.49 995.54,909.08 993.98,907.74 992.46,906.46 990.99,905.24 989.57,904.1 988.2,903.02 986.88,902.01 985.61,901.08 984.4,900.22 983.25,899.44 982.14,898.74 981.1,898.11 980.12,897.57 979.19,897.1 978.33,896.71 977.53,896.41 976.79,896.19 976.11,896.04 975.49,895.99 974.94,896.01 974.45,896.12 974.02,896.31 973.66,896.58 973.36,896.94 973.12,897.37 972.95,897.89 972.83,898.48 972.79,899.16 972.8,899.91 972.87,900.74 973.01,901.65 973.2,902.63 973.46,903.68 973.77,904.8 974.14,906 974.57,907.26 975.06,908.58 975.6,909.97 976.19,911.43 976.83,912.94 977.53,914.5 978.27,916.13 979.07,917.8 979.91,919.53 980.8,921.3 981.73,923.11 982.7,924.97 983.72,926.86 984.77,928.79 985.86,930.76 986.99,932.75 988.15,934.77 989.35,936.81 990.57,938.88 991.83,940.96 993.11,943.05 994.41,945.16 995.74,947.27 997.09,949.39 998.46,951.51 999.85,953.62 1001.26,955.73 1002.67,957.83 1004.1,959.92 1005.54,962 1006.98,964.05 1008.43,966.09 1009.89,968.1 1011.34,970.08 1012.79,972.03 1014.25,973.95 1015.69,975.82 1017.13,977.66 1018.57,979.46 1019.99,981.21 1021.4,982.92 1022.79,984.57 1024.17,986.17 1025.53,987.71 1026.87,989.2 1028.19,990.62 1029.48,991.99 1030.75,993.28 1031.99,994.51 1033.2,995.68 1034.38,996.77 1035.52,997.79 1036.63,998.73 1037.71,999.6 1038.75,1000.4 1039.75,1001.11 1040.71,1001.75 1041.62,1002.31 1042.5,1002.79 1043.32,1003.18 1044.1,1003.49 1044.84,1003.73 1045.52,1003.87 1046.16,1003.94 1046.74,1003.92 1047.28,1003.82 1047.76,1003.63 1048.19,1003.36 1048.57,1003.01 1048.89,1002.58 1049.16,1002.06 1049.37,1001.47 1049.53,1000.79 1049.63,1000.03 1049.67,999.2 1049.66,998.29 1049.59,997.31 1049.46,996.25 1049.27,995.12 1049.02,993.92 1048.71,992.66 1048.35,991.32 1047.92,989.92 1047.43,988.46 1046.89,986.95 1046.28,985.37 1045.62,983.74 1044.9,982.06 1044.12,980.32 1043.28,978.54 1042.39,976.72 1041.44,974.85 1040.43,972.95 1039.38,971.01 1038.26,969.04 1037.1,967.04 1035.88,965.02 1034.62,962.97 1033.31,960.9 1031.95,958.82 1030.54,956.72 1029.1,954.61 1027.61,952.5 1026.08,950.38 1024.52,948.26 1022.92,946.15 1021.28,944.04 1019.62,941.94 1017.93,939.85 1016.21,937.79 1014.47,935.74 1012.71,933.71 1010.93,931.71 1009.14,929.74 1007.34,927.8 1005.52,925.9 1003.7,924.03 1001.88,922.21 1000.06,920.42 998.24,918.69 996.43,917 994.63,915.37 992.84,913.79 991.07,912.27 989.32,910.8 987.59,909.4 985.89,908.06 984.21,906.78 982.58,905.57 980.97,904.43 979.41,903.36 977.9,902.37 976.43,901.44 975,900.6 973.64,899.83 972.32,899.13 971.07,898.52 969.88,897.98 968.75,897.52 967.69,897.15 966.71,896.85 965.79,896.64 964.95,896.51 964.19,896.46 963.51,896.49 962.91,896.6 962.39,896.8 961.96,897.07 961.62,897.43 961.37,897.87 961.2,898.38 961.13,898.98 961.15,899.65 961.27,900.39 961.48,901.22 961.79,902.11 962.19,903.08 962.68,904.11 963.27,905.22 963.96,906.39 964.74,907.63 965.62,908.93 966.59,910.29 967.65,911.71 968.8,913.19 970.04,914.72 971.38,916.3 972.8,917.94 974.3,919.61 975.89,921.34 977.55,923.1 979.3,924.9 981.12,926.74 983.02,928.61 984.98,930.52 987.01,932.44 989.11,934.4 991.26,936.37 993.48,938.36 995.74,940.37 998.06,942.39 1000.42,944.41 1002.82,946.44 1005.27,948.48 1007.74,950.51 1010.24,952.54 1012.77,954.57 1015.32,956.58 1017.89,958.58 1020.46,960.56 1023.05,962.53 1025.63,964.47 1028.22,966.39 1030.79,968.28 1033.36,970.13 1035.91,971.96 1038.44,973.75 1040.94,975.49 1043.41,977.2 1045.85,978.86 1048.25,980.48 1050.61,982.04 1052.92,983.56 1055.18,985.02 1057.38,986.42 1059.53,987.76 1061.61,989.05 1063.62,990.27 1065.56,991.43 1067.43,992.52 1069.22,993.54 1070.93,994.49 1072.55,995.38 1074.09,996.19 1075.54,996.93 1076.9,997.59 1078.16,998.18 1079.32,998.69 1080.39,999.13 1081.36,999.48 1082.22,999.76 1082.98,999.97 1083.63,1000.09 1084.18,1000.13 1084.63,1000.09 1084.96,999.98 1085.19,999.78 1085.31,999.51 1085.33,999.16 1085.23,998.73 1085.03,998.23 1084.73,997.64 1084.31,996.99 1083.79,996.25 1083.16,995.45 1082.43,994.57 1081.59,993.62 1080.65,992.61 1079.61,991.52 1078.46,990.37 1077.22,989.16 1075.88,987.88 1074.45,986.54 1072.92,985.15 1071.29,983.7 1069.58,982.19 1067.78,980.63 1065.9,979.03 1063.94,977.38 1061.89,975.68 1059.77,973.94 1057.58,972.16 1055.32,970.35 1052.99,968.5 1050.59,966.63 1048.14,964.72 1045.63,962.79 1043.07,960.84 1040.45,958.87 1037.8,956.88 1035.1,954.88 1032.36,952.87 1029.59,950.86 1026.79,948.84 1023.96,946.82 1021.11,944.8 1018.25,942.79 1015.37,940.79 1012.48,938.8 1009.59,936.82 1006.7,934.86 1003.81,932.93 1000.93,931.01 998.06,929.13 995.21,927.27 992.38,925.45 989.57,923.66 986.79,921.91 984.05,920.2 981.34,918.53 978.68,916.91 976.06,915.34 973.49,913.82 970.97,912.35 968.51,910.94 966.11,909.59 963.77,908.3 961.5,907.06 959.3,905.9 957.17,904.79 955.12,903.76 953.15,902.79 951.26,901.9 949.46,901.08 947.75,900.33 946.12,899.65 944.59,899.05 943.15,898.53 941.81,898.08 940.57,897.71 939.43,897.42 938.39,897.21 937.45,897.08 936.62,897.03 935.89,897.06 935.27,897.17 934.76,897.36 934.35,897.62 934.05,897.97 933.86,898.4 933.77,898.9 933.8,899.48 933.93,900.14 934.17,900.88 934.51,901.68 934.96,902.57 935.51,903.52 936.17,904.55 936.93,905.64 937.79,906.8 938.74,908.03 939.79,909.32 940.94,910.67 942.18,912.09 943.51,913.56 944.92,915.09 946.42,916.67 948,918.3 949.66,919.98 951.4,921.71 953.21,923.48 955.09,925.29 957.04,927.14 959.04,929.02 961.11,930.94 963.23,932.88 965.41,934.86 967.63,936.85 969.9,938.87 972.21,940.9 974.55,942.95 976.93,945.01 979.33,947.08 981.76,949.15 984.2,951.22 986.67,953.3 989.14,955.37 991.62,957.43 994.1,959.47 996.58,961.51 999.06,963.53 1001.52,965.53 1003.97,967.5 1006.41,969.45 1008.82,971.36 1011.2,973.25 1013.55,975.1 1015.87,976.91 1018.15,978.68 1020.39,980.41 1022.58,982.09 1024.72,983.72 1026.81,985.3 1028.84,986.83 1030.81,988.3 1032.72,989.71 1034.56,991.06 1036.33,992.35 1038.03,993.57 1039.65,994.73 1041.2,995.81 1042.67,996.83 1044.05,997.77 1045.35,998.64 1046.56,999.44 1047.68,1000.16 1048.71,1000.8 1049.65,1001.37 1050.5,1001.85 1051.25,1002.26 1051.9,1002.58 1052.46,1002.82 1052.92,1002.99 1053.28,1003.07 1053.54,1003.06 1053.7,1002.98 1053.76,1002.82 1053.72,1002.57 1053.58,1002.24 1053.33,1001.84 1052.99,1001.35 1052.54,1000.79 1052,1000.14 1051.36,999.42 1050.62,998.62 1049.79,997.75 1048.87,996.8 1047.86,995.78 1046.76,994.69 1045.58,993.52 1044.31,992.29 1042.96,990.99 1041.54,989.63 1040.04,988.2 1038.47,986.71 1036.84,985.16 1035.14,983.56 1033.38,981.9 1031.56,980.18 1029.69,978.41 1027.77,976.6 1025.81,974.74 1023.8,972.84 1021.76,970.89 1019.68,968.91 1017.57,966.89 1015.44,964.84 1013.29,962.76 1011.12,960.65 1008.94,958.52 1006.75,956.37 1004.56,954.2 1002.36,952.01 1000.18,949.81 998,947.61 995.83,945.4 993.68,943.18 991.55,940.97 989.44,938.76 987.37,936.56 985.32,934.36 983.31,932.19 981.34,930.02 979.42,927.88 977.54,925.76 975.71,923.67 973.93,921.61 972.21,919.58 970.54,917.58 968.94,915.63 967.4,913.71 965.93,911.84 964.52,910.02 963.19,908.24 961.93,906.52 960.74,904.86 959.63,903.25 958.6,901.71 957.65,900.23 956.78,898.81 955.99,897.46 955.28,896.18 954.66,894.98 954.12,893.85 953.67,892.79 953.3,891.81 953.01,890.92 952.82,890.1 952.7,889.37 952.67,888.72 952.73,888.15 952.87,887.68 953.09,887.29 953.4,886.98 953.79,886.77 954.26,886.65 954.8,886.61 955.43,886.67 956.13,886.82 956.91,887.06 957.77,887.38 958.69,887.8 959.69,888.31 960.75,888.91 961.89,889.59 963.08,890.36 964.34,891.22 965.66,892.16 967.04,893.19 968.48,894.3 969.97,895.49 971.51,896.76 973.1,898.11 974.74,899.53 976.42,901.03 978.15,902.59 979.91,904.23 981.71,905.93 983.55,907.7 985.42,909.52 987.32,911.41 989.24,913.35 991.19,915.34 993.16,917.38 995.15,919.47 997.16,921.59 999.19,923.76 1001.22,925.96 1003.27,928.2 1005.32,930.46 1007.38,932.75 1009.44,935.06 1011.5,937.39 1013.56,939.73 1015.61,942.08 1017.66,944.43 1019.7,946.79 1021.73,949.15 1023.74,951.49 1025.74,953.83 1027.72,956.16 1029.68,958.47 1031.62,960.75 1033.54,963.02 1035.43,965.25 1037.29,967.45 1039.13,969.61 1040.93,971.73 1042.7,973.81 1044.44,975.84 1046.14,977.82 1047.8,979.74 1049.43,981.61 1051.01,983.42 1052.55,985.16 1054.04,986.84 1055.49,988.44 1056.89,989.98 1058.25,991.44 1059.55,992.82 1060.8,994.12 1062,995.34 1063.15,996.47 1064.24,997.52 1065.27,998.48 1066.25,999.35 1067.17,1000.13 1068.03,1000.81 1068.83,1001.4 1069.57,1001.9 1070.24,1002.3 1070.85,1002.6 1071.4,1002.81 1071.88,1002.91 1072.3,1002.93 1072.65,1002.84 1072.94,1002.65 1073.18,1002.37 1073.35,1002 1073.46,1001.53 1073.5,1000.96 1073.49,1000.3 1073.41,999.54 1073.27,998.7 1073.06,997.76 1072.8,996.74 1072.47,995.63 1072.08,994.43 1071.62,993.15 1071.11,991.78 1070.53,990.34 1069.88,988.82 1069.18,987.23 1068.41,985.56 1067.59,983.83 1066.7,982.03 1065.76,980.16 1064.75,978.23 1063.68,976.25 1062.56,974.21 1061.38,972.12 1060.15,969.99 1058.86,967.81 1057.51,965.58 1056.11,963.33 1054.66,961.03 1053.17,958.71 1051.62,956.36 1050.02,953.99 1048.38,951.6 1046.69,949.2 1044.96,946.78 1043.2,944.36 1041.39,941.94 1039.54,939.51 1037.67,937.1 1035.75,934.69 1033.81,932.29 1031.84,929.91 1029.85,927.55 1027.83,925.21 1025.79,922.9 1023.74,920.62 1021.67,918.38 1019.58,916.18 1017.49,914.02 1015.39,911.9 1013.29,909.83 1011.19,907.82 1009.09,905.86 1007,903.96 1004.91,902.12 1002.84,900.35 1000.79,898.64 998.75,897.01 996.73,895.44 994.74,893.96 992.78,892.55 990.86,891.22 988.96,889.97 987.11,888.8 985.3,887.73 983.53,886.74 981.82,885.83 980.15,885.02 978.55,884.3 977,883.67 975.51,883.14 974.08,882.7 972.73,882.36 971.44,882.11 970.23,881.96 969.09,881.91 968.04,881.95 967.06,882.09 966.17,882.32 965.36,882.65 964.64,883.07 964.01,883.59 963.47,884.21 963.03,884.91 962.68,885.71 962.42,886.6 962.27,887.58 962.21,888.64 962.26,889.79 962.4,891.02 962.64,892.34 962.99,893.73 963.43,895.21 963.98,896.75 964.63,898.38 965.38,900.07 966.23,901.83 967.18,903.65 968.23,905.54 969.37,907.48 970.61,909.48 971.94,911.54 973.37,913.64 974.89,915.79 976.49,917.99 978.18,920.22 979.96,922.5 981.81,924.8 983.75,927.13 985.75,929.49 987.83,931.88 989.98,934.28 992.19,936.69 994.46,939.12 996.79,941.56 999.17,944 1001.6,946.44 1004.08,948.87 1006.59,951.3 1009.14,953.72 1011.73,956.13 1014.34,958.51 1016.97,960.88 1019.61,963.22 1022.28,965.53 1024.94,967.81 1027.61,970.05 1030.28,972.26 1032.94,974.42 1035.59,976.54 1038.22,978.61 1040.83,980.62 1043.42,982.59 1045.97,984.49 1048.48,986.34 1050.96,988.12 1053.38,989.84 1055.76,991.49 1058.08,993.07 1060.34,994.58 1062.54,996.01 1064.67,997.37 1066.73,998.64 1068.71,999.84 1070.61,1000.95 1072.43,1001.98 1074.16,1002.93 1075.81,1003.78 1077.35,1004.55 1078.81,1005.23 1080.16,1005.82 1081.41,1006.32 1082.56,1006.73 1083.6,1007.05 1084.54,1007.27 1085.36,1007.4 1086.08,1007.44 1086.68,1007.38 1087.17,1007.23 1087.54,1006.99 1087.8,1006.66 1087.95,1006.23 1087.97,1005.71 1087.89,1005.1 1087.68,1004.4 1087.36,1003.62 1086.93,1002.74 1086.38,1001.78 1085.72,1000.74 1084.95,999.61 1084.07,998.41 1083.08,997.12 1081.98,995.76 1080.78,994.33 1079.48,992.82 1078.08,991.25 1076.59,989.61 1075,987.9 1073.32,986.14 1071.55,984.32 1069.7,982.44 1067.77,980.51 1065.76,978.53 1063.68,976.51 1061.53,974.44 1059.32,972.34 1057.05,970.2 1054.72,968.02 1052.34,965.82 1049.91,963.6 1047.44,961.35 1044.94,959.09 1042.4,956.81 1039.83,954.52 1037.24,952.23 1034.63,949.93 1032.01,947.63 1029.38,945.34 1026.74,943.05 1024.11,940.77 1021.48,938.51 1018.86,936.27 1016.25,934.05 1013.67,931.86 1011.1,929.69 1008.57,927.55 1006.07,925.46 1003.61,923.39 1001.19,921.37 998.81,919.4 996.49,917.47 994.21,915.59 992,913.77 989.84,912 987.75,910.29 985.73,908.64 983.78,907.06 981.9,905.53 980.1,904.08 978.38,902.7 976.74,901.39 975.18,900.15 973.71,898.99 972.33,897.9 971.04,896.89 969.84,895.96 968.74,895.11 967.73,894.35 966.81,893.66 965.99,893.06 965.27,892.55 964.64,892.11 964.12,891.77 963.69,891.51 963.36,891.33 963.13,891.24 962.99,891.23 962.96,891.31 963.01,891.48 963.17,891.73 963.42,892.06 963.76,892.47 964.19,892.97 964.71,893.55 965.33,894.2 966.02,894.94 966.81,895.75 967.67,896.64 968.62,897.6 969.65,898.64 970.75,899.74 971.92,900.92 973.17,902.16 974.48,903.46 975.86,904.83 977.3,906.26 978.81,907.75 980.37,909.29 981.98,910.89 983.64,912.54 985.35,914.23 987.11,915.97 988.91,917.75 990.75,919.58 992.62,921.44 994.52,923.33 996.46,925.26 998.41,927.21 1000.39,929.19 1002.39,931.2 1004.41,933.22 1006.44,935.26 1008.48,937.31 1010.52,939.37 1012.57,941.44 1014.62,943.51 1016.67,945.59 1018.71,947.66 1020.75,949.73 1022.77,951.79 1024.78,953.84 1026.77,955.87 1028.75,957.89 1030.7,959.89 1032.63,961.86 1034.53,963.81 1036.4,965.73 1038.25,967.62 1040.06,969.48 1041.83,971.29 1043.57,973.07 1045.26,974.81 1046.92,976.5 1048.53,978.15 1050.1,979.75 1051.62,981.29 1053.1,982.79 1054.52,984.22 1055.89,985.6 1057.21,986.92 1058.48,988.18 1059.69,989.37 1060.85,990.5 1061.95,991.56 1062.99,992.55 1063.97,993.48 1064.89,994.33 1065.75,995.11 1066.55,995.82 1067.29,996.45 1067.96,997.01 1068.58,997.49 1069.13,997.89 1069.61,998.22 1070.03,998.47 1070.39,998.64 1070.68,998.73 1070.9,998.75 1071.06,998.68 1071.14,998.54 1071.15,998.31 1071.08,998 1070.94,997.61 1070.72,997.15 1070.43,996.6 1070.06,995.98 1069.63,995.28 1069.12,994.51 1068.54,993.66 1067.88,992.74 1067.16,991.74 1066.37,990.68 1065.5,989.55 1064.58,988.35 1063.58,987.08 1062.52,985.76 1061.4,984.37 1060.21,982.93 1058.96,981.43 1057.65,979.87 1056.29,978.26 1054.86,976.61 1053.39,974.91 1051.86,973.16 1050.28,971.38 1048.64,969.55 1046.96,967.69 1045.24,965.8 1043.47,963.88 1041.66,961.94 1039.81,959.97 1037.93,957.98 1036.01,955.97 1034.06,953.95 1032.07,951.92 1030.06,949.88 1028.02,947.84 1025.96,945.8 1023.88,943.76 1021.79,941.73 1019.67,939.7 1017.54,937.68 1015.41,935.69 1013.26,933.7 1011.11,931.75 1008.96,929.81 1006.81,927.9 1004.66,926.02 1002.52,924.18 1000.38,922.37 998.26,920.6 996.15,918.88 994.06,917.19 991.98,915.56 989.93,913.97 987.9,912.44 985.9,910.96 983.93,909.54 981.99,908.17 980.08,906.87 978.22,905.63 976.39,904.45 974.61,903.35 972.86,902.31 971.17,901.34 969.53,900.44 967.93,899.61 966.39,898.86 964.91,898.18 963.48,897.58 962.12,897.06 960.81,896.61 959.57,896.25 958.39,895.96 957.29,895.75 956.24,895.62 955.27,895.57 954.37,895.6 953.54,895.71 952.79,895.9 952.11,896.17 951.51,896.51 950.98,896.94 950.53,897.44 950.16,898.01 949.86,898.67 949.65,899.39 949.51,900.19 949.45,901.07 949.48,902.01 949.58,903.02 949.76,904.1 950.02,905.24 950.35,906.44 950.77,907.71 951.26,909.04 951.82,910.42 952.46,911.86 953.18,913.36 953.97,914.9 954.83,916.49 955.75,918.13 956.75,919.81 957.81,921.53 958.94,923.29 960.13,925.08 961.38,926.9 962.69,928.76 964.06,930.64 965.48,932.54 966.95,934.46 968.47,936.4 970.03,938.36 971.64,940.32 973.29,942.3 974.98,944.28 976.7,946.26 978.46,948.24 980.24,950.22 982.04,952.19 983.87,954.15 985.72,956.1 987.59,958.03 989.46,959.94 991.35,961.83 993.24,963.69 995.13,965.53 997.02,967.34 998.91,969.11 1000.79,970.85 1002.66,972.55 1004.51,974.21 1006.34,975.82 1008.15,977.39 1009.94,978.91 1011.7,980.38 1013.43,981.8 1015.12,983.16 1016.77,984.46 1018.39,985.71 1019.96,986.89 1021.48,988.01 1022.95,989.07 1024.37,990.06 1025.74,990.99 1027.05,991.84 1028.3,992.63 1029.48,993.34 1030.6,993.99 1031.66,994.55 1032.65,995.05 1033.56,995.47 1034.41,995.82 1035.18,996.09 1035.87,996.28 1036.49,996.4 1037.04,996.44 1037.5,996.4 1037.88,996.29 1038.18,996.11 1038.4,995.84 1038.54,995.51 1038.59,995.1 1038.57,994.61 1038.45,994.06 1038.26,993.43 1037.98,992.73 1037.61,991.96 1037.17,991.12 1036.64,990.21 1036.03,989.24 1035.34,988.2 1034.57,987.09 1033.72,985.93 1032.8,984.7 1031.79,983.42 1030.71,982.08 1029.56,980.68 1028.34,979.23 1027.04,977.73 1025.68,976.18 1024.24,974.59 1022.75,972.95 1021.19,971.27 1019.57,969.55 1017.89,967.79 1016.16,966 1014.37,964.17 1012.53,962.32 1010.65,960.44 1008.72,958.54 1006.75,956.61 1004.74,954.67 1002.69,952.71 1000.61,950.74 998.5,948.76 996.36,946.77 994.2,944.78 992.02,942.79 989.83,940.8 987.62,938.81 985.4,936.83 983.17,934.87 980.95,932.92 978.72,930.98 976.5,929.07 974.29,927.17 972.09,925.3 969.91,923.47 967.74,921.66 965.6,919.88 963.49,918.15 961.4,916.45 959.35,914.79 957.34,913.18 955.37,911.62 953.44,910.1 951.56,908.64 949.73,907.23 947.96,905.88 946.24,904.59 944.58,903.35 942.99,902.19 941.47,901.08 940.01,900.04 938.62,899.08 937.31,898.18 936.08,897.35 934.93,896.6 933.86,895.92 932.87,895.31 931.98,894.79 931.16,894.34 930.44,893.97 929.81,893.68 929.28,893.47 928.84,893.34 928.49,893.29 928.24,893.33 928.09,893.44 928.04,893.64 928.09,893.92 928.23,894.28 928.48,894.72 928.82,895.24 929.27,895.84 929.81,896.53 930.46,897.29 931.2,898.12 932.04,899.04 932.98,900.03 934.01,901.09 935.14,902.23 936.36,903.44 937.67,904.71 939.07,906.06 940.56,907.47 942.13,908.94 943.79,910.48 945.53,912.07 947.35,913.72 949.24,915.43 951.21,917.18 953.24,918.99 955.35,920.84 957.51,922.74 959.74,924.67 962.03,926.65 964.37,928.66 966.76,930.7 969.19,932.77 971.67,934.86 974.19,936.98 976.74,939.12 979.32,941.27 981.93,943.43 984.57,945.6 987.22,947.78 989.88,949.96 992.56,952.14 995.24,954.31 997.92,956.48 1000.6,958.63 1003.27,960.76 1005.93,962.88 1008.57,964.98 1011.2,967.05 1013.79,969.09 1016.37,971.09 1018.9,973.07 1021.4,975 1023.86,976.89 1026.28,978.74 1028.64,980.54 1030.96,982.28 1033.21,983.98 1035.41,985.61 1037.54,987.19 1039.61,988.71 1041.61,990.16 1043.53,991.54 1045.37,992.86 1047.14,994.1 1048.82,995.27 1050.42,996.36 1051.93,997.38 1053.35,998.32 1054.67,999.18 1055.9,999.96 1057.04,1000.65 1058.08,1001.26 1059.02,1001.78 1059.85,1002.22 1060.58,1002.57 1061.21,1002.83 1061.74,1003 1062.16,1003.09 1062.47,1003.09 1062.68,1003 1062.78,1002.82 1062.77,1002.56 1062.66,1002.21 1062.44,1001.77 1062.11,1001.25 1061.67,1000.65 1061.13,999.96 1060.49,999.19 1059.75,998.34 1058.9,997.41 1057.96,996.4 1056.92,995.31 1055.78,994.15 1054.55,992.91 1053.24,991.61 1051.83,990.23 1050.35,988.78 1048.78,987.27 1047.14,985.69 1045.42,984.05 1043.63,982.35 1041.77,980.6 1039.85,978.79 1037.88,976.93 1035.84,975.02 1033.76,973.06 1031.63,971.06 1029.46,969.02 1027.25,966.94 1025,964.82 1022.73,962.67 1020.43,960.5 1018.11,958.29 1015.77,956.07 1013.43,953.83 1011.07,951.57 1008.72,949.3 1006.36,947.01 1004.01,944.73 1001.68,942.43 999.36,940.14 997.05,937.86 994.77,935.58 992.52,933.31 990.3,931.06 988.11,928.82 985.97,926.6 983.86,924.41 981.8,922.24 979.79,920.11 977.84,918.01 975.94,915.94 974.1,913.92 972.32,911.94 970.6,910 968.95,908.12 967.37,906.28 965.87,904.51 964.43,902.78 963.07,901.12 961.79,899.52 960.59,897.99 959.46,896.52 958.42,895.13 957.46,893.81 956.58,892.56 955.78,891.39 955.07,890.29 954.44,889.28 953.89,888.35 953.43,887.5 953.05,886.74 952.76,886.06 952.55,885.47 952.42,884.97 952.37,884.56 952.4,884.24 952.51,884.01 952.69,883.87 952.95,883.83 953.29,883.87 953.7,884.01 954.18,884.24 954.73,884.57 955.35,884.98 956.03,885.49 956.78,886.08 957.59,886.77 958.45,887.55 959.37,888.41 960.35,889.37 961.38,890.4 962.45,891.53 963.57,892.73 964.74,894.02 965.95,895.38 967.19,896.82 968.47,898.34 969.79,899.93 971.13,901.59 972.5,903.32 973.9,905.12 975.32,906.97 976.76,908.89 978.22,910.86 979.69,912.89 981.18,914.97 982.67,917.09 984.18,919.26 985.69,921.47 987.2,923.72 988.71,926.01 990.22,928.32 991.73,930.66 993.23,933.02 994.73,935.4 996.21,937.8 997.68,940.21 999.15,942.63 1000.59,945.05 1002.02,947.47 1003.43,949.89 1004.82,952.3 1006.19,954.7 1007.54,957.08 1008.87,959.45 1010.17,961.79 1011.44,964.11 1012.69,966.39 1013.91,968.64 1015.1,970.85 1016.26,973.02 1017.39,975.15 1018.48,977.22 1019.55,979.25 1020.58,981.22 1021.58,983.13 1022.54,984.98 1023.47,986.76 1024.36,988.48 1025.22,990.12 1026.04,991.7 1026.82,993.19 1027.57,994.61 1028.28,995.95 1028.95,997.2 1029.59,998.37 1030.18,999.45 1030.74,1000.45 1031.26,1001.35 1031.74,1002.16 1032.18,1002.88 1032.58,1003.5 1032.94,1004.03 1033.27,1004.46 1033.55,1004.79 1033.79,1005.03 1033.99,1005.17 1034.16,1005.21 1034.28,1005.15 1034.35,1004.99 1034.38,1004.73 1034.37,1004.38 1034.32,1003.92 1034.22,1003.37 1034.08,1002.72 1033.9,1001.98 1033.67,1001.15 1033.41,1000.22 1033.1,999.2 1032.75,998.09 1032.36,996.89 1031.94,995.61 1031.47,994.24 1030.97,992.8 1030.43,991.27 1029.85,989.66 1029.25,987.98 1028.6,986.23 1027.93,984.41 1027.22,982.52 1026.48,980.57 1025.72,978.56 1024.93,976.49 1024.11,974.37 1023.26,972.2 1022.4,969.98 1021.51,967.72 1020.6,965.41 1019.67,963.07 1018.73,960.7 1017.77,958.3 1016.79,955.87 1015.81,953.42 1014.81,950.96 1013.8,948.48 1012.78,945.99 1011.76,943.49 1010.73,940.99 1009.7,938.49 1008.67,936 1007.64,933.52 1006.61,931.05 1005.59,928.6 1004.57,926.17 1003.55,923.76 1002.55,921.39 1001.55,919.04 1000.57,916.73 999.6,914.46 998.64,912.23 997.7,910.05 996.78,907.92 995.88,905.84 994.99,903.81 994.13,901.85 993.29,899.94 992.48,898.11 991.69,896.34 990.92,894.64 990.19,893.01 989.48,891.46 988.81,889.98 988.16,888.59 987.55,887.28 986.97,886.05 986.43,884.91 985.92,883.85 985.44,882.89 985,882.01 984.6,881.23 984.24,880.54 983.91,879.94 983.63,879.44 983.38,879.03 983.18,878.72 983.01,878.5 982.89,878.38 982.8,878.36 982.76,878.43 982.76,878.6 982.8,878.87 982.88,879.23 983.01,879.68 983.17,880.23 983.38,880.87 983.63,881.6 983.92,882.43 984.25,883.34 984.62,884.34 985.03,885.43 985.48,886.6 985.96,887.85 986.49,889.18 987.06,890.59 987.66,892.08 988.3,893.64 988.97,895.27 989.69,896.97 990.43,898.73 991.21,900.56 992.02,902.45 992.86,904.39 993.73,906.39 994.63,908.44 995.56,910.54 996.52,912.68 997.5,914.86 998.5,917.08 999.53,919.34 1000.58,921.62 1001.65,923.93 1002.74,926.27 1003.85,928.63 1004.98,931 1006.12,933.38 1007.27,935.78 1008.43,938.18 1009.61,940.58 1010.79,942.97 1011.98,945.37 1013.18,947.75 1014.38,950.12 1015.58,952.48 1016.78,954.81 1017.98,957.12 1019.18,959.4 1020.38,961.65 1021.57,963.87 1022.75,966.05 1023.92,968.19 1025.08,970.28 1026.23,972.33 1027.36,974.33 1028.48,976.27 1029.58,978.16 1030.66,979.99 1031.73,981.75 1032.77,983.46 1033.78,985.09 1034.77,986.65 1035.74,988.15 1036.67,989.57 1037.58,990.91 1038.46,992.17 1039.3,993.35 1040.12,994.46 1040.89,995.47 1041.63,996.41 1042.34,997.25 1043,998.01 1043.63,998.68 1044.22,999.26 1044.77,999.74 1045.27,1000.14 1045.73,1000.44 1046.15,1000.65 1046.52,1000.77 1046.85,1000.8 1047.14,1000.73 1047.38,1000.57 1047.57,1000.31 1047.72,999.96 1047.82,999.52 1047.88,998.99 1047.89,998.37 1047.86,997.65 1047.78,996.85 1047.66,995.96 1047.5,994.99 1047.28,993.93 1047.03,992.79 1046.73,991.57 1046.39,990.27 1046.01,988.9 1045.58,987.45 1045.12,985.93 1044.61,984.34 1044.07,982.69 1043.48,980.97 1042.86,979.19 1042.2,977.36 1041.51,975.47 1040.78,973.53 1040.01,971.54 1039.21,969.51 1038.39,967.44 1037.53,965.33 1036.64,963.18 1035.72,961.01 1034.78,958.81 1033.81,956.58 1032.81,954.34 1031.8,952.08 1030.76,949.81 1029.7,947.53 1028.62,945.25 1027.53,942.96 1026.41,940.68 1025.29,938.41 1024.15,936.15 1023,933.9 1021.83,931.67 1020.66,929.46 1019.49,927.28 1018.3,925.12 1017.11,923 1015.92,920.92 1014.73,918.87 1013.54,916.87 1012.35,914.91 1011.17,913 1009.99,911.14 1008.81,909.34 1007.65,907.59 1006.49,905.91 1005.34,904.29 1004.21,902.73 1003.09,901.24 1001.99,899.83 1000.9,898.48 999.83,897.21 998.78,896.01 997.75,894.9 996.74,893.86 995.76,892.91 994.8,892.03 993.87,891.25 992.97,890.54 992.09,889.93 991.25,889.4 990.43,888.95 989.65,888.6 988.9,888.33 988.18,888.16 987.5,888.07 986.86,888.07 986.25,888.16 985.68,888.34 985.15,888.6 984.66,888.95 984.21,889.39 983.8,889.92 983.43,890.53 983.1,891.22 982.82,892 982.57,892.86 982.38,893.8 982.22,894.81 982.11,895.9 982.04,897.07 982.02,898.31 982.04,899.62 982.11,900.99 982.22,902.44 982.38,903.94 982.58,905.51 982.82,907.14 983.11,908.83 983.45,910.56 983.82,912.35 984.24,914.19 984.7,916.07 985.2,918 985.75,919.96 986.33,921.96 986.95,923.99 987.61,926.06 988.31,928.15 989.05,930.26 989.82,932.4 990.63,934.55 991.47,936.72 992.35,938.9 993.25,941.09 994.19,943.28 995.15,945.47 996.14,947.67 997.16,949.85 998.2,952.03 999.26,954.2 1000.35,956.35 1001.45,958.49 1002.57,960.61 1003.71,962.7 1004.87,964.76 1006.03,966.8 1007.21,968.81 1008.39,970.77 1009.59,972.71 1010.79,974.6 1011.99,976.44 1013.19,978.25 1014.4,980 1015.6,981.7 1016.8,983.35 1017.99,984.95 1019.17,986.48 1020.34,987.96 1021.5,989.37 1022.65,990.73 1023.78,992.01 1024.9,993.23 1025.99,994.38 1027.07,995.46 1028.12,996.47 1029.15,997.4 1030.15,998.27 1031.12,999.05 1032.06,999.76 1032.97,1000.39 1033.85,1000.94 1034.69,1001.41 1035.49,1001.81 1036.26,1002.12 1036.99,1002.35 1037.68,1002.51 1038.33,1002.58 1038.94,1002.57 1039.5,1002.48 1040.02,1002.31 1040.5,1002.05 1040.93,1001.72 1041.32,1001.31 1041.66,1000.82 1041.96,1000.26 1042.2,999.61 1042.4,998.89 1042.54,998.09 1042.64,997.22 1042.68,996.27 1042.66,995.26 1042.6,994.17 1042.47,993.01 1042.29,991.78 1042.06,990.49 1041.76,989.13 1041.41,987.71 1041,986.23 1040.53,984.69 1039.99,983.1 1039.4,981.45 1038.75,979.74 1038.04,977.99 1037.27,976.19 1036.43,974.34 1035.54,972.45 1034.58,970.53 1033.57,968.56 1032.5,966.56 1031.36,964.52 1030.17,962.46 1028.93,960.37 1027.62,958.26 1026.26,956.13 1024.85,953.98 1023.38,951.81 1021.86,949.64 1020.3,947.46 1018.68,945.27 1017.02,943.08 1015.32,940.89 1013.57,938.7 1011.79,936.53 1009.96,934.36 1008.11,932.21 1006.22,930.07 1004.3,927.96 1002.35,925.87 1000.39,923.8 998.4,921.77 996.39,919.77 994.37,917.8 992.35,915.88 990.31,913.99 988.27,912.15 986.23,910.36 984.2,908.62 982.17,906.93 980.15,905.3 978.15,903.72 976.17,902.21 974.21,900.76 972.28,899.37 970.38,898.06 968.51,896.81 966.68,895.64 964.9,894.54 963.16,893.51 961.47,892.57 959.83,891.7 958.26,890.91 956.74,890.21 955.29,889.59 953.9,889.06 952.59,888.61 951.35,888.25 950.19,887.98 949.11,887.79 948.11,887.7 947.2,887.69 946.38,887.77 945.65,887.95 945.01,888.21 944.47,888.56 944.03,889 943.68,889.54 943.44,890.15 943.29,890.86 943.25,891.65 943.32,892.53 943.48,893.49 943.76,894.54 944.14,895.67 944.62,896.87 945.21,898.16 945.9,899.52 946.7,900.96 947.6,902.47 948.6,904.05 949.7,905.69 950.9,907.41 952.2,909.18 953.59,911.02 955.08,912.91 956.65,914.85 958.32,916.85 960.07,918.9 961.9,920.99 963.81,923.12 965.79,925.29 967.85,927.5 969.97,929.73 972.16,932 974.4,934.29 976.71,936.59 979.06,938.92 981.46,941.26 983.9,943.6 986.38,945.96 988.89,948.31 991.43,950.66 993.99,953 996.57,955.34 999.16,957.66 1001.75,959.96 1004.35,962.24 1006.95,964.49 1009.53,966.72 1012.1,968.91 1014.65,971.06 1017.18,973.18 1019.68,975.25 1022.14,977.27 1024.57,979.24 1026.94,981.15 1029.27,983.01 1031.55,984.81 1033.77,986.54 1035.92,988.21 1038.01,989.81 1040.02,991.33 1041.96,992.78 1043.82,994.15 1045.59,995.44 1047.28,996.65 1048.88,997.77 1050.38,998.81 1051.79,999.76 1053.1,1000.61 1054.31,1001.38 1055.41,1002.06 1056.41,1002.64 1057.3,1003.12 1058.08,1003.51 1058.75,1003.81 1059.31,1004 1059.75,1004.1" fill="none" stroke="#000080" stroke-width="1.1" stroke-linejoin="round" stroke-linecap="round" />
<line x1="937.72" y1="1024.5" x2="937.72" y2="1028" stroke="#333" stroke-width="1.3" />
<line x1="1005.4" y1="1024.5" x2="1005.4" y2="1028" stroke="#333" stroke-width="1.3" />
<line x1="1073.08" y1="1024.5" x2="1073.08" y2="1028" stroke="#333" stroke-width="1.3" />
<line x1="903.88" y1="1024.5" x2="903.88" y2="1026.5" stroke="#333" stroke-width="1.3" />
<line x1="971.56" y1="1024.5" x2="971.56" y2="1026.5" stroke="#333" stroke-width="1.3" />
<line x1="1039.24" y1="1024.5" x2="1039.24" y2="1026.5" stroke="#333" stroke-width="1.3" />
<line x1="1106.92" y1="1024.5" x2="1106.92" y2="1026.5" stroke="#333" stroke-width="1.3" />
<line x1="899.3" y1="997.44" x2="902.8" y2="997.44" stroke="#333" stroke-width="1.3" />
<line x1="899.3" y1="944.1" x2="902.8" y2="944.1" stroke="#333" stroke-width="1.3" />
<line x1="899.3" y1="890.76" x2="902.8" y2="890.76" stroke="#333" stroke-width="1.3" />
<line x1="900.8" y1="970.77" x2="902.8" y2="970.77" stroke="#333" stroke-width="1.3" />
<line x1="900.8" y1="917.43" x2="902.8" y2="917.43" stroke="#333" stroke-width="1.3" />
<text x="937.72" y="1043.8" font-size="18" font-family="Liberation Sans" text-anchor="middle" fill="#000" >-0.3</text>
<text x="1005.4" y="1043.8" font-size="18" font-family="Liberation Sans" text-anchor="middle" fill="#000" >0.0</text>
<text x="1073.08" y="1043.8" font-size="18" font-family="Liberation Sans" text-anchor="middle" fill="#000" >0.3</text>
<text x="897.5" y="897.06" font-size="18" font-family="Liberation Sans" text-anchor="end" fill="#000" >0.6</text>
<text x="897.5" y="950.4" font-size="18" font-family="Liberation Sans" text-anchor="end" fill="#000" >0.0</text>
<text x="897.5" y="1003.74" font-size="18" font-family="Liberation Sans" text-anchor="end" fill="#000" >-0.6</text>
<text x="1005.9" y="1058.2" font-size="17.5" font-family="Liberation Sans" text-anchor="middle" fill="#000" >x</text>
<text transform="translate(865.5,944) rotate(-90)" font-size="17.5" font-family="Liberation Sans" text-anchor="middle">y</text>
<rect x="847.8" y="604.4" width="628" height="461.9" fill="none" stroke="#000" stroke-width="2" />
<line x1="938.9" y1="1066.3" x2="938.9" y2="1075.8" stroke="#000" stroke-width="2" />
<line x1="1104.1" y1="1066.3" x2="1104.1" y2="1075.8" stroke="#000" stroke-width="2" />
<line x1="1269.3" y1="1066.3" x2="1269.3" y2="1075.8" stroke="#000" stroke-width="2" />
<line x1="1434.5" y1="1066.3" x2="1434.5" y2="1075.8" stroke="#000" stroke-width="2" />
<line x1="856.3" y1="1066.3" x2="856.3" y2="1071.3" stroke="#000" stroke-width="2" />
<line x1="1021.5" y1="1066.3" x2="1021.5" y2="1071.3" stroke="#000" stroke-width="2" />
<line x1="1186.7" y1="1066.3" x2="1186.7" y2="1071.3" stroke="#000" stroke-width="2" />
<line x1="1351.9" y1="1066.3" x2="1351.9" y2="1071.3" stroke="#000" stroke-width="2" />
<line x1="838.3" y1="1034.7" x2="847.8" y2="1034.7" stroke="#000" stroke-width="2" />
<line x1="838.3" y1="913.7" x2="847.8" y2="913.7" stroke="#000" stroke-width="2" />
<line x1="838.3" y1="792.7" x2="847.8" y2="792.7" stroke="#000" stroke-width="2" />
<line x1="838.3" y1="671.7" x2="847.8" y2="671.7" stroke="#000" stroke-width="2" />
<line x1="842.8" y1="974.2" x2="847.8" y2="974.2" stroke="#000" stroke-width="2" />
<line x1="842.8" y1="853.2" x2="847.8" y2="853.2" stroke="#000" stroke-width="2" />
<line x1="842.8" y1="732.2" x2="847.8" y2="732.2" stroke="#000" stroke-width="2" />
<line x1="842.8" y1="611.2" x2="847.8" y2="611.2" stroke="#000" stroke-width="2" />
<text x="938.9" y="1103.5" font-size="28" font-family="Liberation Sans" text-anchor="middle" fill="#000" >-12</text>
<text x="1104.1" y="1103.5" font-size="28" font-family="Liberation Sans" text-anchor="middle" fill="#000" >-8</text>
<text x="1269.3" y="1103.5" font-size="28" font-family="Liberation Sans" text-anchor="middle" fill="#000" >-4</text>
<text x="1434.5" y="1103.5" font-size="28" font-family="Liberation Sans" text-anchor="middle" fill="#000" >0</text>
<text x="832.1" y="1043.4" font-size="28" font-family="Liberation Sans" text-anchor="end" fill="#000" >0</text>
<text x="832.1" y="922.4" font-size="28" font-family="Liberation Sans" text-anchor="end" fill="#000" >4</text>
<text x="832.1" y="801.4" font-size="28" font-family="Liberation Sans" text-anchor="end" fill="#000" >8</text>
<text x="832.1" y="680.4" font-size="28" font-family="Liberation Sans" text-anchor="end" fill="#000" >12</text>
<text x="750.5" y="649" font-size="56" font-family="Liberation Sans" text-anchor="start" fill="#000" >d</text>
<text transform="translate(784,846) rotate(-90)" font-size="38" font-family="Liberation Sans">y<tspan font-size="24" dy="13.3">c</tspan></text>
<text x="1151.5" y="1134.9" font-size="37" font-family="Liberation Sans">x<tspan font-size="23.5" dy="13.4">c</tspan></text>
<rect x="1290.7" y="612.7" width="176.9" height="138.2" fill="#fff" stroke="#000" stroke-width="2" />
<line x1="1300" y1="629.4" x2="1345" y2="629.4" stroke="#00ff00" stroke-width="2.2" />
<text x="1350.1" y="635.8" font-size="18.5" font-family="Liberation Sans">E<tspan class="s" font-size="11.84" dy="6.66">0</tspan><tspan dy="-6.66">=7.5</tspan></text>
<line x1="1300" y1="658.3" x2="1345" y2="658.3" stroke="#0000ff" stroke-width="2.2" />
<text x="1350.1" y="664.8" font-size="18.5" font-family="Liberation Sans">E<tspan class="s" font-size="11.84" dy="6.66">0</tspan><tspan dy="-6.66">=8.5</tspan></text>
<line x1="1300" y1="687.4" x2="1345" y2="687.4" stroke="#ff00ff" stroke-width="2.2" />
<text x="1350.1" y="693.5" font-size="18.5" font-family="Liberation Sans">E<tspan class="s" font-size="11.84" dy="6.66">0</tspan><tspan dy="-6.66">=9</tspan></text>
<line x1="1300" y1="716.4" x2="1345" y2="716.4" stroke="#000" stroke-width="2.2" stroke-dasharray="7.5,8"/>
<text x="1350.1" y="722.2" font-size="18.5" font-family="Liberation Sans">Idealized</text>
<line x1="1300" y1="739.5" x2="1345" y2="739.5" stroke="#000080" stroke-width="2.2" />
<text x="1350.1" y="745.5" font-size="18.5" font-family="Liberation Sans">Newton's law</text>
<defs><radialGradient id="spotB"><stop offset="0" stop-color="#ffffc0"/><stop offset="0.3" stop-color="#ffe020"/><stop offset="0.65" stop-color="#ff2a00"/><stop offset="1" stop-color="#ff0000" stop-opacity="0"/></radialGradient><radialGradient id="spotO"><stop offset="0" stop-color="#ffd040"/><stop offset="0.35" stop-color="#ff8000"/><stop offset="0.7" stop-color="#ff1000"/><stop offset="1" stop-color="#ff0000" stop-opacity="0"/></radialGradient><radialGradient id="spotY"><stop offset="0" stop-color="#ffff90"/><stop offset="0.45" stop-color="#ffc000"/><stop offset="1" stop-color="#ff2000" stop-opacity="0"/></radialGradient><radialGradient id="spotR"><stop offset="0" stop-color="#ff6000"/><stop offset="0.5" stop-color="#ff1000"/><stop offset="1" stop-color="#e00000" stop-opacity="0"/></radialGradient><radialGradient id="spotD"><stop offset="0" stop-color="#d80000"/><stop offset="1" stop-color="#800000" stop-opacity="0"/></radialGradient><radialGradient id="spotVD"><stop offset="0" stop-color="#700000"/><stop offset="1" stop-color="#300000" stop-opacity="0"/></radialGradient></defs>
<rect x="80.8" y="1196.4" width="178" height="176.7" fill="#0b0000" stroke="none" stroke-width="0" />
<rect x="308.6" y="1199.1" width="177.3" height="176.2" fill="#0b0000" stroke="none" stroke-width="0" />
<rect x="536.1" y="1195.9" width="180.1" height="179.7" fill="#0b0000" stroke="none" stroke-width="0" />
<rect x="82.3" y="1437.2" width="179.5" height="179.3" fill="#0b0000" stroke="none" stroke-width="0" />
<rect x="307.6" y="1437.2" width="178.3" height="178.6" fill="#0b0000" stroke="none" stroke-width="0" />
<rect x="539.5" y="1435.9" width="178.5" height="178.7" fill="#0b0000" stroke="none" stroke-width="0" />
<rect x="80.1" y="1676.9" width="179.2" height="181.4" fill="#0b0000" stroke="none" stroke-width="0" />
<rect x="309.7" y="1677.6" width="179.1" height="181.4" fill="#0b0000" stroke="none" stroke-width="0" />
<rect x="539.8" y="1678.4" width="178.2" height="181.3" fill="#0b0000" stroke="none" stroke-width="0" />
<line x1="181.4" y1="1197.4" x2="181.4" y2="1372.1" stroke="#e8e0d8" stroke-width="1" stroke-dasharray="1.2,2.2"/>
<line x1="81.8" y1="1297.5" x2="257.8" y2="1297.5" stroke="#e8e0d8" stroke-width="1" stroke-dasharray="1.2,2.2"/>
<line x1="408.9" y1="1200.1" x2="408.9" y2="1374.3" stroke="#e8e0d8" stroke-width="1" stroke-dasharray="1.2,2.2"/>
<line x1="309.6" y1="1299.3" x2="484.9" y2="1299.3" stroke="#e8e0d8" stroke-width="1" stroke-dasharray="1.2,2.2"/>
<line x1="638.4" y1="1196.9" x2="638.4" y2="1374.6" stroke="#e8e0d8" stroke-width="1" stroke-dasharray="1.2,2.2"/>
<line x1="537.1" y1="1298.2" x2="715.2" y2="1298.2" stroke="#e8e0d8" stroke-width="1" stroke-dasharray="1.2,2.2"/>
<line x1="194.4" y1="1438.2" x2="194.4" y2="1615.5" stroke="#e8e0d8" stroke-width="1" stroke-dasharray="1.2,2.2"/>
<line x1="83.3" y1="1549.2" x2="260.8" y2="1549.2" stroke="#e8e0d8" stroke-width="1" stroke-dasharray="1.2,2.2"/>
<line x1="419.2" y1="1438.2" x2="419.2" y2="1614.8" stroke="#e8e0d8" stroke-width="1" stroke-dasharray="1.2,2.2"/>
<line x1="308.6" y1="1549.2" x2="484.9" y2="1549.2" stroke="#e8e0d8" stroke-width="1" stroke-dasharray="1.2,2.2"/>
<line x1="652.3" y1="1436.9" x2="652.3" y2="1613.6" stroke="#e8e0d8" stroke-width="1" stroke-dasharray="1.2,2.2"/>
<line x1="540.5" y1="1547.2" x2="717" y2="1547.2" stroke="#e8e0d8" stroke-width="1" stroke-dasharray="1.2,2.2"/>
<line x1="191.7" y1="1677.9" x2="191.7" y2="1857.3" stroke="#e8e0d8" stroke-width="1" stroke-dasharray="1.2,2.2"/>
<line x1="81.1" y1="1790.3" x2="258.3" y2="1790.3" stroke="#e8e0d8" stroke-width="1" stroke-dasharray="1.2,2.2"/>
<line x1="422.2" y1="1678.6" x2="422.2" y2="1858" stroke="#e8e0d8" stroke-width="1" stroke-dasharray="1.2,2.2"/>
<line x1="310.7" y1="1790.7" x2="487.8" y2="1790.7" stroke="#e8e0d8" stroke-width="1" stroke-dasharray="1.2,2.2"/>
<line x1="650.8" y1="1679.4" x2="650.8" y2="1858.7" stroke="#e8e0d8" stroke-width="1" stroke-dasharray="1.2,2.2"/>
<line x1="540.8" y1="1792.5" x2="717" y2="1792.5" stroke="#e8e0d8" stroke-width="1" stroke-dasharray="1.2,2.2"/>
<rect x="85.2" y="1304.1" width="64.7" height="64.6" fill="none" stroke="#dcdcdc" stroke-width="2" />
<circle cx="117.6" cy="1336.4" r="6" fill="url(#spotB)"/>
<circle cx="181.4" cy="1297.5" r="1.7" fill="url(#spotD)"/>
<circle cx="364.89" cy="1264.3" r="2.1" fill="url(#spotR)"/>
<circle cx="373.7" cy="1264.3" r="2.1" fill="url(#spotR)"/>
<circle cx="400.72" cy="1264.3" r="2.1" fill="url(#spotR)"/>
<circle cx="427.31" cy="1264.3" r="2.1" fill="url(#spotR)"/>
<circle cx="436.12" cy="1264.3" r="2.1" fill="url(#spotR)"/>
<circle cx="382.81" cy="1264.3" r="1.5" fill="url(#spotVD)"/>
<circle cx="391.91" cy="1264.3" r="1.5" fill="url(#spotVD)"/>
<circle cx="409.24" cy="1264.3" r="1.5" fill="url(#spotVD)"/>
<circle cx="418.35" cy="1264.3" r="1.5" fill="url(#spotVD)"/>
<circle cx="445.22" cy="1264.3" r="1.5" fill="url(#spotVD)"/>
<circle cx="364.89" cy="1273.11" r="2.4" fill="url(#spotY)"/>
<circle cx="373.7" cy="1273.11" r="2.4" fill="url(#spotY)"/>
<circle cx="427.31" cy="1273.11" r="2.4" fill="url(#spotY)"/>
<circle cx="436.12" cy="1273.11" r="2.4" fill="url(#spotY)"/>
<circle cx="382.81" cy="1273.11" r="2.1" fill="url(#spotR)"/>
<circle cx="391.91" cy="1273.11" r="2.1" fill="url(#spotR)"/>
<circle cx="400.72" cy="1273.11" r="2.1" fill="url(#spotR)"/>
<circle cx="409.24" cy="1273.11" r="2.1" fill="url(#spotR)"/>
<circle cx="445.22" cy="1273.11" r="2.1" fill="url(#spotR)"/>
<circle cx="355.93" cy="1273.11" r="1.7" fill="url(#spotD)"/>
<circle cx="418.35" cy="1273.11" r="1.7" fill="url(#spotD)"/>
<circle cx="364.89" cy="1281.92" r="1.7" fill="url(#spotD)"/>
<circle cx="373.7" cy="1281.92" r="1.7" fill="url(#spotD)"/>
<circle cx="400.72" cy="1281.92" r="1.7" fill="url(#spotD)"/>
<circle cx="427.31" cy="1281.92" r="1.7" fill="url(#spotD)"/>
<circle cx="436.12" cy="1281.92" r="1.7" fill="url(#spotD)"/>
<circle cx="364.89" cy="1290.88" r="2.1" fill="url(#spotR)"/>
<circle cx="373.7" cy="1290.88" r="2.1" fill="url(#spotR)"/>
<circle cx="400.72" cy="1290.88" r="2.1" fill="url(#spotR)"/>
<circle cx="427.31" cy="1290.88" r="2.1" fill="url(#spotR)"/>
<circle cx="436.12" cy="1290.88" r="2.1" fill="url(#spotR)"/>
<circle cx="382.81" cy="1290.88" r="1.5" fill="url(#spotVD)"/>
<circle cx="391.91" cy="1290.88" r="1.5" fill="url(#spotVD)"/>
<circle cx="364.89" cy="1299.69" r="1.7" fill="url(#spotD)"/>
<circle cx="373.7" cy="1299.69" r="1.7" fill="url(#spotD)"/>
<circle cx="427.31" cy="1299.69" r="1.7" fill="url(#spotD)"/>
<circle cx="436.12" cy="1299.69" r="1.7" fill="url(#spotD)"/>
<circle cx="364.89" cy="1308.65" r="2.4" fill="url(#spotY)"/>
<circle cx="373.7" cy="1308.65" r="2.4" fill="url(#spotY)"/>
<circle cx="400.72" cy="1308.65" r="2.4" fill="url(#spotY)"/>
<circle cx="427.31" cy="1308.65" r="2.4" fill="url(#spotY)"/>
<circle cx="436.12" cy="1308.65" r="2.4" fill="url(#spotY)"/>
<circle cx="382.81" cy="1308.65" r="2.1" fill="url(#spotR)"/>
<circle cx="391.91" cy="1308.65" r="2.1" fill="url(#spotR)"/>
<circle cx="409.24" cy="1308.65" r="2.1" fill="url(#spotR)"/>
<circle cx="445.22" cy="1308.65" r="2.1" fill="url(#spotR)"/>
<circle cx="355.93" cy="1308.65" r="1.7" fill="url(#spotD)"/>
<circle cx="418.35" cy="1308.65" r="1.7" fill="url(#spotD)"/>
<circle cx="364.89" cy="1317.61" r="2.1" fill="url(#spotR)"/>
<circle cx="373.7" cy="1317.61" r="2.1" fill="url(#spotR)"/>
<circle cx="400.72" cy="1317.61" r="2.1" fill="url(#spotR)"/>
<circle cx="427.31" cy="1317.61" r="2.1" fill="url(#spotR)"/>
<circle cx="436.12" cy="1317.61" r="2.1" fill="url(#spotR)"/>
<circle cx="382.81" cy="1317.61" r="1.5" fill="url(#spotVD)"/>
<circle cx="391.91" cy="1317.61" r="1.5" fill="url(#spotVD)"/>
<circle cx="445.22" cy="1317.61" r="1.5" fill="url(#spotVD)"/>
<circle cx="373.7" cy="1255.64" r="1.5" fill="url(#spotVD)"/>
<circle cx="427.31" cy="1255.64" r="1.5" fill="url(#spotVD)"/>
<circle cx="373.7" cy="1326.42" r="1.5" fill="url(#spotVD)"/>
<circle cx="427.31" cy="1326.42" r="1.5" fill="url(#spotVD)"/>
<circle cx="548.27" cy="1217.45" r="1.5" fill="url(#spotVD)"/>
<circle cx="557.31" cy="1217.45" r="1.5" fill="url(#spotVD)"/>
<circle cx="584.45" cy="1217.45" r="1.5" fill="url(#spotVD)"/>
<circle cx="611.59" cy="1217.45" r="1.5" fill="url(#spotVD)"/>
<circle cx="683.97" cy="1217.45" r="1.5" fill="url(#spotVD)"/>
<circle cx="693.02" cy="1217.45" r="1.5" fill="url(#spotVD)"/>
<circle cx="539.22" cy="1226.5" r="1.7" fill="url(#spotD)"/>
<circle cx="548.27" cy="1226.5" r="2.1" fill="url(#spotR)"/>
<circle cx="557.31" cy="1226.5" r="2.1" fill="url(#spotR)"/>
<circle cx="566.36" cy="1226.5" r="1.7" fill="url(#spotD)"/>
<circle cx="584.45" cy="1226.5" r="2.1" fill="url(#spotR)"/>
<circle cx="593.5" cy="1226.5" r="1.7" fill="url(#spotD)"/>
<circle cx="611.59" cy="1226.5" r="2.1" fill="url(#spotR)"/>
<circle cx="629.69" cy="1226.5" r="2.1" fill="url(#spotR)"/>
<circle cx="647.78" cy="1226.5" r="1.7" fill="url(#spotD)"/>
<circle cx="656.83" cy="1226.5" r="2.1" fill="url(#spotR)"/>
<circle cx="683.97" cy="1226.5" r="2.1" fill="url(#spotR)"/>
<circle cx="693.02" cy="1226.5" r="2.1" fill="url(#spotR)"/>
<circle cx="702.06" cy="1226.5" r="1.7" fill="url(#spotD)"/>
<circle cx="539.22" cy="1235.54" r="2.1" fill="url(#spotR)"/>
<circle cx="548.27" cy="1235.54" r="2.4" fill="url(#spotY)"/>
<circle cx="557.31" cy="1235.54" r="2.4" fill="url(#spotY)"/>
<circle cx="566.36" cy="1235.54" r="2.1" fill="url(#spotR)"/>
<circle cx="584.45" cy="1235.54" r="2.1" fill="url(#spotR)"/>
<circle cx="593.5" cy="1235.54" r="2.1" fill="url(#spotR)"/>
<circle cx="602.55" cy="1235.54" r="1.7" fill="url(#spotD)"/>
<circle cx="611.59" cy="1235.54" r="2.1" fill="url(#spotR)"/>
<circle cx="629.69" cy="1235.54" r="2.1" fill="url(#spotR)"/>
<circle cx="647.78" cy="1235.54" r="2.1" fill="url(#spotR)"/>
<circle cx="656.83" cy="1235.54" r="2.1" fill="url(#spotR)"/>
<circle cx="674.92" cy="1235.54" r="2.1" fill="url(#spotR)"/>
<circle cx="683.97" cy="1235.54" r="3.0" fill="url(#spotO)"/>
<circle cx="693.02" cy="1235.54" r="2.4" fill="url(#spotY)"/>
<circle cx="702.06" cy="1235.54" r="2.1" fill="url(#spotR)"/>
<circle cx="711.11" cy="1235.54" r="1.7" fill="url(#spotD)"/>
<circle cx="539.22" cy="1244.59" r="2.1" fill="url(#spotR)"/>
<circle cx="548.27" cy="1244.59" r="2.1" fill="url(#spotR)"/>
<circle cx="557.31" cy="1244.59" r="2.1" fill="url(#spotR)"/>
<circle cx="566.36" cy="1244.59" r="1.7" fill="url(#spotD)"/>
<circle cx="584.45" cy="1244.59" r="2.1" fill="url(#spotR)"/>
<circle cx="593.5" cy="1244.59" r="1.7" fill="url(#spotD)"/>
<circle cx="611.59" cy="1244.59" r="2.1" fill="url(#spotR)"/>
<circle cx="629.69" cy="1244.59" r="2.1" fill="url(#spotR)"/>
<circle cx="647.78" cy="1244.59" r="1.7" fill="url(#spotD)"/>
<circle cx="656.83" cy="1244.59" r="2.1" fill="url(#spotR)"/>
<circle cx="674.92" cy="1244.59" r="1.7" fill="url(#spotD)"/>
<circle cx="683.97" cy="1244.59" r="2.1" fill="url(#spotR)"/>
<circle cx="693.02" cy="1244.59" r="2.1" fill="url(#spotR)"/>
<circle cx="702.06" cy="1244.59" r="2.1" fill="url(#spotR)"/>
<circle cx="539.22" cy="1262.68" r="2.1" fill="url(#spotR)"/>
<circle cx="548.27" cy="1262.68" r="2.1" fill="url(#spotR)"/>
<circle cx="557.31" cy="1262.68" r="2.1" fill="url(#spotR)"/>
<circle cx="566.36" cy="1262.68" r="1.7" fill="url(#spotD)"/>
<circle cx="584.45" cy="1262.68" r="2.1" fill="url(#spotR)"/>
<circle cx="593.5" cy="1262.68" r="1.7" fill="url(#spotD)"/>
<circle cx="611.59" cy="1262.68" r="2.1" fill="url(#spotR)"/>
<circle cx="629.69" cy="1262.68" r="2.1" fill="url(#spotR)"/>
<circle cx="647.78" cy="1262.68" r="1.7" fill="url(#spotD)"/>
<circle cx="656.83" cy="1262.68" r="2.1" fill="url(#spotR)"/>
<circle cx="674.92" cy="1262.68" r="1.7" fill="url(#spotD)"/>
<circle cx="683.97" cy="1262.68" r="2.1" fill="url(#spotR)"/>
<circle cx="693.02" cy="1262.68" r="2.1" fill="url(#spotR)"/>
<circle cx="702.06" cy="1262.68" r="2.1" fill="url(#spotR)"/>
<circle cx="548.27" cy="1271.73" r="1.7" fill="url(#spotD)"/>
<circle cx="557.31" cy="1271.73" r="1.7" fill="url(#spotD)"/>
<circle cx="584.45" cy="1271.73" r="1.5" fill="url(#spotVD)"/>
<circle cx="611.59" cy="1271.73" r="1.5" fill="url(#spotVD)"/>
<circle cx="629.69" cy="1271.73" r="1.5" fill="url(#spotVD)"/>
<circle cx="656.83" cy="1271.73" r="1.5" fill="url(#spotVD)"/>
<circle cx="683.97" cy="1271.73" r="1.7" fill="url(#spotD)"/>
<circle cx="693.02" cy="1271.73" r="1.7" fill="url(#spotD)"/>
<circle cx="548.27" cy="1280.78" r="2.1" fill="url(#spotR)"/>
<circle cx="557.31" cy="1280.78" r="2.1" fill="url(#spotR)"/>
<circle cx="584.45" cy="1280.78" r="1.7" fill="url(#spotD)"/>
<circle cx="593.5" cy="1280.78" r="1.7" fill="url(#spotD)"/>
<circle cx="611.59" cy="1280.78" r="1.7" fill="url(#spotD)"/>
<circle cx="629.69" cy="1280.78" r="1.7" fill="url(#spotD)"/>
<circle cx="647.78" cy="1280.78" r="1.7" fill="url(#spotD)"/>
<circle cx="656.83" cy="1280.78" r="1.7" fill="url(#spotD)"/>
<circle cx="683.97" cy="1280.78" r="2.1" fill="url(#spotR)"/>
<circle cx="693.02" cy="1280.78" r="2.1" fill="url(#spotR)"/>
<circle cx="702.06" cy="1280.78" r="1.7" fill="url(#spotD)"/>
<circle cx="548.27" cy="1289.83" r="1.7" fill="url(#spotD)"/>
<circle cx="557.31" cy="1289.83" r="1.7" fill="url(#spotD)"/>
<circle cx="584.45" cy="1289.83" r="1.5" fill="url(#spotVD)"/>
<circle cx="611.59" cy="1289.83" r="1.5" fill="url(#spotVD)"/>
<circle cx="629.69" cy="1289.83" r="1.5" fill="url(#spotVD)"/>
<circle cx="656.83" cy="1289.83" r="1.5" fill="url(#spotVD)"/>
<circle cx="683.97" cy="1289.83" r="1.7" fill="url(#spotD)"/>
<circle cx="693.02" cy="1289.83" r="1.7" fill="url(#spotD)"/>
<circle cx="539.22" cy="1298.87" r="1.7" fill="url(#spotD)"/>
<circle cx="548.27" cy="1298.87" r="2.1" fill="url(#spotR)"/>
<circle cx="557.31" cy="1298.87" r="2.1" fill="url(#spotR)"/>
<circle cx="566.36" cy="1298.87" r="1.7" fill="url(#spotD)"/>
<circle cx="584.45" cy="1298.87" r="2.1" fill="url(#spotR)"/>
<circle cx="593.5" cy="1298.87" r="1.7" fill="url(#spotD)"/>
<circle cx="611.59" cy="1298.87" r="2.1" fill="url(#spotR)"/>
<circle cx="629.69" cy="1298.87" r="2.1" fill="url(#spotR)"/>
<circle cx="647.78" cy="1298.87" r="1.7" fill="url(#spotD)"/>
<circle cx="656.83" cy="1298.87" r="2.1" fill="url(#spotR)"/>
<circle cx="683.97" cy="1298.87" r="2.1" fill="url(#spotR)"/>
<circle cx="693.02" cy="1298.87" r="2.1" fill="url(#spotR)"/>
<circle cx="702.06" cy="1298.87" r="1.7" fill="url(#spotD)"/>
<circle cx="539.22" cy="1316.97" r="2.1" fill="url(#spotR)"/>
<circle cx="548.27" cy="1316.97" r="2.1" fill="url(#spotR)"/>
<circle cx="557.31" cy="1316.97" r="2.1" fill="url(#spotR)"/>
<circle cx="566.36" cy="1316.97" r="1.7" fill="url(#spotD)"/>
<circle cx="584.45" cy="1316.97" r="2.1" fill="url(#spotR)"/>
<circle cx="593.5" cy="1316.97" r="1.7" fill="url(#spotD)"/>
<circle cx="611.59" cy="1316.97" r="2.1" fill="url(#spotR)"/>
<circle cx="629.69" cy="1316.97" r="2.1" fill="url(#spotR)"/>
<circle cx="647.78" cy="1316.97" r="1.7" fill="url(#spotD)"/>
<circle cx="656.83" cy="1316.97" r="2.1" fill="url(#spotR)"/>
<circle cx="674.92" cy="1316.97" r="1.7" fill="url(#spotD)"/>
<circle cx="683.97" cy="1316.97" r="2.1" fill="url(#spotR)"/>
<circle cx="693.02" cy="1316.97" r="2.1" fill="url(#spotR)"/>
<circle cx="702.06" cy="1316.97" r="2.1" fill="url(#spotR)"/>
<circle cx="539.22" cy="1326.01" r="2.1" fill="url(#spotR)"/>
<circle cx="548.27" cy="1326.01" r="2.4" fill="url(#spotY)"/>
<circle cx="557.31" cy="1326.01" r="2.4" fill="url(#spotY)"/>
<circle cx="566.36" cy="1326.01" r="2.1" fill="url(#spotR)"/>
<circle cx="584.45" cy="1326.01" r="2.1" fill="url(#spotR)"/>
<circle cx="593.5" cy="1326.01" r="2.1" fill="url(#spotR)"/>
<circle cx="602.55" cy="1326.01" r="1.7" fill="url(#spotD)"/>
<circle cx="611.59" cy="1326.01" r="2.1" fill="url(#spotR)"/>
<circle cx="629.69" cy="1326.01" r="2.1" fill="url(#spotR)"/>
<circle cx="647.78" cy="1326.01" r="2.1" fill="url(#spotR)"/>
<circle cx="656.83" cy="1326.01" r="2.1" fill="url(#spotR)"/>
<circle cx="674.92" cy="1326.01" r="2.1" fill="url(#spotR)"/>
<circle cx="683.97" cy="1326.01" r="3.0" fill="url(#spotO)"/>
<circle cx="693.02" cy="1326.01" r="2.4" fill="url(#spotY)"/>
<circle cx="702.06" cy="1326.01" r="2.1" fill="url(#spotR)"/>
<circle cx="711.11" cy="1326.01" r="1.7" fill="url(#spotD)"/>
<circle cx="539.22" cy="1335.06" r="1.7" fill="url(#spotD)"/>
<circle cx="548.27" cy="1335.06" r="2.1" fill="url(#spotR)"/>
<circle cx="557.31" cy="1335.06" r="2.1" fill="url(#spotR)"/>
<circle cx="566.36" cy="1335.06" r="1.7" fill="url(#spotD)"/>
<circle cx="584.45" cy="1335.06" r="2.1" fill="url(#spotR)"/>
<circle cx="593.5" cy="1335.06" r="1.7" fill="url(#spotD)"/>
<circle cx="611.59" cy="1335.06" r="2.1" fill="url(#spotR)"/>
<circle cx="629.69" cy="1335.06" r="2.1" fill="url(#spotR)"/>
<circle cx="647.78" cy="1335.06" r="1.7" fill="url(#spotD)"/>
<circle cx="656.83" cy="1335.06" r="2.1" fill="url(#spotR)"/>
<circle cx="683.97" cy="1335.06" r="2.1" fill="url(#spotR)"/>
<circle cx="693.02" cy="1335.06" r="2.1" fill="url(#spotR)"/>
<circle cx="702.06" cy="1335.06" r="1.7" fill="url(#spotD)"/>
<circle cx="548.27" cy="1344.11" r="1.5" fill="url(#spotVD)"/>
<circle cx="557.31" cy="1344.11" r="1.5" fill="url(#spotVD)"/>
<circle cx="584.45" cy="1344.11" r="1.5" fill="url(#spotVD)"/>
<circle cx="611.59" cy="1344.11" r="1.5" fill="url(#spotVD)"/>
<circle cx="683.97" cy="1344.11" r="1.5" fill="url(#spotVD)"/>
<circle cx="693.02" cy="1344.11" r="1.5" fill="url(#spotVD)"/>
<circle cx="194.4" cy="1549.2" r="2.4" fill="url(#spotY)"/>
<circle cx="371.8" cy="1486.1" r="2.1" fill="url(#spotR)"/>
<circle cx="387.7" cy="1486.1" r="2.1" fill="url(#spotR)"/>
<circle cx="419.2" cy="1486.1" r="2.1" fill="url(#spotR)"/>
<circle cx="434.9" cy="1486.1" r="2.1" fill="url(#spotR)"/>
<circle cx="355.9" cy="1502" r="2.1" fill="url(#spotR)"/>
<circle cx="371.8" cy="1502" r="3.2" fill="url(#spotB)"/>
<circle cx="387.7" cy="1502" r="3.0" fill="url(#spotO)"/>
<circle cx="419.2" cy="1502" r="3.2" fill="url(#spotB)"/>
<circle cx="434.9" cy="1502" r="3.0" fill="url(#spotO)"/>
<circle cx="450.7" cy="1502" r="2.1" fill="url(#spotR)"/>
<circle cx="355.9" cy="1517.7" r="2.1" fill="url(#spotR)"/>
<circle cx="371.8" cy="1517.7" r="3.0" fill="url(#spotO)"/>
<circle cx="387.7" cy="1517.7" r="3.2" fill="url(#spotB)"/>
<circle cx="419.2" cy="1517.7" r="3.0" fill="url(#spotO)"/>
<circle cx="434.9" cy="1517.7" r="3.2" fill="url(#spotB)"/>
<circle cx="450.7" cy="1517.7" r="2.1" fill="url(#spotR)"/>
<circle cx="355.9" cy="1549.2" r="2.1" fill="url(#spotR)"/>
<circle cx="371.8" cy="1549.2" r="3.2" fill="url(#spotB)"/>
<circle cx="387.7" cy="1549.2" r="3.0" fill="url(#spotO)"/>
<circle cx="419.2" cy="1549.2" r="3.2" fill="url(#spotB)"/>
<circle cx="434.9" cy="1549.2" r="3.0" fill="url(#spotO)"/>
<circle cx="450.7" cy="1549.2" r="2.1" fill="url(#spotR)"/>
<circle cx="355.9" cy="1565.1" r="2.1" fill="url(#spotR)"/>
<circle cx="371.8" cy="1565.1" r="3.0" fill="url(#spotO)"/>
<circle cx="387.7" cy="1565.1" r="3.2" fill="url(#spotB)"/>
<circle cx="419.2" cy="1565.1" r="3.0" fill="url(#spotO)"/>
<circle cx="434.9" cy="1565.1" r="3.2" fill="url(#spotB)"/>
<circle cx="450.7" cy="1565.1" r="2.1" fill="url(#spotR)"/>
<circle cx="371.8" cy="1580.8" r="2.1" fill="url(#spotR)"/>
<circle cx="387.7" cy="1580.8" r="2.1" fill="url(#spotR)"/>
<circle cx="419.2" cy="1580.8" r="2.1" fill="url(#spotR)"/>
<circle cx="434.9" cy="1580.8" r="2.1" fill="url(#spotR)"/>
<circle cx="556.4" cy="1453" r="3.2" fill="url(#spotB)"/>
<circle cx="572.3" cy="1453" r="2.1" fill="url(#spotR)"/>
<circle cx="603.7" cy="1453" r="2.1" fill="url(#spotR)"/>
<circle cx="635.1" cy="1453" r="2.1" fill="url(#spotR)"/>
<circle cx="666.5" cy="1453" r="2.1" fill="url(#spotR)"/>
<circle cx="682.4" cy="1453" r="2.1" fill="url(#spotR)"/>
<circle cx="698.3" cy="1453" r="2.1" fill="url(#spotR)"/>
<circle cx="556.4" cy="1468.8" r="2.1" fill="url(#spotR)"/>
<circle cx="572.3" cy="1468.8" r="2.1" fill="url(#spotR)"/>
<circle cx="603.7" cy="1468.8" r="1.7" fill="url(#spotD)"/>
<circle cx="635.1" cy="1468.8" r="1.7" fill="url(#spotD)"/>
<circle cx="666.5" cy="1468.8" r="1.7" fill="url(#spotD)"/>
<circle cx="682.4" cy="1468.8" r="2.1" fill="url(#spotR)"/>
<circle cx="698.3" cy="1468.8" r="1.7" fill="url(#spotD)"/>
<circle cx="556.4" cy="1500.3" r="2.1" fill="url(#spotR)"/>
<circle cx="572.3" cy="1500.3" r="2.1" fill="url(#spotR)"/>
<circle cx="603.7" cy="1500.3" r="1.7" fill="url(#spotD)"/>
<circle cx="635.1" cy="1500.3" r="1.7" fill="url(#spotD)"/>
<circle cx="666.5" cy="1500.3" r="1.7" fill="url(#spotD)"/>
<circle cx="682.4" cy="1500.3" r="2.1" fill="url(#spotR)"/>
<circle cx="698.3" cy="1500.3" r="1.7" fill="url(#spotD)"/>
<circle cx="556.4" cy="1516.2" r="2.1" fill="url(#spotR)"/>
<circle cx="572.3" cy="1516.2" r="1.5" fill="url(#spotVD)"/>
<circle cx="603.7" cy="1516.2" r="1.5" fill="url(#spotVD)"/>
<circle cx="635.1" cy="1516.2" r="1.5" fill="url(#spotVD)"/>
<circle cx="666.5" cy="1516.2" r="1.5" fill="url(#spotVD)"/>
<circle cx="682.4" cy="1516.2" r="1.5" fill="url(#spotVD)"/>
<circle cx="698.3" cy="1516.2" r="1.5" fill="url(#spotVD)"/>
<circle cx="556.4" cy="1531.9" r="2.1" fill="url(#spotR)"/>
<circle cx="572.3" cy="1531.9" r="2.1" fill="url(#spotR)"/>
<circle cx="603.7" cy="1531.9" r="1.7" fill="url(#spotD)"/>
<circle cx="635.1" cy="1531.9" r="1.7" fill="url(#spotD)"/>
<circle cx="666.5" cy="1531.9" r="1.7" fill="url(#spotD)"/>
<circle cx="682.4" cy="1531.9" r="2.1" fill="url(#spotR)"/>
<circle cx="698.3" cy="1531.9" r="1.7" fill="url(#spotD)"/>
<circle cx="556.4" cy="1563.2" r="3.2" fill="url(#spotB)"/>
<circle cx="572.3" cy="1563.2" r="2.1" fill="url(#spotR)"/>
<circle cx="603.7" cy="1563.2" r="2.1" fill="url(#spotR)"/>
<circle cx="635.1" cy="1563.2" r="2.1" fill="url(#spotR)"/>
<circle cx="666.5" cy="1563.2" r="2.1" fill="url(#spotR)"/>
<circle cx="682.4" cy="1563.2" r="2.1" fill="url(#spotR)"/>
<circle cx="698.3" cy="1563.2" r="2.1" fill="url(#spotR)"/>
<circle cx="556.4" cy="1579.1" r="3.2" fill="url(#spotB)"/>
<circle cx="572.3" cy="1579.1" r="2.1" fill="url(#spotR)"/>
<circle cx="603.7" cy="1579.1" r="2.1" fill="url(#spotR)"/>
<circle cx="635.1" cy="1579.1" r="2.1" fill="url(#spotR)"/>
<circle cx="666.5" cy="1579.1" r="2.1" fill="url(#spotR)"/>
<circle cx="682.4" cy="1579.1" r="2.1" fill="url(#spotR)"/>
<circle cx="698.3" cy="1579.1" r="2.1" fill="url(#spotR)"/>
<circle cx="556.4" cy="1594.8" r="2.1" fill="url(#spotR)"/>
<circle cx="572.3" cy="1594.8" r="1.7" fill="url(#spotD)"/>
<circle cx="603.7" cy="1594.8" r="1.7" fill="url(#spotD)"/>
<circle cx="635.1" cy="1594.8" r="1.7" fill="url(#spotD)"/>
<circle cx="666.5" cy="1594.8" r="1.7" fill="url(#spotD)"/>
<circle cx="682.4" cy="1594.8" r="1.7" fill="url(#spotD)"/>
<circle cx="698.3" cy="1594.8" r="1.7" fill="url(#spotD)"/>
<circle cx="191.7" cy="1790.3" r="2.4" fill="url(#spotY)"/>
<circle cx="389.9" cy="1775" r="2.1" fill="url(#spotR)"/>
<circle cx="405.6" cy="1775" r="3.2" fill="url(#spotB)"/>
<circle cx="402.6" cy="1781.2" r="2.1" fill="url(#spotR)"/>
<circle cx="408.9" cy="1768.7" r="2.1" fill="url(#spotR)"/>
<circle cx="405.6" cy="1759.1" r="2.1" fill="url(#spotR)"/>
<circle cx="411.9" cy="1777.9" r="2.1" fill="url(#spotR)"/>
<circle cx="396" cy="1777.9" r="1.7" fill="url(#spotD)"/>
<circle cx="421.3" cy="1775" r="2.1" fill="url(#spotR)"/>
<circle cx="427.6" cy="1777.9" r="2.1" fill="url(#spotR)"/>
<circle cx="405.6" cy="1791.2" r="2.1" fill="url(#spotR)"/>
<circle cx="389.9" cy="1791.2" r="1.7" fill="url(#spotD)"/>
<circle cx="421.3" cy="1791.2" r="1.7" fill="url(#spotD)"/>
<circle cx="411.9" cy="1810.1" r="2.1" fill="url(#spotR)"/>
<circle cx="405.6" cy="1806.9" r="1.7" fill="url(#spotD)"/>
<circle cx="402.6" cy="1797.5" r="1.7" fill="url(#spotD)"/>
<circle cx="402.6" cy="1813.4" r="1.7" fill="url(#spotD)"/>
<circle cx="402.6" cy="1829" r="1.5" fill="url(#spotVD)"/>
<circle cx="389.9" cy="1759.1" r="1.5" fill="url(#spotVD)"/>
<circle cx="446.7" cy="1772" r="1.5" fill="url(#spotVD)"/>
<circle cx="408.9" cy="1785" r="1.7" fill="url(#spotD)"/>
<circle cx="603.69" cy="1743.71" r="3.0" fill="url(#spotO)"/>
<circle cx="619.55" cy="1743.71" r="3.0" fill="url(#spotO)"/>
<circle cx="603.69" cy="1759.87" r="2.1" fill="url(#spotR)"/>
<circle cx="619.55" cy="1759.87" r="3.2" fill="url(#spotB)"/>
<circle cx="603.69" cy="1775.58" r="3.2" fill="url(#spotB)"/>
<circle cx="635.12" cy="1775.58" r="3.0" fill="url(#spotO)"/>
<circle cx="603.69" cy="1791.74" r="2.1" fill="url(#spotR)"/>
<circle cx="616.62" cy="1749.88" r="2.1" fill="url(#spotR)"/>
<circle cx="622.49" cy="1753.26" r="2.1" fill="url(#spotR)"/>
<circle cx="629.1" cy="1756.49" r="2.1" fill="url(#spotR)"/>
<circle cx="644.52" cy="1756.49" r="2.1" fill="url(#spotR)"/>
<circle cx="635.12" cy="1759.87" r="2.1" fill="url(#spotR)"/>
<circle cx="644.52" cy="1772.65" r="2.1" fill="url(#spotR)"/>
<circle cx="650.84" cy="1775.58" r="2.1" fill="url(#spotR)"/>
<circle cx="616.62" cy="1781.9" r="2.1" fill="url(#spotR)"/>
<circle cx="617.79" cy="1787.04" r="2.1" fill="url(#spotR)"/>
<circle cx="622.49" cy="1737.4" r="1.7" fill="url(#spotD)"/>
<circle cx="676.1" cy="1756.49" r="2.1" fill="url(#spotR)"/>
<circle cx="669.49" cy="1769.41" r="2.1" fill="url(#spotR)"/>
<circle cx="666.55" cy="1791.74" r="2.1" fill="url(#spotR)"/>
<circle cx="636.88" cy="1796.58" r="2.1" fill="url(#spotR)"/>
<circle cx="662.14" cy="1825.22" r="1.7" fill="url(#spotD)"/>
<circle cx="587.98" cy="1743.71" r="1.7" fill="url(#spotD)"/>
<circle cx="587.98" cy="1759.87" r="1.7" fill="url(#spotD)"/>
<circle cx="587.98" cy="1775.58" r="1.7" fill="url(#spotD)"/>
<circle cx="605.6" cy="1764.27" r="1.7" fill="url(#spotD)"/>
<circle cx="619.55" cy="1775.58" r="1.7" fill="url(#spotD)"/>
<circle cx="619.55" cy="1791.74" r="1.7" fill="url(#spotD)"/>
<circle cx="635.12" cy="1791.74" r="1.7" fill="url(#spotD)"/>
<circle cx="650.84" cy="1743.71" r="1.7" fill="url(#spotD)"/>
<circle cx="635.12" cy="1727.56" r="1.5" fill="url(#spotVD)"/>
<circle cx="603.69" cy="1727.56" r="1.5" fill="url(#spotVD)"/>
<circle cx="638.35" cy="1737.4" r="1.7" fill="url(#spotD)"/>
<circle cx="657" cy="1746.65" r="1.5" fill="url(#spotVD)"/>
<circle cx="673.16" cy="1746.65" r="1.7" fill="url(#spotD)"/>
<circle cx="660.68" cy="1772.65" r="1.7" fill="url(#spotD)"/>
<circle cx="666.55" cy="1759.87" r="1.5" fill="url(#spotVD)"/>
<circle cx="654.07" cy="1801.72" r="1.7" fill="url(#spotD)"/>
<circle cx="666.55" cy="1807.6" r="1.7" fill="url(#spotD)"/>
<circle cx="662.14" cy="1809.07" r="1.7" fill="url(#spotD)"/>
<circle cx="616.62" cy="1798.05" r="1.7" fill="url(#spotD)"/>
<circle cx="635.12" cy="1807.6" r="1.7" fill="url(#spotD)"/>
<circle cx="603.69" cy="1807.6" r="1.7" fill="url(#spotD)"/>
<circle cx="622.49" cy="1817.88" r="1.7" fill="url(#spotD)"/>
<circle cx="619.55" cy="1823.75" r="1.7" fill="url(#spotD)"/>
<circle cx="645.99" cy="1825.22" r="1.5" fill="url(#spotVD)"/>
<circle cx="676.1" cy="1740.04" r="1.5" fill="url(#spotVD)"/>
<circle cx="625.43" cy="1762.81" r="1.7" fill="url(#spotD)"/>
<circle cx="641.58" cy="1762.81" r="1.7" fill="url(#spotD)"/>
<circle cx="657.74" cy="1756.93" r="1.5" fill="url(#spotVD)"/>
<circle cx="679.77" cy="1802.46" r="1.5" fill="url(#spotVD)"/>
<circle cx="688.58" cy="1778.23" r="1.5" fill="url(#spotVD)"/>
<circle cx="681.24" cy="1774.55" r="1.5" fill="url(#spotVD)"/>
<line x1="92.6" y1="1850.9" x2="92.6" y2="1815" stroke="#fff" stroke-width="2.3" />
<line x1="91.5" y1="1850.9" x2="128" y2="1850.9" stroke="#fff" stroke-width="2.3" />
<path d="M92.6,1797.3 L88.5,1817.9 L97.7,1817.9 Z" fill="#fff" stroke="none" stroke-width="1" />
<path d="M146.2,1850.9 L125.6,1846.2 L125.6,1855.5 Z" fill="#fff" stroke="none" stroke-width="1" />
<text class="w" x="104" y="1819" font-size="31" font-family="Liberation Serif" text-anchor="start" fill="#fff" >y</text>
<text class="w" x="129.5" y="1842.2" font-size="31" font-family="Liberation Serif" text-anchor="start" fill="#fff" >x</text>
<text class="w" x="240.2" y="1229" font-size="29" font-family="Liberation Sans" text-anchor="middle" fill="#fff" >0</text>
<text class="w" x="472" y="1228.5" font-size="29" font-family="Liberation Sans" text-anchor="end" fill="#fff" >Z</text>
<text class="w" x="702.5" y="1226.7" font-size="29" font-family="Liberation Sans" text-anchor="end" fill="#fff" >2Z</text>
<text class="w" x="241.7" y="1470" font-size="29" font-family="Liberation Sans" text-anchor="middle" fill="#fff" >0</text>
<text class="w" x="477" y="1471.4" font-size="29" font-family="Liberation Sans" text-anchor="end" fill="#fff" >Z</text>
<text class="w" x="708" y="1469.6" font-size="29" font-family="Liberation Sans" text-anchor="end" fill="#fff" >2Z</text>
<text class="w" x="242" y="1713.6" font-size="29" font-family="Liberation Sans" text-anchor="middle" fill="#fff" >0</text>
<text class="w" x="477" y="1715.8" font-size="29" font-family="Liberation Sans" text-anchor="end" fill="#fff" >Z</text>
<text class="w" x="708" y="1714" font-size="29" font-family="Liberation Sans" text-anchor="end" fill="#fff" >2Z</text>
<text x="77.8" y="1205.9" font-size="17" font-family="Liberation Sans" text-anchor="end" fill="#000" >80</text>
<text x="77.8" y="1292.4" font-size="17" font-family="Liberation Sans" text-anchor="end" fill="#000" >10</text>
<text x="77.8" y="1375.6" font-size="17" font-family="Liberation Sans" text-anchor="end" fill="#000" >-60</text>
<text x="81.8" y="1390.1" font-size="17" font-family="Liberation Sans" text-anchor="middle" fill="#000" >-80</text>
<text x="168.8" y="1390.1" font-size="17" font-family="Liberation Sans" text-anchor="middle" fill="#000" >-10</text>
<text x="254.8" y="1390.1" font-size="17" font-family="Liberation Sans" text-anchor="middle" fill="#000" >60</text>
<text x="305.6" y="1208.6" font-size="17" font-family="Liberation Sans" text-anchor="end" fill="#000" >80</text>
<text x="305.6" y="1295.1" font-size="17" font-family="Liberation Sans" text-anchor="end" fill="#000" >10</text>
<text x="305.6" y="1377.8" font-size="17" font-family="Liberation Sans" text-anchor="end" fill="#000" >-60</text>
<text x="309.6" y="1392.3" font-size="17" font-family="Liberation Sans" text-anchor="middle" fill="#000" >-80</text>
<text x="396.6" y="1392.3" font-size="17" font-family="Liberation Sans" text-anchor="middle" fill="#000" >-10</text>
<text x="481.9" y="1392.3" font-size="17" font-family="Liberation Sans" text-anchor="middle" fill="#000" >60</text>
<text x="533.1" y="1205.4" font-size="17" font-family="Liberation Sans" text-anchor="end" fill="#000" >80</text>
<text x="533.1" y="1291.9" font-size="17" font-family="Liberation Sans" text-anchor="end" fill="#000" >10</text>
<text x="533.1" y="1378.1" font-size="17" font-family="Liberation Sans" text-anchor="end" fill="#000" >-60</text>
<text x="537.1" y="1392.6" font-size="17" font-family="Liberation Sans" text-anchor="middle" fill="#000" >-80</text>
<text x="624.1" y="1392.6" font-size="17" font-family="Liberation Sans" text-anchor="middle" fill="#000" >-10</text>
<text x="712.2" y="1392.6" font-size="17" font-family="Liberation Sans" text-anchor="middle" fill="#000" >60</text>
<text x="79.3" y="1446.7" font-size="17" font-family="Liberation Sans" text-anchor="end" fill="#000" >50</text>
<text x="79.3" y="1533.2" font-size="17" font-family="Liberation Sans" text-anchor="end" fill="#000" >10</text>
<text x="79.3" y="1619" font-size="17" font-family="Liberation Sans" text-anchor="end" fill="#000" >-30</text>
<text x="83.3" y="1633.5" font-size="17" font-family="Liberation Sans" text-anchor="middle" fill="#000" >-50</text>
<text x="170.3" y="1633.5" font-size="17" font-family="Liberation Sans" text-anchor="middle" fill="#000" >-10</text>
<text x="257.8" y="1633.5" font-size="17" font-family="Liberation Sans" text-anchor="middle" fill="#000" >30</text>
<text x="304.6" y="1446.7" font-size="17" font-family="Liberation Sans" text-anchor="end" fill="#000" >50</text>
<text x="304.6" y="1533.2" font-size="17" font-family="Liberation Sans" text-anchor="end" fill="#000" >10</text>
<text x="304.6" y="1618.3" font-size="17" font-family="Liberation Sans" text-anchor="end" fill="#000" >-30</text>
<text x="308.6" y="1632.8" font-size="17" font-family="Liberation Sans" text-anchor="middle" fill="#000" >-50</text>
<text x="395.6" y="1632.8" font-size="17" font-family="Liberation Sans" text-anchor="middle" fill="#000" >-10</text>
<text x="481.9" y="1632.8" font-size="17" font-family="Liberation Sans" text-anchor="middle" fill="#000" >30</text>
<text x="536.5" y="1445.4" font-size="17" font-family="Liberation Sans" text-anchor="end" fill="#000" >50</text>
<text x="536.5" y="1531.9" font-size="17" font-family="Liberation Sans" text-anchor="end" fill="#000" >10</text>
<text x="536.5" y="1617.1" font-size="17" font-family="Liberation Sans" text-anchor="end" fill="#000" >-30</text>
<text x="540.5" y="1631.6" font-size="17" font-family="Liberation Sans" text-anchor="middle" fill="#000" >-50</text>
<text x="627.5" y="1631.6" font-size="17" font-family="Liberation Sans" text-anchor="middle" fill="#000" >-10</text>
<text x="714" y="1631.6" font-size="17" font-family="Liberation Sans" text-anchor="middle" fill="#000" >30</text>
<text x="77.1" y="1686.4" font-size="17" font-family="Liberation Sans" text-anchor="end" fill="#000" >50</text>
<text x="77.1" y="1772.9" font-size="17" font-family="Liberation Sans" text-anchor="end" fill="#000" >10</text>
<text x="77.1" y="1860.8" font-size="17" font-family="Liberation Sans" text-anchor="end" fill="#000" >-30</text>
<text x="81.1" y="1875.3" font-size="17" font-family="Liberation Sans" text-anchor="middle" fill="#000" >-50</text>
<text x="168.1" y="1875.3" font-size="17" font-family="Liberation Sans" text-anchor="middle" fill="#000" >-10</text>
<text x="255.3" y="1875.3" font-size="17" font-family="Liberation Sans" text-anchor="middle" fill="#000" >30</text>
<text x="306.7" y="1687.1" font-size="17" font-family="Liberation Sans" text-anchor="end" fill="#000" >50</text>
<text x="306.7" y="1773.6" font-size="17" font-family="Liberation Sans" text-anchor="end" fill="#000" >10</text>
<text x="306.7" y="1861.5" font-size="17" font-family="Liberation Sans" text-anchor="end" fill="#000" >-30</text>
<text x="310.7" y="1876" font-size="17" font-family="Liberation Sans" text-anchor="middle" fill="#000" >-50</text>
<text x="397.7" y="1876" font-size="17" font-family="Liberation Sans" text-anchor="middle" fill="#000" >-10</text>
<text x="484.8" y="1876" font-size="17" font-family="Liberation Sans" text-anchor="middle" fill="#000" >30</text>
<text x="536.8" y="1687.9" font-size="17" font-family="Liberation Sans" text-anchor="end" fill="#000" >50</text>
<text x="536.8" y="1774.4" font-size="17" font-family="Liberation Sans" text-anchor="end" fill="#000" >10</text>
<text x="536.8" y="1862.2" font-size="17" font-family="Liberation Sans" text-anchor="end" fill="#000" >-30</text>
<text x="540.8" y="1876.7" font-size="17" font-family="Liberation Sans" text-anchor="middle" fill="#000" >-50</text>
<text x="627.8" y="1876.7" font-size="17" font-family="Liberation Sans" text-anchor="middle" fill="#000" >-10</text>
<text x="714" y="1876.7" font-size="17" font-family="Liberation Sans" text-anchor="middle" fill="#000" >30</text>
<text x="13" y="1240.8" font-size="56" font-family="Liberation Sans" text-anchor="start" fill="#000" >e</text>
<text x="15.5" y="1484" font-size="56" font-family="Liberation Sans" text-anchor="start" fill="#000" >f</text>
<text x="10" y="1729" font-size="56" font-family="Liberation Sans" text-anchor="start" fill="#000" >g</text>
<polyline points="848.6,1855.1 848.39,1854.87 848.07,1854.55 847.91,1854.04 848.21,1853.21 848.96,1851.91 850.05,1850.24 851.55,1848.46 853.55,1846.79 856.03,1845.24 858.96,1843.68 862.39,1842.24 866.37,1841.03 871.11,1840.11 876.52,1839.41 882.19,1838.83 887.74,1838.25 892.98,1837.64 898.15,1837.07 903.46,1836.56 909.1,1836.11 915.16,1835.77 921.52,1835.51 928.08,1835.28 934.74,1835.04 941.94,1834.74 949.57,1834.4 956.73,1834.12 962.52,1833.97 966.34,1834 968.8,1834.16 970.78,1834.39 973.21,1834.62 976.26,1834.9 979.48,1835.26 982.77,1835.56 986.03,1835.68 989.13,1835.56 992.17,1835.26 995.34,1834.9 998.85,1834.62 1002.97,1834.44 1007.53,1834.29 1012.02,1834.15 1015.94,1833.97 1019.06,1833.74 1021.68,1833.47 1024.1,1833.18 1026.62,1832.91 1029.24,1832.65 1031.83,1832.41 1034.49,1832.15 1037.31,1831.84 1040.36,1831.45 1043.58,1831.01 1046.87,1830.56 1050.13,1830.13 1053.33,1829.73 1056.54,1829.34 1059.74,1828.97 1062.95,1828.63 1065.85,1828.31 1068.56,1828 1071.66,1827.75 1075.77,1827.56 1081.38,1827.49 1088.06,1827.5 1095,1827.54 1101.41,1827.56 1107.05,1827.59 1112.36,1827.63 1117.54,1827.64 1122.78,1827.56 1127.75,1827.37 1132.47,1827.1 1137.69,1826.79 1144.15,1826.5 1152.71,1826.21 1162.76,1825.92 1172.81,1825.65 1181.37,1825.43 1187.82,1825.32 1193.04,1825.29 1197.76,1825.23 1202.74,1825 1208.08,1824.48 1213.42,1823.76 1218.76,1823.07 1224.1,1822.65 1229.64,1822.64 1235.32,1822.89 1240.73,1823.18 1245.47,1823.29 1249.08,1823.21 1251.88,1823.04 1254.68,1822.72 1258.29,1822.22 1263.13,1821.45 1268.71,1820.46 1274.42,1819.39 1279.66,1818.38 1284.33,1817.41 1288.74,1816.43 1292.88,1815.51 1296.75,1814.74 1300.06,1814.18 1302.9,1813.76 1305.87,1813.4 1309.57,1813.03 1314.51,1812.66 1320.26,1812.31 1326,1811.95 1330.94,1811.54 1334.65,1811.07 1337.62,1810.58 1340.46,1810.03 1343.76,1809.4 1347.83,1808.65 1352.31,1807.8 1356.78,1806.95 1360.85,1806.2 1364.36,1805.58 1367.53,1805.05 1370.57,1804.55 1373.68,1804.06 1376.88,1803.52 1380.09,1802.98 1383.29,1802.49 1386.5,1802.14 1389.6,1801.97 1392.64,1801.94 1395.81,1801.95 1399.32,1801.92 1403.19,1801.82 1407.33,1801.7 1411.74,1801.58 1416.41,1801.5 1421.45,1801.49 1426.83,1801.54 1432.34,1801.56 1437.78,1801.5 1443.16,1801.28 1448.56,1800.97 1453.91,1800.66 1459.15,1800.43 1464.68,1800.31 1470.41,1800.25 1475.47,1800.23 1479,1800.21" fill="none" stroke="#ff0000" stroke-width="2.4" stroke-linejoin="round" stroke-linecap="round" />
<polyline points="848.6,1855.1 848.29,1854.94 847.8,1854.75 847.61,1854.27 848.21,1853.21 849.83,1851.34 852.19,1848.88 854.96,1846.17 857.82,1843.59 860.7,1841.15 863.76,1838.68 867.06,1836.26 870.64,1833.97 874.51,1831.88 878.65,1829.93 883.06,1828.02 887.74,1826.07 892.68,1824 897.88,1821.89 903.36,1819.83 909.1,1817.95 915.46,1816.22 922.32,1814.61 928.98,1813.17 934.74,1811.97 939.03,1811.17 942.36,1810.71 945.61,1810.23 949.7,1809.4 955.03,1808.14 961.05,1806.64 967.28,1804.91 973.21,1802.99 978.9,1800.76 984.56,1798.25 989.88,1795.7 994.57,1793.38 998.33,1791.46 1001.38,1789.77 1004.24,1788.02 1007.39,1785.9 1010.98,1783.16 1014.74,1780.02 1018.56,1776.88 1022.35,1774.15 1026.14,1771.98 1029.96,1770.14 1033.72,1768.44 1037.31,1766.67 1040.61,1764.75 1043.72,1762.79 1046.82,1760.91 1050.13,1759.19 1053.72,1757.69 1057.47,1756.34 1061.3,1755.09 1065.09,1753.85 1068.67,1752.63 1072.16,1751.47 1075.85,1750.32 1080.04,1749.15 1084.93,1747.92 1090.33,1746.66 1095.92,1745.42 1101.41,1744.23 1106.75,1743.1 1112.09,1742.01 1117.44,1740.97 1122.78,1739.96 1127.75,1739.08 1132.47,1738.31 1137.69,1737.46 1144.15,1736.32 1152.71,1734.74 1162.76,1732.84 1172.81,1730.92 1181.37,1729.27 1187.82,1728.01 1193.04,1726.96 1197.76,1726 1202.74,1725 1208.33,1723.88 1214.09,1722.73 1219.51,1721.64 1224.1,1720.73 1227.42,1720.09 1229.85,1719.66 1232.07,1719.22 1234.79,1718.59 1238.18,1717.7 1241.86,1716.65 1245.75,1715.51 1249.74,1714.32 1253.92,1713.07 1258.29,1711.75 1262.66,1710.38 1266.84,1708.97 1270.73,1707.59 1274.45,1706.21 1278.11,1704.71 1281.79,1702.99 1285.58,1700.97 1289.41,1698.73 1293.16,1696.38 1296.75,1694.02 1300.11,1691.71 1303.3,1689.38 1306.42,1686.97 1309.57,1684.4 1312.88,1681.54 1316.25,1678.46 1319.49,1675.41 1322.39,1672.65 1324.78,1670.26 1326.8,1668.11 1328.75,1666.09 1330.94,1664.1 1333.46,1662.12 1336.15,1660.19 1338.9,1658.35 1341.62,1656.62 1344.29,1655.07 1346.97,1653.65 1349.64,1652.27 1352.31,1650.85 1354.83,1649.39 1357.25,1647.93 1359.87,1646.43 1362.99,1644.87 1366.86,1643.18 1371.27,1641.39 1375.81,1639.63 1380.09,1638.03 1383.82,1636.69 1387.3,1635.51 1390.9,1634.36 1395.04,1633.12 1399.93,1631.72 1405.33,1630.24 1410.92,1628.75 1416.41,1627.35 1421.75,1626.03 1427.09,1624.76 1432.44,1623.55 1437.78,1622.44 1443.16,1621.43 1448.56,1620.51 1453.91,1619.65 1459.15,1618.8 1464.68,1617.9 1470.41,1616.97 1475.47,1616.16 1479,1615.6" fill="none" stroke="#00ff00" stroke-width="2.4" stroke-linejoin="round" stroke-linecap="round" />
<line x1="848.6" y1="1855.1" x2="1479.5" y2="1196.22" stroke="#0000ff" stroke-width="2.6" />
<rect x="848.6" y="1191.8" width="630.9" height="663.3" fill="none" stroke="#000" stroke-width="2" />
<line x1="848.6" y1="1855.1" x2="848.6" y2="1868.3" stroke="#000" stroke-width="2" />
<line x1="974.78" y1="1855.1" x2="974.78" y2="1868.3" stroke="#000" stroke-width="2" />
<line x1="1100.96" y1="1855.1" x2="1100.96" y2="1868.3" stroke="#000" stroke-width="2" />
<line x1="1227.14" y1="1855.1" x2="1227.14" y2="1868.3" stroke="#000" stroke-width="2" />
<line x1="1353.32" y1="1855.1" x2="1353.32" y2="1868.3" stroke="#000" stroke-width="2" />
<line x1="1479.5" y1="1855.1" x2="1479.5" y2="1868.3" stroke="#000" stroke-width="2" />
<line x1="911.69" y1="1855.1" x2="911.69" y2="1862.1" stroke="#000" stroke-width="2" />
<line x1="1037.87" y1="1855.1" x2="1037.87" y2="1862.1" stroke="#000" stroke-width="2" />
<line x1="1164.05" y1="1855.1" x2="1164.05" y2="1862.1" stroke="#000" stroke-width="2" />
<line x1="1290.23" y1="1855.1" x2="1290.23" y2="1862.1" stroke="#000" stroke-width="2" />
<line x1="1416.41" y1="1855.1" x2="1416.41" y2="1862.1" stroke="#000" stroke-width="2" />
<line x1="835.4" y1="1855.1" x2="848.6" y2="1855.1" stroke="#000" stroke-width="2" />
<line x1="835.4" y1="1689.27" x2="848.6" y2="1689.27" stroke="#000" stroke-width="2" />
<line x1="835.4" y1="1523.45" x2="848.6" y2="1523.45" stroke="#000" stroke-width="2" />
<line x1="835.4" y1="1357.62" x2="848.6" y2="1357.62" stroke="#000" stroke-width="2" />
<line x1="835.4" y1="1191.8" x2="848.6" y2="1191.8" stroke="#000" stroke-width="2" />
<line x1="841.6" y1="1772.19" x2="848.6" y2="1772.19" stroke="#000" stroke-width="2" />
<line x1="841.6" y1="1606.36" x2="848.6" y2="1606.36" stroke="#000" stroke-width="2" />
<line x1="841.6" y1="1440.54" x2="848.6" y2="1440.54" stroke="#000" stroke-width="2" />
<line x1="841.6" y1="1274.71" x2="848.6" y2="1274.71" stroke="#000" stroke-width="2" />
<text x="848.6" y="1899.2" font-size="29" font-family="Liberation Sans" text-anchor="middle" fill="#000" >0.0</text>
<text x="974.78" y="1899.2" font-size="29" font-family="Liberation Sans" text-anchor="middle" fill="#000" >0.2</text>
<text x="1100.96" y="1899.2" font-size="29" font-family="Liberation Sans" text-anchor="middle" fill="#000" >0.4</text>
<text x="1227.14" y="1899.2" font-size="29" font-family="Liberation Sans" text-anchor="middle" fill="#000" >0.6</text>
<text x="1353.32" y="1899.2" font-size="29" font-family="Liberation Sans" text-anchor="middle" fill="#000" >0.8</text>
<text x="1479.5" y="1899.2" font-size="29" font-family="Liberation Sans" text-anchor="middle" fill="#000" >1.0</text>
<text x="826" y="1864.3" font-size="29" font-family="Liberation Sans" text-anchor="end" fill="#000" >0</text>
<text x="826" y="1698.47" font-size="29" font-family="Liberation Sans" text-anchor="end" fill="#000" >30</text>
<text x="826" y="1532.65" font-size="29" font-family="Liberation Sans" text-anchor="end" fill="#000" >60</text>
<text x="826" y="1366.83" font-size="29" font-family="Liberation Sans" text-anchor="end" fill="#000" >90</text>
<text x="826" y="1201" font-size="29" font-family="Liberation Sans" text-anchor="end" fill="#000" >120</text>
<text x="749.5" y="1283" font-size="55" font-family="Liberation Sans" text-anchor="start" fill="#000" >h</text>
<text x="1164" y="1938.9" font-size="44" font-family="Liberation Sans" text-anchor="middle" fill="#000" >z/Z</text>
<text transform="translate(775.4,1605.5) rotate(-90)" font-size="40" font-family="Liberation Sans">&lt;(r-r<tspan font-size="24" dy="13">c</tspan><tspan dy="-13">)</tspan><tspan font-size="24" dy="-18.4">2</tspan><tspan dy="18.4">&gt;</tspan><tspan font-size="24" dy="-18.2">1/2</tspan></text>
<rect x="860.4" y="1204.4" width="261.7" height="89.8" fill="#fff" stroke="#000" stroke-width="2" />
<line x1="881.9" y1="1227" x2="932.9" y2="1227" stroke="#ff0000" stroke-width="2.2" />
<text x="938.5" y="1234.8" font-size="21.5" font-family="Liberation Sans">Tilted moire lattice</text>
<line x1="881.9" y1="1254.1" x2="932.9" y2="1254.1" stroke="#00ff00" stroke-width="2.2" />
<text x="938.5" y="1261.9" font-size="21.5" font-family="Liberation Sans">Tilted lattice</text>
<line x1="881.9" y1="1280.8" x2="932.9" y2="1280.8" stroke="#0000ff" stroke-width="2.2" />
<text x="938.5" y="1288.6" font-size="21.5" font-family="Liberation Sans">Single lattice</text>
</svg></body></html>
